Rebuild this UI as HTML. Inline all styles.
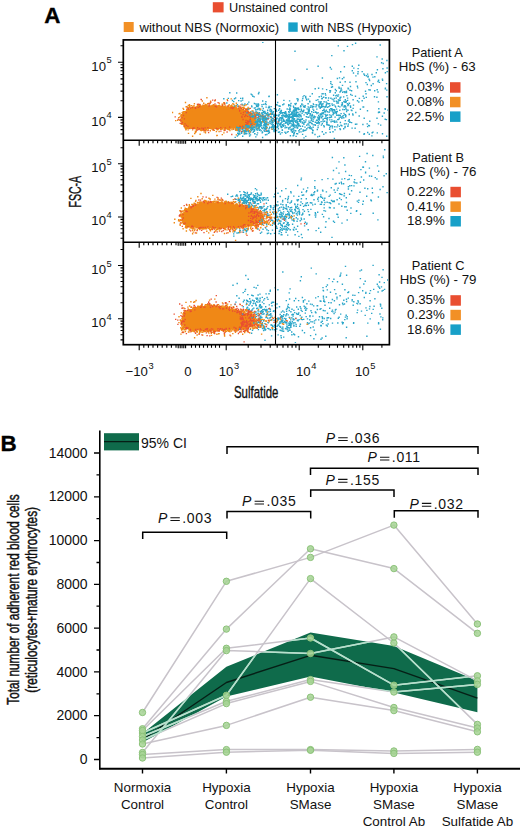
<!DOCTYPE html>
<html><head><meta charset="utf-8"><style>
html,body{margin:0;padding:0;background:#fff;}
body{width:520px;height:830px;overflow:hidden;font-family:"Liberation Sans",sans-serif;}
svg{display:block;}
</style></head><body>
<svg width="520" height="830" viewBox="0 0 520 830">
<defs><filter id="soft" x="0" y="0" width="1" height="1"><feGaussianBlur stdDeviation="0.3"/></filter></defs>
<g filter="url(#soft)"><path d="M257.3 123.7h0M265.8 118.8h0M262.6 137.5h0M264.7 117.1h0M283.9 104h0M255.7 120.6h0M295.7 115h0M242.6 131.3h0M271.4 127.8h0M264.5 125.2h0M257.3 130.1h0M279 119.9h0M250.1 127.9h0M280.2 124.3h0M298.9 119.3h0M288.7 111.6h0M251.8 119.2h0M298.1 99.3h0M293.5 106.2h0M296.3 108.7h0M285.4 115.5h0M270.4 114.1h0M274.8 115.9h0M251.6 129.1h0M287.6 120.1h0M247.8 128h0M276 121.7h0M251.8 124.8h0M237.7 133.2h0M246.8 133.6h0M254.7 120.7h0M274.3 120.9h0M293.1 113.2h0M254 126.8h0M292.3 132.3h0M296.6 116.4h0M252.2 129.1h0M264.1 130.2h0M297.1 98.8h0M268.5 122.9h0M296.2 109.3h0M286.3 127.5h0M270.2 109.4h0M290.3 123h0M255.6 127.9h0M278.7 120.9h0M252.5 115.7h0M288.9 129h0M276.4 118.8h0M290.2 105.3h0M278.5 132.3h0M241.4 132.4h0M253 128.3h0M255.8 136.9h0M270 121.3h0M246 133.9h0M245.7 125.2h0M245.9 127.3h0M244.9 126.9h0M278.6 115.9h0M276.4 122.8h0M241 126.3h0M282.1 113.4h0M286.6 116h0M284.5 113.2h0M260.3 120h0M257.1 125.4h0M251.7 123.6h0M289.5 123.5h0M288.7 104.8h0M283.8 115.2h0M277.3 126.6h0M295.3 116.2h0M276 109.5h0M277.7 123.9h0M265 124.5h0M235.6 130h0M297.6 121.8h0M290.1 121.2h0M253.4 120.1h0M255 128h0M282.8 115h0M245.2 130.8h0M283.6 121h0M266.1 131.3h0M239.6 130.9h0M286.9 127.5h0M281.8 122.3h0M248.7 124.2h0M271.5 110.2h0M238.5 134.8h0M259.3 130.2h0M289.5 114.8h0M298.4 114.3h0M264.7 123h0M272.4 122.3h0M280.8 112h0M280.4 134h0M286.6 114.3h0M268.5 124.6h0M292.6 120.4h0M285.6 122.7h0M251.5 119.2h0M258.2 115.4h0M288.7 105.7h0M264.7 125.2h0M252 125.3h0M236.3 129.4h0M251.1 122.3h0M297.6 123.3h0M280.9 126.1h0M292.9 131.7h0M276.6 115.3h0M276.1 123.4h0M278.8 121.8h0M295.6 104.5h0M266 126.4h0M273.9 129.5h0M268.5 130.4h0M279.6 132h0M272.4 113.1h0M257.5 125.6h0M273.3 124.6h0M275.9 122.9h0M286.6 120h0M281.3 126.6h0M255.3 123.5h0M266.9 134.5h0M259.4 112.6h0M251.8 123.9h0M288.3 124.7h0M274.8 117h0M277.4 127.4h0M250.7 127.1h0M285.4 112.9h0M254.9 129.9h0M285.6 111.7h0M281.8 115.7h0M288.7 128h0M256.4 124.5h0M235.2 137.4h0M274.1 131.5h0M271.3 119.6h0M296.4 108.4h0M250.2 115.6h0M280.5 123.7h0M247.1 126.4h0M261.8 127.7h0M248.6 128.1h0M273 122.6h0M246.6 130.7h0M288.1 116.2h0M272.1 121.3h0M257.6 132.9h0M291.2 129.7h0M277.7 102.5h0M289.3 116.3h0M237 127h0M247.7 129.3h0M298 108h0M277.3 118.1h0M263.9 124.5h0M273.8 116h0M284.8 112.4h0M275.6 117.4h0M269.7 127.3h0M265.9 118.8h0M263.9 117h0M262.6 119.8h0M285.3 125.9h0M266.9 122.8h0M279.6 108.7h0M248.9 126.8h0M299.4 121.4h0M264.7 122.8h0M237.4 130.5h0M267.1 127.2h0M262.3 128.6h0M250.6 117.5h0M282.6 117.4h0M276.3 110.4h0M242.8 130.9h0M291.8 112.2h0M237.9 128h0M262.8 117.1h0M293.7 116h0M293.9 114.5h0M285 132.2h0M298.5 108.3h0M285 121.4h0M294.7 121.1h0M236.8 128h0M275.4 116.8h0M293.7 110.9h0M250.2 122.7h0M247.9 130h0M268 114.3h0M258.9 117.1h0M261 124.2h0M249.6 136h0M294.9 109h0M295 112.8h0M293.8 116h0M237.1 129.1h0M262.9 118.1h0M290.4 135.8h0M285 127.9h0M267.9 113.1h0M293 115.3h0M274.4 129.2h0M267.1 124.7h0M251.4 115.9h0M297 126.7h0M239.8 129.3h0M255.3 107.9h0M252.6 122.7h0M297.6 133.7h0M267.4 118.6h0M293.4 128.5h0M247.1 126.7h0M293.1 121.6h0M247.3 126.5h0M268.2 118.2h0M282.2 118.6h0M249.9 113.5h0M257.6 128.4h0M254.1 121.1h0M257.4 124.2h0M281.3 119.1h0M266.7 128.3h0M272.4 126.3h0M259.5 119.1h0M275.5 123.8h0M264.7 122.3h0M271.3 124.1h0M295.8 125.9h0M250.7 131.7h0M242 131.8h0M293.7 110.3h0M253.1 132.4h0M297.7 124.5h0M291.3 130.7h0M259.6 126.8h0M294.6 126.9h0M263.9 122.2h0M251.9 122.4h0M292.8 129.4h0M261.1 130.8h0M299.2 132.1h0M239.9 134h0M292.8 116.9h0M251.6 127.5h0M251.2 126.4h0M244 110.9h0M252.8 127.7h0M242.1 129.4h0M249.6 133.2h0M283.5 115.6h0M271.2 113.1h0M287.3 132.1h0M297 125.4h0M292.6 112.7h0M267.4 130.9h0M291.5 117.2h0M251 121.4h0M257 121.5h0M295 127.6h0M294.9 110.4h0M261.4 122.2h0M273.3 127.3h0M282.5 117.2h0M252.9 115.3h0M251.7 129.9h0M293.8 124.5h0M269.1 114.8h0M282.1 127.1h0M239.1 127.9h0M280.5 113.6h0M256.9 113.2h0M290.2 120.9h0M263.1 118.2h0M278.7 110.2h0M259.4 116.3h0M254.7 133.7h0M299.2 125.3h0M296.2 120.8h0M247.5 129.4h0M274.6 117.3h0M285.9 112.5h0M280 117.8h0M294.7 115.8h0M263.9 125.6h0M254.1 129.8h0M253.4 120.2h0M277.8 125.6h0M251.7 125.6h0M252.3 128.7h0M272.8 122.6h0M293.2 135.6h0M275.4 127.3h0M261.1 123.6h0M266.6 114.9h0M280.6 126h0M254.1 123.9h0M255.7 123.6h0M287.9 122.1h0M293.6 126.4h0M273.5 128.4h0M271.3 114.6h0M287.8 124.4h0M263.5 120.1h0M283.6 125.2h0M289.5 121.1h0M258.4 128.8h0M289.4 118.2h0M298 124h0M259.2 119.3h0M269.8 110.9h0M264.2 118.7h0M258 125.5h0M275.1 115.2h0M283.9 100.4h0M293.2 125.3h0M257 128.2h0M248.5 131.7h0M265.7 119.1h0M270.1 123.4h0M258.6 121.2h0M283.7 121.2h0M297.4 123.7h0M251.9 129.3h0M240 130.5h0M257.4 124.7h0M276.6 122.4h0M246.4 131.8h0M256.8 123.7h0M267.6 116h0M252.7 122h0M299.3 114.5h0M243 127.2h0M298.7 109.5h0M274.4 114.9h0M276.6 111.4h0M289.8 110h0M239.3 131.8h0M257.6 128.2h0M260.1 129.6h0M290.4 117.2h0M260.3 120.7h0M286.6 116.1h0M283.4 112.6h0M289.4 121.8h0M263.5 116.8h0M245.4 126.3h0M298.7 123.5h0M256.2 122.9h0M244.9 126.8h0M291.2 126h0M261.5 123.3h0M252.8 116.9h0M284.1 120.4h0M296.5 108.4h0M283.5 119.6h0M258.8 113.9h0M276.5 119.7h0M265 113.6h0M269.5 132.6h0M288.9 120.5h0M274.9 125.8h0M289.8 115h0M272.2 129.4h0M293.5 123.2h0M246.3 126.8h0M253.7 124.2h0M258.8 118.8h0M297.2 109h0M253.6 123.8h0M277.9 125.3h0M290.3 109.1h0M249.9 128h0M250 127.6h0M257.7 125.7h0M252.6 127.6h0M293.7 107.6h0M282.4 124.6h0M253.4 124.2h0M261.6 125.9h0M239.5 127.3h0M254.4 131h0M261.8 125.9h0M257 114.8h0M293.7 119.5h0M282.8 104.8h0M276.9 123.6h0M296 121h0M269.2 128.6h0M292.1 117.9h0M283.4 126.2h0M293.8 135h0M280.7 111.2h0M267.3 131.2h0M246.1 127.9h0M294.5 132.3h0M265.5 117.5h0M270.4 116.6h0M257 134.7h0M288 116.5h0M256 126.1h0M258.9 127.9h0M280.9 117.7h0M246.7 131.4h0M291.6 120.1h0M277.4 94.7h0M289.4 120.1h0M282.3 129.9h0M273 112.6h0M297.8 100.7h0M239 133.4h0M273.5 128.2h0M250.6 129.4h0M236.5 126.8h0M282.3 112.6h0M250.9 130h0M266.9 118.7h0M254 113.2h0M282.6 125.4h0M285.8 133.3h0M289.1 109.4h0M248.8 130.8h0M298.7 126h0M245.7 131.9h0M247.9 129.2h0M246.9 130.7h0M249.2 133.9h0M248.6 131.3h0M257.3 124h0M252 119.7h0M292 114.6h0M286 117.4h0M289.3 118.5h0M265.9 124.8h0M288.4 124.6h0M276.6 130.5h0M287.9 121.1h0M253.5 118.3h0M250.9 127.4h0M278.4 128.7h0M320.8 103.7h0M340 128.8h0M321.4 125.1h0M319.2 119.1h0M313.7 104.6h0M331.9 108.7h0M301.1 128.8h0M307.3 114.1h0M302.5 118.8h0M329.1 112.3h0M339 119.1h0M303.5 111h0M321.3 114.7h0M336.9 103h0M301 131.9h0M344.3 102h0M340.2 100.2h0M299.2 109.4h0M320.6 114h0M313.3 124.9h0M308.6 111.1h0M303.2 130h0M319.7 118h0M316.8 123h0M292.1 116.7h0M338 101.6h0M329.2 125.2h0M334.2 120.9h0M311.9 117h0M291.6 121.3h0M346.6 111.5h0M315.6 112h0M327.6 107.3h0M339.9 106.9h0M312.3 93.7h0M349.2 114.5h0M330 110.7h0M303.1 131.4h0M305.6 121.9h0M338.2 119.5h0M329.8 119.9h0M317.7 136.9h0M326.7 118.5h0M313.2 121.2h0M313.6 117.2h0M320.7 102.9h0M348.4 121.1h0M331.1 121.8h0M347.9 105.5h0M308.3 113.3h0M300.9 119.1h0M324.1 109.1h0M300.7 119.6h0M302.6 126.3h0M309.7 127.7h0M332.2 110.2h0M319.4 104.5h0M322.3 131.8h0M320.1 102.1h0M348.5 104.7h0M292.3 112.7h0M346.8 109.9h0M320.5 115h0M323.8 134.3h0M318.7 115.4h0M325.2 107h0M305.7 97.8h0M304.1 114.9h0M325.9 116.7h0M327.1 122.8h0M302.6 122.2h0M344.4 106.1h0M343.2 115.7h0M341.9 118.3h0M345.5 106.5h0M347.6 98.1h0M310.2 126.4h0M300.5 115.9h0M334.8 126.7h0M299.4 121.1h0M301.1 116.7h0M292 114.5h0M303.6 106.7h0M330.4 117.4h0M315.4 125.3h0M331.5 109.4h0M319.2 116.8h0M326.1 102h0M332 126h0M310.3 107.2h0M345.3 120.6h0M312.8 130.8h0M294.1 111.7h0M341.6 105h0M295.3 110h0M318.1 112.7h0M297.1 127.7h0M327.1 103.3h0M306.8 128.7h0M343.1 115.7h0M303.9 120.6h0M332.1 104h0M292.7 125.9h0M295.7 130.7h0M317.1 120.3h0M305.8 130.3h0M323.1 113.9h0M296.5 110.7h0M342.8 109.5h0M332.4 127.9h0M311.2 120.4h0M304.1 95.6h0M323 120.1h0M292.8 115.6h0M319.5 136.3h0M294.2 116.2h0M311.6 123.4h0M318.9 105.3h0M333 114.7h0M299.8 115.7h0M302.3 123.1h0M304.9 107.3h0M348.3 124.1h0M292.4 112.9h0M325.3 118.4h0M349.3 114.1h0M348.1 125.9h0M301.9 104h0M321.1 121.6h0M308 124h0M334.7 110.3h0M292.3 121.4h0M313 106.8h0M298 112.4h0M340.4 129.6h0M296.7 125.4h0M345.9 115.5h0M297 116.9h0M299.9 119.8h0M316.9 113.5h0M319.5 117.3h0M335.3 106.3h0M334.4 138.4h0M292.4 124.7h0M327.5 115h0M346.9 95.6h0M321.2 107.4h0M326.6 122.2h0M304 137.9h0M346.5 92.6h0M334.5 122.1h0M295.2 110.4h0M326.5 115.2h0M334 104.9h0M328.6 98h0M341.8 105.1h0M318.6 118.4h0M318.1 127.6h0M294.3 114.1h0M307.2 114.3h0M308.1 127.5h0M309.2 113.1h0M297.2 112.5h0M292.7 131.1h0M299.7 114.3h0M330.6 108.6h0M342.4 104.3h0M327.2 120.9h0M303.9 124.4h0M323.1 121.8h0M305.8 136.4h0M312.3 106.2h0M324.1 110.5h0M291.5 121h0M325.5 111.7h0M290.8 114.5h0M309.4 110.5h0M338.4 106.3h0M308.5 117.2h0M310.1 115.2h0M301.8 104.2h0M313.1 127.3h0M319.3 120.1h0M303.8 123.1h0M292 121.1h0M297.6 128.1h0M308.1 112.2h0M304.8 122.3h0M329.6 117.5h0M322.7 116.2h0M334.4 109.8h0M296.3 113.7h0M312.1 123.8h0M327 124.8h0M340.9 97.1h0M315.3 122.2h0M345.3 114.7h0M335.3 92.8h0M336.9 95.1h0M336.3 111.7h0M320.2 114.1h0M294.6 119h0M309.2 109.7h0M295 103.7h0M309 125.1h0M345.9 101h0M335.7 112h0M316 106.8h0M318 118.1h0M344.5 109.6h0M294 116.2h0M321.4 96.3h0M329.6 109.6h0M300.3 120.3h0M299 114.5h0M290.7 117.3h0M332.9 110.1h0M303.9 124.4h0M336.8 115.3h0M306.7 99.9h0M298.2 116.3h0M343.7 128.7h0M322.2 113.2h0M331.6 109.5h0M292.6 115.9h0M309.2 122.7h0M337.7 119.6h0M332.5 126.4h0M325.7 95.1h0M349.2 119.6h0M302.1 119.4h0M302.6 134.4h0M317.8 123.1h0M310.3 128.3h0M349.7 122.4h0M312.6 121.1h0M312 129.3h0M289.9 108h0M322.3 123.8h0M335.7 112.6h0M342.1 116.8h0M303 96.9h0M327.2 119.2h0M344.9 92.5h0M313.3 103.9h0M293.2 135.9h0M337.3 111.4h0M295.2 107.9h0M345.1 126.5h0M342.2 102.8h0M300.9 115.2h0M312.6 133h0M317.3 129.5h0M316.4 112.4h0M328.4 125h0M324.6 118.4h0M339.2 88.2h0M313.8 106.6h0M359.4 98.4h0M342.5 85.4h0M314.5 117.9h0M339 87.3h0M337.9 96.3h0M341.6 90h0M380.2 45h0M319 106.7h0M367.3 84.5h0M362.2 71.6h0M330.8 83.6h0M366 93.8h0M345.5 102.3h0M377 56.9h0M382.4 79.1h0M379.4 82.4h0M343.7 96.9h0M374.5 96.7h0M323.3 106.4h0M315.2 88.8h0M339.1 100.1h0M315.3 112.3h0M305.3 112.6h0M366 82.6h0M373 77.1h0M357.4 86.2h0M320.2 108.2h0M312.1 107.4h0M350.2 122.1h0M357.5 100.8h0M378 81.5h0M340.4 97.4h0M322.6 88.9h0M351.6 90.7h0M322 93.9h0M387.1 68h0M305 127.1h0M325.8 115.3h0M316.8 105h0M357.9 73.8h0M330 92.3h0M322.2 98.2h0M333.6 95.2h0M377.2 89.8h0M358.1 71.8h0M382.9 68.7h0M340.2 82.3h0M367.5 110.7h0M343.9 77.5h0M318.6 88.2h0M352.1 95.4h0M355.5 96.3h0M350 90.3h0M335.9 95.7h0M376.3 72.7h0M305.2 105.6h0M385.3 88.9h0M306 120h0M326.6 89.6h0M387 96.7h0M306.6 99.3h0M321.1 101.7h0M310.4 113.8h0M351.3 110.1h0M382.2 59h0M346.5 91.2h0M371.3 85.5h0M363.9 74h0M334.3 98.5h0M315.5 116.9h0M325.9 97.6h0M323.5 112.8h0M366.3 97.4h0M323.8 110.3h0M352.3 66.3h0M331.4 69.1h0M330.5 90.8h0M322.4 78h0M302.1 113.3h0M322.5 106.2h0M308.1 103.8h0M350.5 106h0M370.2 90h0M341.1 113.6h0M316.2 100.4h0M309.7 101.2h0M336.5 112.3h0M341.1 88.2h0M364.6 75.2h0M342.7 92.3h0M304.9 106.3h0M318.8 101.9h0M332.1 84.6h0M353 115h0M350.5 86.5h0M302.3 100.5h0M309.8 101.8h0M385.4 88.1h0M322 104.3h0M332.2 99.1h0M340.7 91.3h0M319.2 96.8h0M355.9 75.9h0M306 112.9h0M353.5 73h0M336.2 98h0M325.5 106.6h0M337.4 78.5h0M364.1 98.3h0M386.8 90.1h0M358.1 68.6h0M311.9 118.8h0M369.6 80.5h0M321.8 107.2h0M368.1 76.2h0M345.9 108.7h0M323.1 93.8h0M377.4 69.8h0M303.8 110.2h0M353.5 105.1h0M387.2 71.6h0M334.1 101.2h0M369.1 79.3h0M378.6 80.3h0M306.3 116.6h0M310.1 96.4h0M336.6 109.1h0M341 89.9h0M319.9 106.9h0M328.2 100.4h0M345.2 81.8h0M308.5 99.1h0M362.9 124.5h0M378.4 123.9h0M321.8 107.3h0M351.6 122.6h0M311.2 128h0M318.1 125.9h0M312.4 132.6h0M369.8 121.3h0M309 121.1h0M373 132.1h0M321.6 114.9h0M310.7 122.2h0M303.4 130.1h0M385.1 108.8h0M330 110.9h0M336.9 122.1h0M300.4 126.3h0M367.7 132.5h0M309.9 122.6h0M356.8 124.1h0M330.2 132.3h0M368.6 125.4h0M339.4 126.4h0M316.8 109.1h0M384.2 113h0M346.1 123.7h0M325.9 132.8h0M315 134.5h0M369.3 134.2h0M347.8 126.4h0M306.8 125.2h0M337 126.9h0M353.1 108.4h0M378.8 108.8h0M378.5 112.5h0M359.5 131.9h0M385.3 109.2h0M377 118.2h0M367.6 126.6h0M369.4 125.7h0M379.1 112h0M355.8 112.5h0M323.2 119.3h0M355.1 128.3h0M350.6 107.2h0M387.9 110.1h0M382.4 116.2h0M300.2 111.8h0M313.7 110.3h0M364.4 133.8h0M355.5 124.3h0M386.7 136.3h0M379.5 112.2h0M318.1 66.2h0M347.5 46.4h0M294.8 80h0M378 92h0M330.3 67.5h0M378.4 101.9h0M351.9 110.5h0M262.8 42.2h0M295 51.3h0M319.1 123.9h0M338.9 115.5h0M293.3 128.6h0M376.9 97.3h0M352.1 128.1h0M333.4 109.8h0M344 50.8h0M338.3 45.9h0M381.6 62.8h0M355.6 43.2h0M331.8 55.6h0M353.8 68.1h0M352.5 44.6h0M259.8 114.5h0M244.9 104h0M267.7 110.3h0M255.4 122.3h0M276.2 121.4h0M278.9 105.9h0M262 104.7h0M259.8 122.2h0M254.4 103.5h0M255.5 120.8h0M274.5 119.9h0M251.1 123h0M263.8 120.2h0M250.5 134.9h0M247.9 113.2h0M251.7 106h0M262.7 101h0M247.7 104h0M260.1 110.1h0M271.4 117.3h0M228.3 98.4h0M232.5 100.5h0M266.1 104.6h0M252.8 96.2h0M233.7 101.6h0M254.2 96.9h0M238.7 100.6h0M274.3 108.6h0M258.5 93.8h0M240.7 98.4h0M259.8 109h0M242.6 100.1h0M265.9 101.7h0M234.5 98.7h0M259 92.5h0M269 96.6h0M223.8 98.7h0M251.1 94.1h0M269.4 107.5h0M235.6 98h0M251.9 94.8h0M242.7 98.3h0M237.4 104.6h0M255.9 104h0M260.4 125.9h0M266.7 118h0M265.6 127.1h0M250.1 113.3h0M258.8 116.5h0M256.5 105.7h0M253.4 121.1h0M257.8 118h0M240.5 110.7h0M272.2 126.7h0M258.1 106.5h0M256.1 124.3h0M258.1 121.7h0M252 125.2h0M256.6 114.1h0M255.1 116.3h0M272.3 113.7h0M266.3 118.3h0M257.7 121.3h0M265.3 121.6h0M277.1 105.1h0M248.9 108.8h0M262.8 113h0M255.5 118.4h0M252.5 113.8h0M263.2 121.5h0M250.9 111.8h0M264 128.1h0M251.8 119.8h0M262.4 116.8h0M264.4 117.8h0M262.2 115.9h0M260.3 119.2h0M255.9 112.4h0M254.3 124.4h0M266.3 126.5h0M255.4 118.6h0M248.8 102.1h0M254.8 117.6h0M263.7 111.5h0M257.7 112.5h0M270.9 111.5h0M269.6 114.4h0M264.9 120.6h0M274.8 115.9h0M256.1 111.5h0M267.5 112.5h0M257.1 117.6h0M259.9 119.7h0M251.1 119.2h0M260.7 122.3h0M272.7 121h0M257.4 121h0M266.6 124.3h0M248.5 113.7h0M259 108.5h0M260.3 115.6h0M257.5 109.2h0M250 124.5h0M258.2 120.8h0M256.8 106.6h0M258.4 104h0M279.6 106.1h0M262.9 114.8h0M260.3 119.4h0M268.5 107.7h0M252.2 128.9h0M255.1 114.1h0M265.7 129h0M265.2 116.2h0M256.1 122.8h0M258.2 114.3h0M241.2 111h0M257.4 104.1h0M261.2 115.9h0M263.5 111.7h0M259.5 116.3h0M263.3 108.5h0M271.6 117.4h0M259.2 124.2h0M251.9 106.7h0M282.1 121.1h0M266.8 119.2h0M265.5 123.6h0M265 115.7h0M246.8 112.2h0M265 125.3h0M271.8 120.1h0M250.1 122.2h0M263.4 120.8h0M256.1 118.1h0M258.7 105h0M255 133.9h0M263.8 104.4h0M262.8 121h0M261.2 122h0M269.1 131.2h0M243.8 105.1h0M266.1 119.1h0M259 126.8h0M249 108.5h0M252.4 118.1h0M256.2 115.8h0M252.2 121.1h0M252.7 121.4h0M266.1 107.1h0" stroke="#2aa6c9" stroke-width="1.4" stroke-linecap="square"/>
<path d="M185 114 L186.7 112.7 L188.3 111.3 L190 110 L191.7 109.6 L193.3 109.2 L195 108.8 L196.7 108.3 L198.3 107.9 L200 107.5 L201.7 107.5 L203.3 107.4 L205 107.4 L206.7 107.3 L208.3 107.3 L210 107.2 L211.7 107.2 L213.3 107.1 L215 107.1 L216.7 107 L218.3 107 L220 107.2 L221.7 107.4 L223.3 107.5 L225 107.7 L226.7 107.9 L228.3 108 L230 108.2 L231.7 108.4 L233.3 108.6 L235 109.2 L236.7 109.8 L238.3 110.4 L240 111 L241.7 111.5 L243.3 112.2 L245 113.4 L246.7 114.6 L248.3 115.8 L250 117 L250 122.5 L248.3 123.2 L246.7 123.9 L245 124.6 L243.3 125.4 L241.7 125.7 L240 126 L238.3 126.2 L236.7 126.5 L235 126.7 L233.3 127 L231.7 127 L230 127.1 L228.3 127.2 L226.7 127.2 L225 127.3 L223.3 127.3 L221.7 127.4 L220 127.4 L218.3 127.5 L216.7 127.5 L215 127.5 L213.3 127.5 L211.7 127.5 L210 127.5 L208.3 127.5 L206.7 127.5 L205 127.5 L203.3 127.5 L201.7 127.5 L200 127.5 L198.3 127.4 L196.7 127.3 L195 127.2 L193.3 127.2 L191.7 127.1 L190 127 L188.3 126.2 L186.7 125.3 L185 124.5Z" fill="#f08816"/>
<path d="M250 116.8h0M184.5 122.7h0M247.4 126.2h0M241 124.8h0M215.6 106.3h0M250.2 123.3h0M249.1 115.7h0M242.5 125.2h0M233.4 106.9h0M209.9 107.2h0M247 113.1h0M184.2 122.4h0M250.5 123h0M211.2 128.7h0M224.4 106.3h0M200.2 126.6h0M242.2 112.1h0M238.8 110.8h0M250.2 118.7h0M250.9 118.3h0M238.8 127h0M211.3 126.7h0M186.4 124.3h0M244.2 113.7h0M248.1 114.6h0M246.8 114.2h0M214 128.2h0M198.7 129.1h0M249.9 119.1h0M246.7 113.1h0M204 105.9h0M242.7 126.8h0M236 110.2h0M237.9 126.4h0M215.5 106.7h0M245.7 124.4h0M229.5 126.9h0M252.2 120.2h0M185.6 115.7h0M234.4 110h0M206.8 128.5h0M248.5 122.7h0M186.5 126h0M186.6 128h0M252.3 119.7h0M220.7 106.8h0M235.7 110.4h0M231.6 108.8h0M204 128.3h0M229.7 127.6h0M207.5 128.4h0M206.5 107.1h0M184.1 114.1h0M185.5 119.4h0M204.3 127.3h0M246.9 114.1h0M224.9 107.6h0M185.5 114.8h0M195.6 127.2h0M205.4 127.3h0M245.4 123.5h0M240.1 111.8h0M226.9 127h0M199 126.8h0M247 123.9h0M192.8 109h0M249.1 122.9h0M232.5 126.1h0M185 118h0M232 108.4h0M246.6 112.9h0M205.1 128.9h0M181.3 114.8h0M181.4 124h0M242.8 125.3h0M212.1 106.5h0M205.3 108.3h0M248.9 116.9h0M235.8 109.3h0M250.6 118.7h0M250 120.3h0M226.5 127.9h0M201.2 129.6h0M246.9 114.7h0M194.3 108.6h0M182.7 113.5h0M231.9 128h0M187 110.4h0M220.9 126.6h0M244.8 111.6h0M186 125.3h0M245 114.3h0M222.9 126.5h0M242.5 112.6h0M233.2 126.5h0M197.1 109h0M212.2 106.3h0M249.5 121.1h0M202.1 127.2h0M208.5 107.2h0M204.7 107.5h0M186.7 125.3h0M215.6 107.9h0M185.9 120.2h0M198.5 126.7h0M243.4 112.7h0M206.2 108.2h0M185.7 127.2h0M238.8 108.6h0M238.1 109.1h0M243.9 112.5h0M203.9 108.4h0M198.7 126.6h0M249.2 117.1h0M211.7 126.8h0M214.3 130.4h0M249.2 124.2h0M236.8 125.9h0M203.6 105.4h0M197.7 107.6h0M249.6 120.6h0M235.3 108.8h0M205.4 107.1h0M207.8 128.4h0M251.8 115.2h0M196.4 108.6h0M249.3 117.5h0M245.2 114.4h0M222.5 127.9h0M249.5 116.9h0M248 115.4h0M226.7 127.3h0M188.1 109.2h0M201 128.3h0M204.6 107.2h0M203.4 126.8h0M185 118.3h0M192.9 106.7h0M224.6 128.8h0M219.3 108.1h0M211.7 105.9h0M240.6 111.2h0M188.8 125.7h0M241.1 110h0M187.3 125.6h0M183.3 113.8h0M188.7 111.7h0M249.3 123.4h0M238.6 110.6h0M218.6 127.5h0M200.7 128h0M247.8 123h0M194 126.2h0M221 108h0M205.1 129.7h0M232.9 109h0M185.5 120h0M248.3 116.4h0M228.7 108.7h0M199 107.3h0M201.8 127.7h0M240.4 110.1h0M238.1 125.5h0M195.1 109.2h0M250.1 117.1h0M185.7 119.8h0M235.5 110.1h0M249 119.9h0M251.5 117.1h0M250.8 121.6h0M190.7 109.4h0M184.3 114.9h0M200.4 127.2h0M249.2 118.6h0M249 120h0M222.2 106.7h0M184.4 123.3h0M185.8 112.5h0M217.2 129.9h0M217 129h0M247.7 114.5h0M245.8 124.1h0M201.2 108h0M192.2 127.9h0M242.5 107.4h0M243.4 126.8h0M251.9 121.9h0M185.5 121.8h0M192.9 127.5h0M213.6 127.8h0M240.4 107.7h0M189.5 110.7h0M223 107.2h0M242.5 111.3h0M202 127h0M222.6 107.5h0M240.6 111.9h0M205.1 126.8h0M251.1 117.5h0M221.9 127.6h0M225.9 107.4h0M185.2 116.3h0M233.4 126.8h0M210.9 126.7h0M246.6 111.9h0M182.1 121.7h0M198.1 107.7h0M252.9 120.8h0M230.7 126.8h0M221.6 126.7h0M220.8 128.2h0M188.3 125.2h0M247.6 123.2h0M240.4 112h0M205.2 129.2h0M204.4 127.6h0M229 126.9h0M233.5 109h0M227.2 107.6h0M199.3 128.3h0M246.2 125.9h0M231.1 108.5h0M241.5 110.4h0M236.2 108.7h0M221.8 127.1h0M245.8 124.7h0M247.7 115.7h0M217.8 106.4h0M216.1 126.6h0M243.5 110.3h0M188.3 112.2h0M184.7 118.8h0M245.5 114.3h0M247.5 114.6h0M192.7 110h0M206.9 127.9h0M242.2 126.1h0M180 117h0M198.6 108h0M219 107.3h0M237.2 126.6h0M247.4 124.4h0M219.2 127.2h0M190.6 127.2h0M184.2 121.9h0M186 117h0M235 108.8h0M249.8 121.5h0M212.7 128.1h0M219.2 107.6h0M204.1 127.2h0M235.3 109.7h0M189 126.7h0M231.7 126.6h0M217.9 126.8h0M249.6 117.6h0M223.7 127.5h0M253.5 117.3h0M241.7 125.4h0M212.6 106.1h0M215.3 127h0M247.8 115.3h0M236.4 125.7h0M186.2 111.3h0M195.2 127.2h0M247.9 112.9h0M216.3 128h0M239.5 126h0M235.2 108.5h0M250.6 116h0M183.6 121.8h0M246.9 124.5h0M251.1 123.2h0M217.2 127.1h0M246.6 114.2h0M189 127h0M242 127h0M195.5 128.7h0M183.8 120h0M185.2 116.2h0M216.9 128.1h0M248.5 113.7h0M247.2 122.9h0M221 129.2h0M201.3 126.6h0M247 112.5h0M238.8 126.1h0M226.7 127.1h0M247 115.8h0M183.6 123.6h0M250 118.2h0M208.8 107.1h0M249.7 122.3h0M247.2 114h0M184.6 124.1h0M198.3 127.4h0M196.8 109.2h0M225.6 105.9h0M233.9 126h0M244 113.5h0M195.8 126.6h0M249.6 121.6h0M198.4 108h0M189.2 128h0M198.5 127.2h0M194.8 109.7h0M248.3 116h0M221.6 106.9h0M227.8 129.3h0M209.5 105.3h0M190.7 110.1h0M249.1 123h0M237.8 110.8h0M246.4 115.1h0M203.4 128.2h0M188.9 127.1h0M183.1 108.4h0M203.8 107.2h0M246.1 113.1h0M218.6 127h0M201.8 130h0M223.5 127.8h0M185.3 114h0M183.6 109.4h0M232.8 126.7h0M247.8 122.8h0M188 126.9h0M226.4 108.8h0M249.8 122.5h0M214.2 106.3h0M189.3 109.5h0M211 107.2h0M242.1 112.3h0M189.3 109.5h0M249.5 123h0M188.3 110.7h0M223.6 107.8h0M208.1 127.6h0M225.1 106.5h0M188.6 109.4h0M246.7 113.8h0M217.3 105.9h0M251.2 119.9h0M224.1 130.6h0M180.8 119.3h0M252.1 120.6h0M201.8 107.2h0M184 123.7h0M204.3 127h0M183.8 124.1h0M189.6 127.2h0M211.8 128.2h0M188.7 125.6h0M188.3 109.1h0M183.4 121.1h0M214.5 106.9h0M251.7 120.5h0M203 106.8h0M244.3 112.7h0M211.5 127.9h0M207.4 128.5h0M246.5 112.5h0M235.9 127.4h0M209.7 128h0M221.1 108.1h0M189.1 111.5h0M183.1 123.1h0M213.7 107.8h0M246.7 115.5h0M251.5 120.1h0M217.6 126.9h0M218.6 108h0M190.2 108.8h0M237.2 110.8h0M200.7 126.6h0M250.3 119.5h0M201.7 127.5h0M204.9 129.1h0M206.8 104.7h0M200.4 107.8h0M192.9 108.9h0M228.2 127.6h0M229.5 128.2h0M238.3 109.3h0M217.2 106.6h0M185.3 122.9h0M237 125.9h0M187.9 128.3h0M246.2 124.5h0M183.7 118.1h0M213.6 128.5h0M243.2 126.7h0M240.6 110.9h0M207.9 108.2h0M251 121h0M250.4 117.9h0M184.9 121.5h0M193.2 108.5h0M183 113.8h0M252.8 123.2h0M201.6 106.3h0M244 113.6h0M200.6 106.2h0M186.4 124.8h0M231.9 127.9h0M184.8 126h0M236.2 109.3h0M243.4 112.6h0M243.2 126h0M226.4 127.3h0M218.1 107.1h0M178.7 117.7h0M207.5 126.7h0M249.6 119.4h0M243.8 112.5h0M243.9 113.6h0M250.5 121.9h0M245 112.7h0M202.8 127.3h0M239.1 127.8h0M182.8 117h0M191.8 127.6h0M202 107.9h0M251.3 119.5h0M246.7 111.8h0M227.8 107.5h0M250.2 117.2h0M251.2 121.1h0M191 126.3h0M249.5 117.2h0M203 127.6h0M190.8 126.1h0M238.8 110h0M226.4 108.8h0M232 108.3h0M248.5 123.4h0M246.2 114h0M213 108.1h0M249.7 118.8h0M185.8 122h0M184.9 113.5h0M193.4 109.8h0M246 113.5h0M241.6 111.8h0M186.1 113.9h0M203.8 127.5h0M239.5 111.3h0M197.9 128.2h0M187.2 124.7h0M195.5 128.2h0M183.9 118h0M242 112.5h0M249.7 114.4h0M250.4 115.2h0M196.2 128.3h0M222.1 106.3h0M196.7 107.6h0M210.3 130.8h0M246 123.3h0M227.9 107.3h0M248 122.5h0M191.1 126.1h0M207.3 128.6h0M238.8 109.1h0M185.6 122.4h0M239.3 128.8h0M248.7 122.2h0M188.8 127.2h0M247.4 124.3h0M240.6 111.4h0M244.5 113.2h0M244.6 112.6h0M251.2 116.6h0M232.5 109.4h0M250.4 117.7h0M210.1 106.4h0M241.4 125.8h0M236 108.4h0M244.4 125.8h0M248.9 122.6h0M248.2 115.6h0M224.8 126.3h0M251.1 125h0M210.1 108.1h0M234.1 109.1h0M222.1 129.1h0M219.8 105.9h0M226.9 108.3h0M249.2 124.3h0M239.8 126.7h0M188.9 111h0M247.1 112.5h0M246.7 125.7h0M187.1 124.5h0M184.5 119.4h0M182 115.7h0M237.2 109h0M247.1 123.1h0M249.8 125.1h0M245.2 124.3h0M246.5 114.8h0M195.2 109.4h0M216.4 127.6h0M249 117.1h0M194.8 109.4h0M245 124h0M250.9 119.1h0M185.2 113.7h0M235.8 126.1h0M240.5 126.4h0M214.4 106.7h0M202.4 106.9h0M250.2 119.1h0M183.4 114.7h0M185.8 117.7h0M200.3 105.9h0M225.1 108.6h0M202 107h0M246.3 113.1h0M185.9 123.7h0M194 126.7h0M199 108.3h0M184.3 115.3h0M205.8 128.7h0M246 114.9h0M191.5 110.6h0M202.1 107.5h0M249.9 118.3h0M196.4 108.8h0M193.4 107.9h0M247.5 123.3h0M247 112.4h0M244.2 112.1h0M221.6 128h0M235.6 126h0M224 126.6h0M225.8 108.5h0M233.3 108.4h0M243.3 111.3h0M230.3 109.2h0M188 125h0M204.9 127h0M251.1 119.4h0M227.6 108.9h0M185.7 116.1h0M246.3 125.2h0M197.8 107.4h0M237.6 109.6h0M245.5 124.1h0M253.2 118h0M208.8 126.7h0M249.4 122.9h0M245.7 114.3h0M248.4 124.1h0M224.7 108.2h0M238 111.2h0M191.1 110h0M247.5 113.7h0M193.8 126.9h0M246.7 123.2h0M248.4 125.6h0M198.8 127.1h0M248.2 113.7h0M215.6 108h0M243.9 126.7h0M249.8 121.4h0M244.6 113.4h0M187.9 111.9h0M183.7 112.2h0M233.6 109.2h0M187.7 125.5h0M199.8 127h0M250.2 120.9h0M253.5 117.5h0M248.6 114.9h0M249.6 115.5h0M247.1 124.4h0M232.8 127.9h0M205.7 128.4h0M207.3 127.5h0M249.9 122h0M227.9 108.3h0M185.9 118.5h0M216.6 107.3h0M213.6 129h0M211.3 105.9h0M227.7 127.1h0M242.6 124.9h0M248.7 113.8h0M212.1 128.8h0M211.6 127.5h0M183.1 120h0M189.6 110.9h0M216.7 126.9h0M249.7 122h0M223 106.9h0M218.6 107.2h0M226.6 108.3h0M250 119.4h0M251.5 121.4h0M190.5 108.6h0M183 116.5h0M242.8 110.4h0M185.4 115h0M209.8 107.7h0M187.1 111.8h0M205.8 127.1h0M199.7 128h0M210.5 126.9h0M179.6 120.1h0M203.4 108h0M249.1 120.4h0M183.8 117.4h0M241.6 125.8h0M233.6 129.1h0M184.2 125.4h0M233.9 127.2h0M249.5 122.4h0M247.4 125.9h0M194.3 127.9h0M205.7 107.9h0M185.4 122.4h0M219.4 127.2h0M203.2 107.4h0M195.4 126.3h0M184.9 115.4h0M240.1 126h0M243.9 113.1h0M183.2 115.6h0M185 118.2h0M191.8 110.3h0M228.9 108.9h0M232 126.1h0M249.1 118.7h0M252.5 119.1h0M232.3 108.3h0M190.6 127.5h0M244.5 125.8h0M182.2 112.6h0M204.7 105.5h0M220.4 108h0M232.3 109.4h0M190 110.3h0M229.4 127h0M197 126.5h0M245.6 127.7h0M187.4 125.5h0M183.4 115.2h0M205.4 127.2h0M235.5 125.7h0M196.1 109.3h0M230.8 126.3h0M240.7 126.5h0M249.3 123.2h0M205.1 108h0M222.5 128.5h0M209.5 127.6h0M194 108.1h0M200.2 105.7h0M210.8 127h0M241.4 111.3h0M187 124.6h0M241.1 111.1h0M186.5 124.9h0M183.6 122.2h0M245.2 112.2h0M248.5 113.8h0M188.4 112h0M238.5 125.9h0M185.5 121.2h0M247.3 123.8h0M185.8 115.4h0M225.9 126.9h0M228.2 107.5h0M228.7 105.9h0M212.6 107.3h0M198.2 126.6h0M213.9 108h0M215.4 106.4h0M250.6 118.3h0M209.3 107.2h0M244.4 125h0M215.7 128.3h0M183.1 124.2h0M197.4 128.4h0M181.4 116.4h0M249.5 120.3h0M187.4 126.9h0M248.4 116.5h0M185.2 116.2h0M248.3 122.7h0M199.6 129.3h0M191.8 126.2h0M184.2 119.8h0M185.9 116.4h0M217.3 128.3h0M240.6 125.5h0M236.2 127.3h0M238.1 127.4h0M185.8 125.2h0M207.1 107.2h0M204.7 128.4h0M190.1 126.3h0M239.7 110.8h0M191.1 128.2h0M240.6 127.3h0M195.3 107.4h0M185.5 116h0M242.4 112.3h0M227.7 108h0M208 106.7h0M246.5 112.9h0M185.7 123h0M191.6 127.5h0M241.2 111.2h0M242.9 110.2h0M251.8 118.8h0M230.9 107.2h0M186.4 113.2h0M206.4 106.8h0M213.6 128.1h0M234.2 109.1h0M240.7 110.8h0M222.3 127.5h0M242.3 124.7h0M208.1 107.1h0M236.6 107.1h0M241.5 126.4h0M248 116.4h0M220.2 126.5h0M180.7 119.1h0M197.7 127.1h0M231.4 107.8h0M207.1 105.9h0M195.4 109.5h0M185.9 122.6h0M236.4 109.9h0M247.2 114.9h0M191.7 126.2h0M221.8 127.8h0M192.2 126.5h0M229.6 126.3h0M226.6 108.7h0M243.5 112.8h0M213.8 107.1h0M197.2 127.2h0M202.6 126.7h0M195.3 107.2h0M210.9 107.7h0M185.3 125.7h0M222.4 108.1h0M210.8 128.4h0M208.3 126.8h0M243.2 124.8h0M248.6 116.5h0M244.1 125.5h0M185.8 115.9h0M244.2 124.5h0M214.3 126.6h0M213.3 106.5h0M251 121.9h0M244.7 124h0M249.8 122h0M207.1 127.5h0M247.5 123.6h0M200.5 105.5h0M199.8 106.7h0M241.6 112.5h0M249.3 119.9h0M226.9 106.9h0M184.5 124.1h0M217.4 107h0M219.8 106.3h0M186 124.2h0M243.5 112.8h0M234 109.4h0M234.4 127.5h0M249.7 123.9h0M205.3 127.4h0M223.3 107.8h0M248 125.4h0M240.3 110.5h0M223.8 107.9h0M185.7 114.2h0M198 108.5h0M233.1 127.9h0M236.1 125.7h0M185.2 126.5h0M219 107.9h0M204.9 106.9h0M235.4 127h0M228.4 107.3h0M217.3 107h0M205.3 106.2h0M250.3 121.5h0M206.4 126.8h0M248.4 123.8h0M213.5 128.1h0M191.2 126.3h0M205.5 127.2h0M236 107.4h0M195.3 108.7h0M181.4 123.1h0M221.4 126.5h0M248.7 114.6h0M216.9 129.2h0M185.5 118.3h0M201.3 127.6h0M201.1 107.8h0M248.7 115.4h0M185.2 122.2h0M202.7 127h0M204.9 107.9h0M251.3 117.2h0M188.3 128.2h0M227.2 127.4h0M243.1 111h0M186 124.1h0M195.3 107.5h0M246 125.6h0M189.1 125.6h0M224 126.9h0M192.3 127.2h0M186.7 111.6h0M223.8 126.4h0M184.1 114.8h0M188.4 111.5h0M232.8 127.2h0M219.7 126.5h0M206.3 126.9h0M218.3 126.5h0M209.1 128.3h0M197.5 126.6h0M246.8 123.1h0M214.9 127h0M245.2 114.1h0M249.6 117.3h0M189.6 125.8h0M231.8 127.2h0M197 108.2h0M246.2 123.2h0M247.7 115.5h0M187.4 112.6h0M245.9 123.9h0M184.7 117.8h0M196.5 126.5h0M182.6 118h0M224.5 106.8h0M236.3 126.6h0M251.7 120.6h0M232.1 107.2h0M184.2 123.2h0M218.2 107.3h0M229 128.5h0M188.9 111.9h0M231.9 106.1h0M185.6 116.4h0M250.8 123.6h0M188.8 126.2h0M251 116.5h0M198.6 108.7h0M223.6 107.5h0M214 105.9h0M236.2 110h0M242.4 127.5h0M186.7 109.6h0M204.9 107.7h0M247.3 122.9h0M192.6 108.9h0M196.2 127.5h0M229 107.5h0M182.4 119.4h0M238.1 125.3h0M222.9 127.4h0M210.2 103.2h0M184.4 120.8h0M247.6 124.5h0M249.2 123h0M201 126.5h0M193.4 127.3h0M250.4 114.8h0M248 124.3h0M233.9 126.3h0M220.5 106.7h0M185.8 120h0M194.5 127.3h0M233.6 128.1h0M233.6 109.5h0M193.1 127h0M204.7 108.1h0M228.4 108.8h0M187.9 111.6h0M211.2 106.8h0M228.3 129.6h0M249.9 121.9h0M209.7 105.3h0M188.6 127h0M231.3 107.4h0M245.1 113.5h0M202.4 106.2h0M251.2 120.4h0M184.2 113.7h0M225.6 108.7h0M186 112.2h0M242.6 112.3h0M239.9 125.1h0M191.8 127h0M245.6 124.7h0M182.4 117.8h0M213.9 106.4h0M221.3 126.5h0M206.2 107.6h0M216.1 107.9h0M238.6 125.5h0M209.1 106.6h0M216 108h0M243.1 109.1h0M201.8 128.3h0M185.1 121.3h0M249.7 122.2h0M232.2 109.2h0M195.1 126.3h0M215.6 127.1h0M190.9 109.4h0M237.7 109.6h0M222.7 107.5h0M246.9 115.4h0M239.7 125.8h0M215.2 106.6h0M247.8 112.8h0M250.4 119h0M185.3 121.7h0M247.7 116.2h0M234.8 126.7h0M210.3 126.5h0M196.6 128.8h0M215.3 106.2h0M207.6 103.7h0M212.4 129.1h0M247.7 115.3h0M201.8 107.2h0M236.3 110.1h0M238.6 126.5h0M227.1 127.4h0M192.8 110.3h0M249.2 115.4h0M254 119.4h0M205.7 106.4h0M246.7 115.2h0M248.3 122.4h0M204.6 108.1h0M217.7 128.1h0M215.5 106.6h0M250 124h0M207.1 107.6h0M189.7 106.2h0M249 121.3h0M249.2 121.8h0M184.9 117.2h0M250.8 113.7h0M250.6 118.5h0M202.4 108.1h0M186.2 113.3h0M185.6 112.8h0M187.3 126.2h0M235.5 109.9h0M218.4 126.6h0M236.6 108.9h0M215.2 107.6h0M212.5 127.3h0M239.7 111.4h0M185.3 111.8h0M249.9 118.4h0M229.4 129.3h0M185.4 118.2h0M216.9 127.9h0M210.7 107h0M197 106.9h0M193.5 128.2h0M250.5 118.6h0M244 126.8h0M248.3 123.8h0M183.9 120.1h0M185.6 123.1h0M234.2 126.7h0M223.6 126.4h0M225.6 126.4h0M185 114h0M233.7 126.4h0M247.3 124.8h0M243.2 111.1h0M185.1 119.3h0M209.2 127.9h0M242.1 110.9h0M185.6 114.7h0M247.7 122.9h0M184.1 123h0M204.2 129.3h0M203.4 108.2h0M221.6 128.4h0M197.3 128.1h0M184.3 125.7h0M251 121.6h0M219.4 126.9h0M187.5 112.8h0M242.2 126.3h0M210.6 127.5h0M253.6 118.1h0M249.9 118.9h0M251.9 117.1h0M218.3 107.8h0M206.2 128.9h0M203.5 108.3h0M193.5 108.7h0M245.3 113.6h0M186 122.8h0M249.8 116h0M222.8 106h0M185.2 111.9h0M188.2 110.8h0M204.4 128.1h0M213 128.5h0M240.3 110.9h0M185.7 117.9h0M235.1 109.6h0M243.6 125h0M250.4 120.8h0M209.6 107.4h0M238.9 109.3h0M235.4 125.8h0M204.7 129.1h0M231.8 108.7h0M216.3 106.5h0M225.6 108.5h0M187.8 127.5h0M248.9 115.6h0M194.5 127.7h0M239.3 126.6h0M201.1 107.7h0M249.4 117.5h0M189.7 110.9h0M195.3 108.9h0M210.8 126.6h0M206.2 128.3h0M251.9 121.5h0M222.9 108.1h0M245.9 124.4h0M181.7 123.1h0M200.3 129.8h0M238.4 126.4h0M217.7 127.4h0M215.5 126.7h0M226.9 108.1h0M203.2 127.2h0M210 126.7h0M250.3 123.4h0M249.3 118.5h0M250 119.5h0M239.3 126h0M211.7 106.2h0M239.9 125.8h0M206.8 108.3h0M238.4 127.7h0M188.7 125.9h0M208.7 126.7h0M201.7 108h0M185.4 121.7h0M220.5 107.7h0M196.3 108.3h0M185.6 112.3h0M184.1 118.6h0M215.2 107.8h0M250.4 119.6h0M228 107.9h0M249.2 119.8h0M220.7 108.1h0M235.5 126h0M187.3 112.5h0M188.4 128.2h0M194.8 108.9h0M220 108h0M208 127.1h0M247.2 122.7h0M221.5 107.8h0M229.3 107.9h0M249.5 120.8h0M242.7 112.5h0M193.7 127.9h0M206.3 106.8h0M241.4 111.5h0M188.6 110.7h0M250.2 120.1h0M238.3 110.7h0M205.3 108.2h0M251.4 118.5h0M236.1 108.8h0M244.2 112.7h0M219.4 105.1h0M211.4 108.1h0M219.5 106.3h0M240 108.4h0M253.4 115.8h0M216.5 107.3h0M196 108h0M250.1 119.4h0M189 127.9h0M229.9 108.8h0M254.8 123.1h0M248 115.4h0M227.1 128.6h0M184.6 116.7h0M247.4 123.8h0M238.5 125.9h0M187.3 112.3h0M205.8 106.7h0M252.9 122.4h0M185.6 113.6h0M234 126.7h0M185.6 123.4h0M185.2 116.2h0M247.7 122.7h0M250.5 119h0M248.6 116.5h0M183.7 120h0M206.4 107.9h0M235 125.9h0M190.3 126.7h0M249.1 118.9h0M246.6 110.8h0M203.1 108.2h0M205.6 128.4h0M210.4 126.9h0M226.7 108.2h0M208.7 126.8h0M190.2 110h0M250.5 123.6h0M249 122.2h0M187 125.1h0M250.5 120.8h0M236.5 125.8h0M216.3 126.7h0M217.5 106h0M198.4 108.4h0M227.1 126.2h0M236.4 110.4h0M203.1 107.3h0M234 109.3h0M203.5 127.7h0M244.7 112.1h0M189.9 127.4h0M225.5 128.7h0M211.1 108h0M185.5 115.1h0M204.1 126.8h0M213.2 128.3h0M250.5 123.9h0M185.2 116.1h0M195.1 108.7h0M237.5 108.9h0M185 119.6h0M209.3 128.1h0M201.5 108h0M185.1 118.6h0M192 107.8h0M197.1 127.2h0M252.9 119.1h0M197.2 107.6h0M240.3 126.1h0M249.3 121h0M195.6 126.4h0M228.2 129h0M243.6 124.9h0M219.2 126.8h0M204.4 107.5h0M241.4 126.4h0M227 107.7h0M241 111.7h0M185.4 122.1h0M224.8 108.1h0M250.8 121.2h0M213 108.1h0M182.5 119.1h0M192 127.4h0M202.7 127.9h0M185.7 114h0M204.6 107.1h0M215.8 107.4h0M211.9 106h0M236.5 108.9h0M236.4 110.2h0M215.5 128.2h0M186.1 126.5h0M183.4 113.7h0M241.4 125.8h0M186.7 113.5h0M244.7 124.4h0M246.9 115.4h0M234.5 126.2h0M183.6 121.7h0M224.2 127.2h0M185.9 126.2h0M211.3 127.7h0M252.1 117.3h0M244.3 113.7h0M235.4 128.8h0M222 126.6h0M238.9 111.3h0M211.6 127.3h0M221.6 126.9h0M244.5 110.9h0M252.7 116.7h0M202.4 127.1h0M209.5 106.9h0M249.3 122h0M240.7 124.9h0M224.1 126.8h0M229.3 107.9h0M249.4 115.7h0M244.7 125h0M250.4 122.3h0M249.1 119.9h0M204.3 128.7h0M202 126.7h0M185.3 121.7h0M248.4 114.7h0M199.2 107.7h0M200.6 107.8h0M196.2 127.1h0M216.3 126.8h0M203.7 107.4h0M186.4 113.1h0M221.8 106.4h0M216.6 106.8h0M236.8 127.4h0M236.8 126.9h0M186.2 124.5h0M223.7 126.4h0M238.4 110.3h0M184.8 118.2h0M249.7 120.5h0M191.4 126.3h0M202.6 129h0M212.2 105.5h0M188.8 110.6h0M219.5 126.7h0M248.6 116.1h0M182.8 118.7h0M183.2 121.7h0M214.3 126.8h0M234.3 126h0M247.4 115.3h0M184.1 116.1h0M203.8 128h0M245.6 113.4h0M226.1 107.7h0M240.9 109.4h0M230.9 126.5h0M248.4 122.2h0M189.3 125.7h0M221.5 107.6h0M201.2 107.5h0M232.6 126.8h0M196.2 126.4h0M230.5 107.8h0M188.7 126.5h0M205.9 105.9h0M209 126.7h0M202.2 128.8h0M200.3 108h0M226 108.4h0M184.4 114.7h0M250.4 121.6h0M236.1 109.5h0M237 109.2h0M217.2 127.2h0M247 122.9h0M202.9 105.2h0M223 127.2h0M186.3 125.3h0M208.7 126.8h0M185.9 129.9h0M204.8 127.3h0M195.7 126.7h0M186 113.9h0M196.3 109.3h0M239 127.3h0M193.9 107.7h0M197.8 105.7h0M183.8 114.6h0M230 108.3h0M249.5 119.8h0M217.4 106.6h0M185.8 123.6h0M192.5 110h0M246.2 123.6h0M217.7 127.3h0M247 124.3h0M250 122.2h0M220.1 106.2h0M249 121.5h0M190.5 126.3h0M207.5 107.6h0M223.2 126.5h0M213.9 104.8h0M191.1 108.2h0M190 126.6h0M229 127.7h0M212.4 107.4h0M253.6 123.5h0M198.6 126.6h0M184.2 120.8h0M187 113.3h0M198.5 105.7h0M248.2 115h0M186.8 113.5h0M217.4 127.8h0M207.9 107.9h0M186.1 112.1h0M189.9 110.4h0M192.8 109.5h0M192.1 107.4h0M233.4 107.9h0M235.3 109.5h0M218.5 105.7h0M227.4 108.9h0M244.4 125.5h0M231.9 126.1h0M184.6 114.8h0M217.4 129.7h0M190.9 126.9h0M245.8 123.7h0M215.8 128.6h0M246.4 114.6h0M219.7 107.3h0M247.3 122.7h0M242.2 111.7h0M191.9 128.2h0M211.3 106.2h0M245.7 123.5h0M249.4 121.2h0M230.2 128.7h0M247.8 110.7h0M199.2 127.1h0M183.1 113.6h0M185.3 120h0M252.4 116.8h0M206.1 107.6h0M250.6 119.5h0M185.4 120.6h0M228.9 106.9h0M227.2 126.6h0M249.2 124.8h0M188.2 125.2h0M186 126h0M208.1 106.1h0M221 126.9h0M249.7 121.1h0M218.2 106h0M190.1 109.6h0M233.2 127.6h0M243.8 124.6h0M213 127.1h0M251.9 121.4h0M246.2 124.9h0M208.3 106.2h0M229 126.2h0M249.2 120.2h0M252.6 119.2h0M244.6 113.4h0M184.2 116.3h0M207.3 106.5h0M241.2 124.9h0M201.2 129.1h0M204.6 127.2h0M202.5 126.5h0M212.4 106.4h0M226.3 107.8h0M228.5 108.9h0M232.8 126.4h0M204.6 106h0M251.7 122.9h0M187.9 107.4h0M183.9 116.5h0M185.8 124.9h0M184.9 114.3h0M249.7 117.5h0M185.1 125.7h0M192.3 110.1h0M185.7 116.3h0M251.9 116.2h0M182 121.5h0M249.7 118.4h0M246.2 124.4h0M222.3 127.1h0M221.1 107.3h0M238.9 126.7h0M248.1 123h0M185.7 118.5h0M234.5 108h0M226.5 108.7h0M243.2 112.4h0M203.9 107.6h0M245.2 125.3h0M237.5 110h0M191.8 109.1h0M222.1 127.3h0M228.1 108.7h0M250.7 119.2h0M247.3 114.5h0M197.4 108.8h0M184.5 119.1h0M222.6 127h0M193.1 106h0M183.3 115.5h0M250.7 122.4h0M204.7 127h0M209.2 106.9h0M224.1 127.9h0M244.6 124.1h0M224.9 128.2h0M224.1 127.1h0M204.5 107.8h0M230 127.8h0M249.1 120.3h0M229.6 127.2h0M185.7 128.6h0M220.6 107.5h0M215.3 127.7h0M219.3 107.6h0M196.8 127.7h0M225 108.6h0M212.3 128.4h0M238.3 128.4h0M182.2 120.4h0M194.8 126.5h0M245.4 123.8h0M228.2 128h0M244.6 125.6h0M215.7 106.4h0M192.7 127.5h0M236.1 110.1h0M192.6 129.9h0M219.3 107.9h0M185.2 116.4h0M228.5 105.6h0M204.9 129.3h0M249.1 124h0M250.8 117.3h0M187.5 112.7h0M186.1 113.8h0M249.7 121.4h0M250.4 117h0M211.8 108h0M213.8 126.8h0M248.7 124.8h0M187.4 113h0M235.9 109.8h0M248.8 122.8h0M209.6 106.4h0M222.9 104.3h0M245.4 113.3h0M233.6 129.2h0M216.7 126.6h0M216.9 107.9h0M241 125h0M183.8 123h0M201.7 106.6h0M248.9 123.8h0M228.3 108.4h0M196.6 129.8h0M200.2 127h0M209.6 128.4h0M202.6 126.6h0M245.7 114.2h0M249.7 120.5h0M187.4 124.8h0M245.3 113.3h0M237.7 109.9h0M239.2 111.3h0M249 119.9h0M253.6 122.6h0M242.2 111.6h0M226.9 126.5h0M184.4 115.7h0M205.5 128.1h0M215.1 127.7h0M183.7 124.2h0M183.6 116.4h0M248 124.2h0M232.6 106.4h0M209.7 107h0M202.2 108.3h0M207.9 126.6h0M227 126.9h0M183.3 123.1h0M184 125.4h0M241.1 112h0M185.3 118.8h0M183.1 115h0M225.7 108h0M252.7 120.1h0M252.2 121.8h0M195.6 127.8h0M249.7 117h0M242.8 112.7h0M234.7 106.4h0M193 127.9h0M250.1 114.2h0M248.1 115.4h0M225.2 126.6h0M250.3 117.9h0M237.4 109.2h0M219.5 127.1h0M184.4 126.2h0M192.9 127.1h0M228.2 108h0M250.7 123.5h0M250.7 112.4h0M184.7 111.7h0M200.1 107.5h0M183.9 114.1h0M237.6 109.3h0M246.8 123.6h0M191.9 127.6h0M248 124h0M231.6 108.2h0M198.8 127.1h0M202.9 127.2h0M235.8 126.3h0M249.7 120.1h0M215.5 127h0M248 122.6h0M205.9 128h0M197.1 126.8h0M220.8 127.2h0M240.5 111.9h0M190.5 109.8h0M233.4 126.2h0M198.9 107.7h0M198.7 128.6h0M243.5 113.3h0M204.9 107.6h0M229 107.1h0M214.5 127.5h0M181.3 120.9h0M185.2 116.4h0M236 130.3h0M211.1 107h0M251 121.1h0M184.6 124h0M191.7 109.7h0M251 120.8h0M250.8 117.3h0M185.8 123.6h0M198.1 107.7h0M240 111h0M202 127.5h0M209.9 107.3h0M228.5 126.4h0M222.8 107.7h0M249 117h0M248.6 122.3h0M207 128.6h0M203.9 108.1h0M183.3 121.1h0M242.5 125.5h0M249.7 118.8h0M184.7 124.2h0M202.9 108.3h0M185.8 125.4h0M245.2 110.6h0M208.3 108.1h0M218.6 129h0M191.1 109.2h0M186.5 124.3h0M249.1 119.7h0M221.1 107.5h0M247.2 114.5h0M215.7 127.2h0M232.4 108.2h0M242.4 109.4h0M185.6 119.4h0M220.2 126.8h0M198.9 104.8h0M196.8 106.5h0M207.2 127h0M249.2 117.6h0M180.9 115.3h0M248.5 123.5h0M208.4 126.9h0M237.8 126.1h0M220 128.2h0M216.1 127h0M209.9 108.2h0M247.4 123.1h0M236.6 110.6h0M232.6 108h0M190.5 126.8h0M214.1 107.9h0M249.1 123.6h0M217.8 107.9h0M247.3 111h0M214.5 126.7h0M219.4 127.1h0M194.6 109.6h0M200.8 127.4h0M197.9 127.3h0M249.2 121.2h0M184.4 117.4h0M215.2 107.3h0M227.3 99.6h0M185.4 112.7h0M245.7 126.3h0M248.7 112.4h0M191.2 109.6h0M192.8 127.2h0M208.1 128.5h0M232.9 103.7h0M244.7 105.6h0M238.1 127.6h0M200.1 106.7h0M221.6 107.3h0M213 127.4h0M243.2 128.1h0M240.7 111.1h0M231.2 98.9h0M241.5 110.7h0M191.3 105.6h0M194.2 105.9h0M236.9 129.3h0M216.4 131.6h0M208.2 106.6h0M223.8 102.6h0M245.1 128h0M200.5 127.9h0M203.9 106.9h0M233.9 127.1h0M192 108.2h0M224.5 127.1h0M204.5 129.5h0M205.5 128.9h0M208.3 105.9h0M249.8 119.4h0M241.3 111h0M255.3 124.7h0M189.5 104.8h0M206.9 97.8h0M245.2 108.9h0M252 121.2h0M188.6 107.7h0M214.8 100.7h0M217.6 106.8h0M249.3 108.6h0M208.2 128h0M223.5 127.9h0M179.2 113.7h0M199.3 107.4h0M250 132h0M244.8 126.7h0M195.4 131.3h0M233.2 108.4h0M252.7 116.4h0M177.7 120.4h0M229.1 128.2h0M183.6 118h0M249.4 114.6h0M232 129.5h0M208.4 107.5h0M246.1 114.4h0M236.4 103.2h0M217.2 135.4h0M205.8 129.6h0M208.1 130h0M180.9 121.1h0M242.6 111h0M232 106.9h0M215.6 127.7h0M205.5 132.7h0M186.2 129h0M256.2 122.8h0M199.4 127.7h0M250.5 112.7h0M250.3 120.7h0M236 109.8h0M236.4 134.9h0M248.3 124.4h0M204.1 131.9h0M224.6 106.7h0M239.2 107.7h0M242.8 111.8h0M181.8 117h0M238.7 126.8h0M236.9 126.9h0M221.9 128.4h0M213.2 130.1h0M229.9 130.6h0M248.2 113.1h0M234.8 106.7h0M238.6 109.7h0M186.2 112.7h0M184.8 114.8h0M234.1 107.2h0M252.2 114.3h0M202.3 101h0M185 122.5h0M201.3 130.6h0M251.4 125.5h0M194.7 133.6h0M189.5 107.4h0M225.7 129.1h0M242.4 105h0M217 128.4h0M191.2 107.4h0M240.2 128.9h0M204.6 107h0M246.2 127.1h0M245.8 113.1h0M216.8 135.5h0M211.9 127.9h0M209.5 106.2h0M200.3 105h0M192.6 136.3h0M188.3 105.5h0M185 120.3h0M172.5 112.5h0M184.3 117.6h0M182.7 123.4h0M239.2 106.6h0M195.3 132.6h0M243.5 125.8h0M247.5 112h0M245.7 129h0M220.9 107.2h0M188.1 129.9h0M210.6 101.3h0M237.7 127.4h0M254.1 114.7h0M191.3 108.7h0M236.1 109h0M198.8 106.9h0M254.3 119.2h0M219.1 131.5h0M227.8 108h0M205.7 131h0M237.5 127.2h0M216.1 105.3h0M231.7 108.4h0M210.7 107.3h0M245.5 113.3h0M205.3 104.5h0M224.5 102.8h0M217.9 127.4h0M203.7 103.3h0M238 130.3h0M247.3 114.1h0M253.5 120.8h0M239.1 127.5h0M202.1 106.1h0M251.1 121.7h0M181.1 121.6h0M251.1 119.3h0M199 105.9h0M204.5 107.6h0M238.3 109.5h0M250 119.9h0M219.4 127.9h0M208.7 128h0M183.2 111.6h0M245.7 125.5h0M237.3 126.4h0M234.6 126.7h0M231.4 127.5h0M239.7 127.7h0M245.1 112.8h0M251.3 129.5h0M248 129h0M184.9 127.7h0M209.3 106.7h0M215.2 106.2h0M196.2 131.8h0M244.1 127.3h0M233 108.6h0M215.2 105.5h0M251.5 120.1h0M252.3 123.5h0M246.2 104.8h0M209.2 127.8h0M230 126.9h0M193.6 108.3h0M244 111.2h0M186.2 106.8h0M209.1 106.4h0M184.2 126.5h0M224.1 129.4h0M236.5 130.1h0M231.7 106.5h0M231.7 105.3h0M247.2 123.5h0M209.7 103.1h0M239.5 110.9h0M235.5 126.4h0M219.2 103.2h0M223.9 132.9h0M185.3 113.6h0M213.3 105.4h0M182.6 114.2h0M252.9 111h0M185.2 114.9h0M249.9 112.7h0M200.1 134.2h0M223.9 107h0M241.5 108.3h0M253.6 120.1h0M248.1 107.5h0M183.4 118.6h0M185.5 102.5h0M191.5 127.6h0M206.3 129.9h0M198.4 127.6h0M250 115.8h0M204.9 129.9h0M212.1 106h0M204.4 107.2h0M249.5 126.1h0M186.8 106.8h0M201 107.2h0M258.9 125h0M248.3 124.2h0M230.6 106h0M254.7 123h0M245.7 112.8h0M235.8 105.9h0M229.2 104.7h0M213.4 104.7h0M181.4 118.7h0M208.5 103.4h0M248.7 111.5h0M255.9 112.9h0M239.4 126.6h0M220.7 129.4h0M186.6 126.1h0M179.9 113.4h0M248.5 126.2h0M194 128.5h0M234.1 108.3h0M188.5 133.4h0M184.1 119.9h0M239 106h0M212.5 106.8h0M183.8 119.6h0M222.3 134.6h0M240.8 128.3h0M232.1 108h0M245.4 124.4h0M197.4 129.1h0M201.8 128.6h0M182.3 124h0M203.2 130.2h0M248.1 127.5h0M248.5 125.4h0M209.5 127.6h0M175.7 120.6h0M249.8 120.3h0M236.4 105.4h0M197.8 106.7h0M224.6 130.2h0M254.5 120.9h0M239.1 108.5h0M247.7 126.8h0M233.9 104.5h0M239.6 130.4h0M251.4 125.3h0M245 124.5h0M224.8 104.1h0M246.1 112.7h0M239.8 126.6h0M252.1 118h0M198.7 105h0M222.2 104.2h0M200.9 130.4h0M194.4 103.8h0M235.5 108.6h0M251.5 122.1h0M255.9 118.5h0M259.9 114.1h0M194.2 128h0M243.6 108.5h0M183.1 115.5h0M246.3 125.2h0M248.1 124.6h0M250.6 116.3h0M247.9 124.6h0M247.3 123.3h0M246.3 115.7h0M250.4 117.3h0M246.5 109h0M253.9 120h0M260.7 109.1h0M259.1 118.9h0M249.9 115.2h0M242.5 116.4h0M245.8 116.1h0M244.6 112h0M259.4 119.3h0M250.5 113.2h0M244 117.3h0M258.6 121h0M242.6 117h0M255 118.7h0M248.5 115.8h0M244.3 108.2h0M242.3 112.6h0M251.9 118h0M242.6 122.1h0M243.7 107.3h0M242.3 122.4h0M244.2 120.2h0M246.1 119.9h0M247.5 117.6h0M242 127.5h0M262.4 121.8h0M248.6 115.5h0M248.8 115.3h0M245.5 119.8h0M244.9 121h0M250.1 119h0M250.7 121.9h0M244.1 124.7h0M258.9 125.5h0M244 126.9h0M247.6 108.6h0M272.6 121h0M244.5 120.6h0M243.3 121.7h0M242.4 118.5h0M250.5 115.2h0M247.4 122.4h0M253 125.1h0M255.2 115.8h0M246.2 114.1h0M243.3 122.2h0M247 123h0M249.2 114.5h0M265.3 117.4h0M248.1 121.6h0M244.1 128.2h0M246.9 125.1h0M248.8 113.9h0M243.9 118h0M244.9 118.4h0M254.6 119.8h0M248.1 115h0M252.9 126.5h0M247.7 109.4h0M245.8 118.4h0M247.2 122h0M245.4 126.1h0M249.3 118.9h0M244.8 122.1h0M245.5 126.6h0M248 124.8h0M246.3 121.2h0M244.5 133.1h0M245.8 117.9h0M243.6 119.6h0M262.2 115.5h0M250.9 120.6h0M242.6 125.2h0M246.1 121.6h0M245.3 126.4h0M242.3 114.5h0M247.3 120.3h0M243.5 111.8h0M253.1 127.1h0M244.2 125.1h0M248.2 119h0M250 124.9h0M243.7 130.8h0M246.3 118.8h0M253.4 119.2h0M248.3 119.3h0M249.2 125.9h0M251.1 124.9h0M254.3 122.7h0M243.6 115.2h0M253.7 116.3h0M244.9 111.9h0M245.8 115h0M243.1 123.2h0M249.7 122.8h0M258.4 128.3h0M251.1 119.5h0M244.2 132.5h0M245.5 119.8h0M245.3 119.1h0M252.6 117.1h0M250.5 119.7h0M246.9 120.1h0M267.2 115h0M257 113.1h0M243.4 123.3h0M244.5 113.8h0M252 118.8h0M245.6 119.9h0M244.2 114.1h0M243.2 116.2h0M242.4 119.7h0M245.6 120.9h0M242.5 119.8h0M242 122h0M242.3 120.9h0M248.8 118.1h0M245.5 124h0M255.5 120.8h0M255.9 126.9h0M255.9 117.4h0M243.9 128.1h0M244.8 114.2h0M244 121.3h0M249.3 125.5h0M248.8 116.5h0M254.3 117.3h0M260.7 116.6h0M249.2 116.2h0M243.6 122.3h0M242.6 125.8h0M249.6 117.6h0M248.3 122h0M249 120.3h0M246.9 120.9h0M252.7 119h0M244.4 120.1h0M242.5 118.4h0M249 119.5h0M242.7 124.5h0M247.2 128.5h0M249.1 116.7h0M245.8 115.8h0M245.8 122.4h0M253.9 121.4h0M248.2 119.5h0M242.8 119.7h0M247.1 130.4h0M253.8 115.7h0M246.2 119.7h0M248.2 116.2h0M246.5 130.2h0M251.9 124h0M247.3 121.7h0M246.9 119.8h0M254.4 122.8h0M247 117.1h0M243 124.2h0M242.3 111.8h0M244.5 117.2h0M255.8 118.7h0M246.3 121.2h0M242.7 116.3h0M246.8 120.1h0M262.4 118.2h0M246.8 117.5h0M246.6 123.2h0M243.3 115.3h0M246.4 121.8h0M242 120.1h0M249.5 130.5h0M242.3 114.4h0M242.8 116.8h0M265.8 122h0M244.5 121.9h0M248.4 120.1h0M247.6 116.7h0M246.2 122.4h0M244.4 118h0M243 115.3h0M242.5 123.7h0M249.4 114.9h0M247.9 121h0M246.4 115h0M243.4 115.9h0M242.9 114.9h0M247.8 123.4h0M252.6 124.1h0M250.2 126.2h0M243.2 126.2h0M244.5 117h0M244.2 118.5h0M253.9 123h0M250 116.9h0M247.3 113.4h0M244.6 123.9h0M245.9 120.3h0M243.5 121.6h0M270.4 113.8h0M271 117.7h0M244 117.7h0M253 119h0M244 116.8h0M254.3 119.2h0M243.7 112.8h0M245.1 115h0M247.6 116.8h0M242.8 119.1h0M243.4 127.3h0M251.9 116.3h0M250.8 121.1h0M242 123.8h0M254.5 123.6h0M248.2 118.5h0M248.2 125.2h0M251.8 123.7h0M244.9 116.8h0M254.7 114.5h0M242 114.2h0M257.4 123h0M250.3 119.4h0M268.2 124.5h0M252.1 110.9h0M244.2 124.6h0M243.6 111.9h0M246.3 122.7h0M248.9 112.6h0M246.3 119.7h0M250.3 122.9h0M250.4 119.3h0M243.8 115.8h0M254.6 113.9h0M245.4 127h0M255.3 123.1h0M242.6 128.9h0M242.6 113.5h0M247.3 114.8h0M252.8 124.2h0M249.1 116.5h0M253.5 117.7h0M266.8 127.6h0M249.8 117.3h0M246.1 120.8h0M242.6 117.4h0M243 117.1h0M243.1 126.1h0M252.3 116h0M242.6 113.6h0M244 123.7h0M242.6 115.2h0M272 129.1h0M248.2 112.5h0M247 122.7h0M250.3 124.9h0" stroke="#f08816" stroke-width="1.4" stroke-linecap="square"/>
<path d="M204.8 130.6h0M175.2 116.8h0M182.4 122.3h0M245.3 111.6h0M242.6 126.1h0M201.1 99.3h0M245.8 109.5h0M203.4 129.7h0M208.6 132.6h0M251 113.5h0M246.1 128.9h0M250.4 117.7h0M199.7 104.5h0M215 103.8h0M238.2 108.2h0M254.2 125.1h0M241.4 131.3h0M189.9 128.6h0M222.3 105.6h0M250.3 119.5h0M239.8 126.1h0M247.2 109.6h0M248.1 112.1h0M224.7 103.9h0M180 119.9h0M225.3 127.8h0M216.5 106.8h0M229.6 127.1h0M247.1 112.8h0M212.7 100.1h0M180.2 123.3h0M198.2 107.3h0M247.4 111.9h0M195.4 108.3h0M255.6 116.5h0M188.5 109h0M213.2 129.8h0M198.2 129.5h0M187.9 126.4h0M250.1 121.7h0M249.8 115.8h0M232.1 107.6h0M195.4 107.7h0M220.8 127.7h0M218.1 102.6h0M215.3 106.3h0M258.3 116.8h0M197.7 127.7h0M215.3 100h0M249.7 127.1h0M186.4 125.3h0M186.3 112.6h0M248.4 112.9h0M227.6 100.6h0M183.5 115.5h0M187.1 108.1h0M240.9 104.9h0M227.1 132h0M241.3 108.4h0M192.4 107.7h0M195.7 108.1h0M224.9 130.3h0M243.3 109.4h0M209.1 106h0M198.3 104.2h0M201.3 99.6h0M245.5 125h0M203.4 128.3h0M193.1 128.2h0M185 123.8h0M210.8 102.4h0M184.3 126.2h0M251.1 113.6h0M250.3 117.4h0M199.7 106.6h0M192.7 128.7h0M201.8 128.2h0M232.8 108.7h0M220.9 131.1h0M224.3 103.4h0M243.2 127.3h0M208 130.6h0M248.9 112.7h0M240.7 126.8h0M253.9 112.4h0M230.9 108h0M238.5 106.4h0M254.9 118.1h0M184.4 118.9h0M233.8 107.7h0M205.1 127.8h0M255.1 114.9h0M240 126.7h0M197.4 104.4h0M239.7 109.9h0M246.6 124.5h0M199.7 128.7h0M178.2 119.4h0M227.7 106.1h0M209 104h0M181.8 123.7h0M209.2 104h0M239.6 111h0M190.4 108.2h0M251.8 123.5h0M250.2 117.6h0M188.4 109h0M181.9 117.6h0M207.9 127.7h0M250.8 121.4h0M238.6 129.5h0M181 120.7h0M240.7 106.8h0M196.9 130.3h0M194 128h0M250.3 108.3h0M243.5 112.5h0M216.3 128.4h0M231.8 134.5h0M218 128.7h0M242.2 128.6h0M243.1 119.5h0M244.7 116.7h0M278.1 122h0M248.1 121.4h0M247.8 121.3h0M266.3 130.2h0M243.1 114.7h0M274.1 119.5h0M258.7 114.2h0M246 120.4h0M247.7 116.3h0M245.7 122.4h0M268.2 119.2h0M245.5 115h0M247.4 123.2h0M249.4 121.6h0M246.7 122.7h0M251.1 124.7h0M263.1 115.8h0M268.8 116.1h0M242 117.3h0M241 113.3h0M241.9 116.3h0M248 123.8h0M246 115.6h0M272.6 114.2h0M248.6 122.1h0M274.3 117.1h0M247.8 121h0M249.8 120.2h0" stroke="#e94e30" stroke-width="1.3" stroke-linecap="square"/>
<path d="M248.4 127.4h0M268.4 131.4h0M236.8 127.3h0M300.9 121.3h0M274.1 130.5h0M286.7 122.5h0M288.2 117.2h0M264.9 111.5h0M256.7 122.1h0M275.7 110h0M293.4 115.2h0M241.6 133.3h0M278.7 123.4h0M254.1 116.3h0M255.6 109.9h0M257.1 119.7h0M238.4 129.4h0M273.8 127.2h0M296.2 103.4h0M283.9 123.9h0M265.1 128.6h0M261.6 113h0M280.9 117.6h0M297.5 127.6h0M264.4 128.8h0M291.9 117.5h0M259.5 124.5h0M279.2 114.5h0M274.3 126.7h0M266.5 121.1h0M279.2 120.5h0M265.8 126.5h0M251.6 130.2h0M253.7 127.4h0M265.3 125.7h0M273.5 111.6h0M274.8 121.1h0M282.9 118.5h0M245.4 131.4h0M262.8 119.9h0M291.2 114.4h0M252 125.7h0M285.5 113.6h0M293.9 110.5h0M271.2 117.2h0M282.4 130.4h0M274.1 120h0M277.9 126.8h0M290.1 127.2h0M271.7 111.4h0M296.7 133.6h0M260.5 121.5h0M256.1 121.5h0M245.4 133.6h0M242.7 136.3h0M293 111.3h0M272.6 122h0M265.5 134.8h0M268.3 114.6h0M275.9 127.8h0M273.1 114.2h0M287.3 115.4h0M261.2 119h0M274 115.6h0M285 116.6h0M298.9 130.8h0M293.2 120.1h0M296.1 136.4h0M268.5 133.3h0M272.3 123.9h0M271.4 120h0M247.3 127.3h0M260.8 123.8h0M244.3 131.1h0M287.2 109h0M240.3 127.6h0M262.6 132h0M291.5 113.9h0M281.1 120.2h0M265.8 119.7h0M261.5 122.5h0M237.4 136h0M258.6 119.8h0M264.6 119.1h0M258.4 121.6h0M244.3 130.2h0M293.5 119.3h0M272 113.5h0M273.7 125.9h0M252.7 116.8h0M265.7 119.4h0M261 117h0M296 115.9h0M286.4 120.9h0M247.6 125.9h0M258.4 119.2h0M291.5 121.6h0M257 126.4h0M285.6 123h0M281.4 110.5h0M249.4 114.9h0M259.2 127.1h0M286.4 122.9h0M287.9 123.2h0M288.8 119.1h0M258 121.8h0M279.1 119.2h0M238.3 127.8h0M249.2 126.5h0M244.8 132h0M259.9 124.5h0M275.7 119.6h0M250.5 114.4h0M296.5 112.2h0M288 118.3h0M272.3 126.8h0M286.8 120.8h0M244.3 134h0M245.4 128.1h0M293.1 124.1h0M286.3 116.5h0M293.1 117.2h0M290.4 117.2h0M267 121.1h0M298 119.1h0M288.2 131.6h0M255.3 122.2h0M288.8 114.7h0M263.7 120.6h0M278.3 115.5h0M248.2 127h0M281.3 127.6h0M259.7 126.2h0M261.2 125.4h0M279.4 118.9h0M270.6 109.5h0M247.1 127h0M238.7 130.7h0M281.1 123.9h0M271.8 120.4h0M297.1 120h0M293.3 122.2h0M296.8 115.9h0M276 118.6h0M253.6 131.4h0M251.6 128h0M274.6 116.1h0M275.8 110.4h0M291.3 117.3h0M288.9 119.4h0M295.8 108h0M243.6 126.7h0M279.8 124.4h0M254.5 127.3h0M248.7 125.8h0M263.7 127.2h0M271.9 122.2h0M290.1 111.3h0M263.3 117.7h0M257 125.7h0M268.4 115.2h0M278.7 115.8h0M272.6 125.5h0M284.3 116.3h0M286 115.1h0M260.1 120.7h0M264.8 124.6h0M275.7 127h0M279.7 124.7h0M259.3 121.2h0M258.6 124.4h0M279.2 118.8h0M289.2 117h0M239.6 127.7h0M245.8 125.7h0M276.7 104.6h0M268.9 118.1h0M295.8 122.2h0M299.9 120.2h0M294.2 133.6h0M275.1 114.1h0M294.9 111.4h0M257.5 122.4h0M287.2 120h0M280.7 123.2h0M265.4 129h0M253 129.3h0M289.1 112.8h0M261.6 116.6h0M281.1 112.1h0M282 132.6h0M250.8 123.4h0M291.5 123.9h0M242.7 129.4h0M256.8 129.5h0M262.2 132.9h0M297.3 122.7h0M245.6 130.2h0M262.6 114.7h0M275.3 129.6h0M246.2 125.4h0M248.1 125.6h0M290.8 121h0M339 115.3h0M334.5 113h0M325.9 98h0M345.3 99.8h0M292.6 118.5h0M344 113.5h0M349.2 121h0M294.1 118.8h0M326.2 105.2h0M345.7 116.7h0M321 116.8h0M294.9 114h0M311.6 119.9h0M316.5 120.6h0M297.8 124.3h0M324.8 111.7h0M312.9 130.2h0M326 106.8h0M308.3 109.9h0M347.6 100.4h0M324.2 106.9h0M337.9 102.9h0M326 110.8h0M344.5 124h0M334.4 121.5h0M340 98.2h0M294 130.3h0M290.7 106h0M340.3 115.5h0M336.7 111.9h0M293.8 125.2h0M339 115.1h0M345.9 107.1h0M343.8 117.8h0M291.7 113.5h0M301.4 110.3h0M348 110.3h0M330.3 126.2h0M340.4 122.5h0M300.7 122h0M306.9 112.7h0M329.6 103.7h0M324.2 126.7h0M340.8 117.3h0M312.5 115.5h0M333.4 113.7h0M289.8 127.6h0M311.8 115.7h0M332.2 111.1h0M292.1 120.5h0M301.2 109.3h0M338.3 99.9h0M291.5 121.4h0M341 125.2h0M344 101.4h0M308.9 110.8h0M338.5 94.9h0M317 123.2h0M344.3 106.1h0M294.8 114.2h0M323.8 125.6h0M336.2 121.1h0M303.2 111.8h0M344.1 107h0M339.3 118h0M313.5 119.1h0M300.5 106.9h0M332.5 105.4h0M341.8 125.7h0M311.7 111.7h0M317.9 117.2h0M295.1 125.1h0M321.6 105h0M345 127.6h0M336.3 101.3h0M327.5 111.8h0M318.3 122.4h0M303 105.1h0M295.5 121.2h0M291.2 129.2h0M294 119.9h0M297.3 119h0M325.1 114.4h0M304.6 130.5h0M312.2 114.5h0M328.8 106.6h0M331.1 115.5h0M318.5 121.4h0M318.7 119.2h0M329.6 114.9h0M293.8 133.5h0M314.9 124.8h0M296.3 114.6h0M335.1 117.1h0M300.9 106.6h0M349.1 103.1h0M324.1 101.8h0M347.4 103.7h0M307.1 108.9h0M319.5 122.8h0M322.7 113.1h0M339.3 100.4h0M299.7 129.6h0M345 105.7h0M310 116.9h0M314.3 116.3h0M345.1 114.7h0M302.1 111.2h0M309.1 111.5h0M313.6 112.4h0M345.1 91.9h0M334.5 111h0M307.2 117.1h0M319.6 104h0M299.1 117.1h0M331.8 119.9h0M323.7 97.3h0M297.7 115.2h0M327.7 117.7h0M331.5 117h0M317.9 99.8h0M324.6 121.3h0M302.8 98.6h0M372 74.5h0M336.3 90.7h0M323 103.8h0M357.7 87.9h0M339.5 77.9h0M385.4 72.8h0M333.4 99.9h0M340.7 71.7h0M305.7 96.5h0M322 98.8h0M344.4 66.8h0M330.8 81.7h0M331.5 87.3h0M312.9 109.1h0M325.3 93.7h0M386.6 83.6h0M326.4 110.1h0M350.7 94.5h0M349.5 103.4h0M382.6 80.2h0M373.1 83.8h0M344.1 91.6h0M332.5 86.8h0M322 113.3h0M311 105.8h0M363.1 107h0M339.3 100.5h0M366.4 75.7h0M365.5 91.2h0M374.8 76.8h0M338.4 103h0M362.2 100.7h0M367.6 74.1h0M308.8 111.5h0M348.1 88.1h0M383.2 63.5h0M386.9 60.5h0M335.7 107.1h0M335.4 89.5h0M326.6 104.1h0M328.3 103.7h0M329.9 105.8h0M353.1 99.7h0M356 81.7h0M346.3 101.8h0M336.4 113.7h0M326.8 124h0M332.8 121.4h0M369 89.7h0M350 82.3h0M316.1 104.8h0M340 92h0M348.2 88.9h0M342 105.9h0M352.3 70.7h0M330.9 98.2h0M363.6 107h0M310.9 118.1h0M374.7 90.8h0M348.5 88.9h0M342.4 78.8h0M368 77h0M363.2 96.2h0M317 120.1h0M360.4 109.3h0M329.6 129.2h0M336.7 111.7h0M364 134.3h0M322.7 110.6h0M386.4 119.6h0M367.2 123.9h0M364.2 118.2h0M380.7 125.1h0M385.2 119.2h0M334.9 122.4h0M321.5 106.3h0M335 129.7h0M321.7 117.8h0M359.2 116h0M308.2 106.9h0M333.1 112.3h0M309.1 108.2h0M300.8 105.7h0M329.8 127.6h0M352.7 114h0M337.9 115.4h0M337.7 125h0M382.5 133.8h0M310.2 128.6h0M371.9 135.9h0M372.2 132.8h0M377.3 132.9h0M339.8 110.3h0M329.8 90.6h0M333 131.7h0M293.4 128.4h0M307 69.3h0M358.8 102h0M289.6 100.9h0M291 103.5h0M274.3 116.3h0M358.8 65.2h0M253 117.2h0M263.7 111.8h0M257.8 123.8h0M258 114.9h0M279.6 112.4h0M275.7 123h0M265.5 103.8h0M269.1 96.1h0M226.8 103h0M237.9 106.1h0M236.7 93h0M254.3 108.1h0M241.1 101h0M242 104.1h0M229.8 92.8h0M269.1 106.5h0M263.2 112.4h0M246.9 112.9h0M253.5 116.4h0M265 113h0M266.3 113.7h0M252.8 112h0M260 126.3h0M271.1 106.6h0M262.5 110.4h0M234.5 106h0M258.6 125.6h0M264.8 131.3h0M252 125.7h0M259.7 118.3h0M258.2 115h0M251.5 116.6h0M270 122h0M252.2 128.5h0M257.1 105.3h0M265.1 116.8h0M259 128.2h0M251 116.4h0M256.7 126.8h0M248.3 109.1h0M273.2 118.4h0M256.1 125.7h0M255.2 119.1h0M262.1 106.6h0M256 109.7h0M274.7 125.9h0M256.6 114.7h0M257.5 124.2h0M262.1 114.1h0M280 106.2h0M268.5 130.5h0M250.3 121.1h0M265.2 112.8h0M272.2 118.5h0M256.9 106h0M264.8 123.2h0M262.9 118.2h0M252.2 125.8h0M265.4 127h0M257.8 109.6h0M252.8 115.4h0" stroke="#2aa6c9" stroke-width="1.4" stroke-linecap="square"/>
<path d="M232.6 196.2h0M255.6 198.6h0M244.8 199.8h0M246.2 201.1h0M256.7 189.9h0M250.9 198h0M247.2 201.6h0M254.2 201.4h0M245 199.2h0M242 200.3h0M264 206.2h0M244.1 199.3h0M250.5 198.6h0M237.8 205.8h0M257.9 199.6h0M250.4 199.2h0M244.6 198.9h0M235.6 202h0M249.1 206.5h0M246 202.9h0M236.9 194.9h0M245.9 205.9h0M277.7 201.9h0M241.2 204.8h0M238.8 200.4h0M249.8 194.6h0M247.3 200.7h0M257.4 203.8h0M259.8 195.4h0M248.9 198.5h0M245.7 202.3h0M253.9 207h0M260.9 197.9h0M256.8 198.3h0M250.3 206.1h0M260.2 200.5h0M236.6 195.3h0M258.5 203.7h0M227.9 202.2h0M253.7 199.5h0M235.8 196.1h0M246.5 200.7h0M247 196.2h0M252.7 205.6h0M245.4 200.3h0M251.8 204.9h0M258.7 199.7h0M243.7 201h0M244.5 202.1h0M258.1 194.8h0M257.1 200.6h0M251.3 199.3h0M261.2 194.8h0M247.2 206.2h0M243.5 194.6h0M239.4 200h0M257.3 193.1h0M247 205.3h0M250.9 194.3h0M262.8 200.6h0M251.4 206.8h0M248.7 195.6h0M253.2 199.6h0M266.4 203.2h0M257.2 198.6h0M252.1 198.7h0M255.2 202.6h0M253.9 201.9h0M264.1 197.6h0M243.4 197.9h0M248.6 199.8h0M245.7 205.4h0M259.4 199h0M244.1 200.7h0M255.8 198.7h0M245.7 195.2h0M248.3 200.3h0M242.7 207.5h0M263.1 197.6h0M252.5 200h0M255.1 205.9h0M247.1 193.6h0M262 199.4h0M248.3 200.1h0M256.1 197.8h0M256.2 205.4h0M259.5 198h0M247.2 196.8h0M246.8 202.6h0M245.9 205.4h0M239.4 203.1h0M243.8 201.8h0M254.3 196.9h0M239.9 191.6h0M264.2 210.8h0M255 197.6h0M254.5 195.7h0M260.8 198.2h0M245.3 196.1h0M245.6 199.2h0M255.1 201.6h0M254.8 202.6h0M241.8 200.1h0M245.5 207.3h0M248.2 206h0M236.8 199.4h0M244.4 194.6h0M240.7 197.3h0M243.9 191.8h0M256.1 199.9h0M241.2 198.8h0M227.7 194.3h0M238.6 199.2h0M257.4 200.8h0M251.1 199.3h0M238.2 200.6h0M257.4 193.9h0M240.6 197.7h0M247.6 196.4h0M245.1 199h0M245.8 199h0M253.2 198.9h0M256.2 205.6h0M268.3 200.2h0M241 194.7h0M263.4 198.6h0M251.4 193h0M235.3 199.2h0M248.7 197.6h0M249.1 203.1h0M245.1 195h0M247.3 197.4h0M246.8 207.5h0M253.6 197.4h0M266 199.7h0M251 203.9h0M274.8 194.3h0M253 201.6h0M243.1 200.6h0M239.6 199.2h0M267.8 206.6h0M252.3 199.6h0M260.6 202.2h0M278.3 209h0M273.7 213.7h0M263.5 218h0M266.3 223.6h0M287.1 214.7h0M279.6 207.8h0M275.2 207.2h0M260 221.9h0M279.3 216.6h0M285.2 208.5h0M275.3 217.1h0M280.9 204.2h0M267.2 216.2h0M267.7 215.3h0M264.6 216h0M275.6 213.9h0M261.1 208.8h0M258.9 211.8h0M272 220.1h0M262 216.6h0M278.8 219.9h0M274 196.7h0M262.8 207.1h0M262.4 224.3h0M270.7 206.5h0M270.1 209.7h0M279 223.3h0M258.9 211.9h0M282.6 226.8h0M259.8 206.8h0M259.1 207.9h0M276.8 219.9h0M259.8 214.7h0M281.8 228.6h0M261.4 212.8h0M282.1 215.5h0M266.8 224.8h0M272.3 225.2h0M279.5 214.1h0M273.3 207.6h0M278.3 211h0M288.8 212.2h0M283.8 207.6h0M284.2 222.9h0M267 208.3h0M283.2 209.3h0M289.3 215.7h0M270 219.1h0M276.9 212.9h0M260.9 216.4h0M278.3 224.1h0M286.4 208.2h0M289.5 214.4h0M284.2 219.5h0M281.4 225.5h0M272.7 212.2h0M258.4 208h0M276 217.4h0M273.2 209.3h0M259.8 216.7h0M260.9 207.7h0M287.4 222.4h0M267.1 211.6h0M266.4 209.1h0M288.3 206.8h0M282.6 201.9h0M279.1 223.3h0M278.2 205.1h0M287.6 211.3h0M274.1 205.9h0M278 193.2h0M264.5 211.1h0M261.2 206.8h0M270.9 207.5h0M265.6 209.6h0M279.7 220.8h0M269 215.2h0M246.3 231.7h0M272.5 230.1h0M261.7 232.1h0M285.9 229.8h0M279.3 231.3h0M279.1 233.5h0M239.8 230.5h0M246.6 231h0M237.1 233.1h0M248.2 229h0M268.6 233.1h0M245 229.8h0M281.4 232.6h0M233.7 233.9h0M236.5 228.9h0M246.9 228.8h0M281.9 234.8h0M280 231h0M286.1 228.7h0M239.8 230h0M240.4 230.6h0M276.7 228.1h0M237 232.9h0M281.2 234.7h0M282.2 230.4h0M244.9 229.3h0M263 229.2h0M282.3 225.3h0M239.5 225.8h0M270.7 233.8h0M274.5 233.4h0M260.5 233.3h0M239.9 232.4h0M233.8 236.1h0M239.7 231.5h0M246.3 230.7h0M234.7 231.8h0M341.3 182.2h0M335.2 184h0M284.6 219.3h0M333.5 221.2h0M293.8 230.1h0M294.4 227.5h0M341.3 199.6h0M289.1 224.6h0M295.6 211h0M367.1 153.5h0M290.6 211.3h0M287.8 202.2h0M293.8 218.8h0M351.6 185.6h0M324 210.6h0M287.7 199.8h0M312.7 204.9h0M360.4 182.2h0M290.2 229.8h0M281.2 214.5h0M277.4 221h0M349.3 175.4h0M307.7 187.9h0M297.7 204.4h0M302.2 237.6h0M330.2 195.1h0M324.2 204.6h0M306.3 191.8h0M315 188.4h0M322.9 191h0M297.8 219h0M312.1 195.6h0M301.4 198.7h0M291.6 216.1h0M286.3 217.3h0M277.3 216.8h0M315.1 215.1h0M318.5 197.5h0M340.7 194.2h0M293.4 229.5h0M297.4 206.3h0M285 218.4h0M291.6 200.9h0M348.4 186.7h0M289.8 209.6h0M293.4 220.3h0M301.7 192.3h0M356.7 210.7h0M291.6 207.5h0M299.2 210h0M303.6 206.4h0M307.9 209.6h0M292.5 216.6h0M309.4 214.7h0M301.2 218.1h0M336.2 183.5h0M345.6 171.5h0M321.6 197.2h0M286.2 204.8h0M297.6 200.7h0M360 192.2h0M329.4 207.5h0M294.8 204h0M285.5 198.6h0M296.9 213.8h0M341.8 206.3h0M281.7 190.7h0M298.8 211.6h0M341.7 183.7h0M297.4 212.1h0M294.6 212.9h0M334.1 208h0M322.7 198.3h0M297.7 208.5h0M296.4 213.9h0M284.1 229.4h0M378.7 171.3h0M279.8 210.4h0M297.1 200h0M346.3 197.7h0M299.6 212.7h0M299.4 211.6h0M341.9 194.6h0M286.2 226.5h0M285 226.2h0M290 203.1h0M325.5 211.1h0M371.4 200.7h0M315.8 215.1h0M285.9 214.5h0M337.6 214.5h0M334.5 222.4h0M280.7 212.1h0M338.1 188.3h0M308.4 205.3h0M286.6 224.5h0M297.6 231.6h0M347.2 210.2h0M372.3 188.2h0M324 200.1h0M291.9 209.6h0M311.6 194.5h0M285.3 216.3h0M331.3 187.7h0M305.3 205.2h0M349.8 185.7h0M284.2 217.7h0M355 182.8h0M306.9 223.3h0M321.6 202h0M288.5 225.5h0M380.1 189.5h0M287.3 230h0M286.6 217h0M334.1 200.9h0M302.7 214.4h0M291.2 202.2h0M298.4 199.7h0M387.1 192.6h0M332.4 201.3h0M314.7 191.8h0M293.8 196.1h0M291.5 218.1h0M286.1 232.2h0M287.7 223.8h0M311.1 195.3h0M285.8 214.5h0M301.5 219.5h0M338.2 217.3h0M334.3 201.5h0M326 221.7h0M288.6 228.7h0M324.2 200.2h0M365.6 172.9h0M303 209.6h0M304.2 219h0M278.3 219.1h0M315.6 217h0M286.4 208.1h0M364.9 188.3h0M291.4 215.7h0M288.8 218.4h0M347.2 220h0M354.6 179.6h0M322.6 190.1h0M322.1 179.6h0M369.5 176h0M291.1 192.9h0M324.8 198.3h0M295.7 206.5h0M346.5 202.5h0M287.9 213.7h0M365.6 172.3h0M316.1 230.6h0M330.7 203.6h0M359.6 156.4h0M329.1 202.6h0M297.7 185.5h0M360.9 169.6h0M371.6 176.3h0M301.1 179.7h0M310.9 209.4h0M322 202.4h0M351.6 190.8h0M307.4 202.7h0M314 199.8h0M282 213h0M314.9 180.6h0M348.4 189h0M292 219.9h0M311.8 203h0M298.9 236.4h0M292.9 213.6h0M324.9 202.5h0M310.4 202.8h0M296.1 229.3h0M332.9 179.1h0M323.6 216.7h0M315.1 204.2h0M350.8 213.4h0M335.2 192.4h0M372.5 192.8h0M332.9 201.5h0M302.5 203.6h0M354 185.9h0M286.9 209.2h0M331.5 200.4h0M292.1 211.9h0M295.9 207.9h0M339.6 198.2h0M292.7 212.6h0M304.4 211.2h0M306.7 190.7h0M290.2 207.7h0M320.7 232.3h0M302.8 213.3h0M292.6 224.3h0M329.1 196.4h0M306.3 198.8h0M365.5 161.8h0M305.3 222.3h0M308.5 211.6h0M386.3 173.7h0M296.3 217.8h0M349.6 194.3h0M320.6 196.7h0M317.5 190.2h0M284.7 226.7h0M294 221.1h0M363.3 201.3h0M362.7 204.3h0M294.8 209.5h0M283.3 214h0M327.1 202.2h0M285.7 219h0M276 214.1h0M288 214.6h0M282.1 229.5h0M383.3 156.1h0M339 161.9h0M376.9 179h0M336.5 168.1h0M363.4 167.2h0M339 173.1h0M375.3 177.6h0M369.4 168.1h0M333.5 170.5h0M372.8 155.5h0M332.4 157.5h0M383.4 157.6h0M343.8 157.7h0M367.7 188.8h0M377.9 219.9h0M360.6 214.3h0M346.1 206.8h0M332 237.4h0M361.4 177h0M295 204.6h0M336.9 214.3h0M314.7 186.8h0M373.2 213.2h0M255.4 188.6h0M275.9 188.3h0M273.7 209.5h0M257 213h0M275.8 213.2h0M249.2 205.3h0M244.5 201.8h0M270.5 205.7h0M266.9 229.8h0M248.6 202.6h0M237.5 196.1h0M265.3 212.6h0" stroke="#2aa6c9" stroke-width="1.4" stroke-linecap="square"/>
<path d="M185 214 L186.9 211.9 L188.7 209.9 L190.6 208.2 L192.5 207.4 L194.4 206.5 L196.2 205.7 L198.1 204.9 L200 204 L201.8 203.9 L203.7 203.8 L205.6 203.6 L207.5 203.5 L209.3 203.4 L211.2 203.3 L213.1 203.1 L214.9 203 L216.8 203.2 L218.7 203.3 L220.6 203.5 L222.4 203.6 L224.3 203.8 L226.2 203.9 L228.1 204.1 L229.9 204.2 L231.8 204.4 L233.7 204.7 L235.5 205.3 L237.4 205.9 L239.3 206.5 L241.2 207.1 L243 207.7 L244.9 208.3 L246.8 208.9 L248.6 209.9 L250.5 210.9 L252.4 211.9 L254.3 213 L256.1 214 L258 215 L258 220.5 L256.1 221.2 L254.3 221.9 L252.4 222.5 L250.5 223.2 L248.6 223.9 L246.8 224.5 L244.9 224.8 L243 225.1 L241.2 225.3 L239.3 225.6 L237.4 225.9 L235.5 226.1 L233.7 226.4 L231.8 226.5 L229.9 226.6 L228.1 226.6 L226.2 226.7 L224.3 226.7 L222.4 226.8 L220.6 226.8 L218.7 226.9 L216.8 226.9 L214.9 227 L213.1 227 L211.2 227 L209.3 227 L207.5 227 L205.6 227 L203.7 227 L201.8 227 L200 227 L198.1 226.8 L196.2 226.6 L194.4 226.4 L192.5 226.2 L190.6 226.1 L188.7 225.1 L186.9 223.8 L185 222.5Z" fill="#f08816"/>
<path d="M253.6 223h0M223.6 203.7h0M211.3 229.3h0M222.8 227.7h0M191.5 207.5h0M257.1 219.5h0M185.4 227.5h0M223.6 204h0M185.6 211.3h0M229 226.1h0M203 203.8h0M243.4 206.3h0M187.2 227h0M183.5 223.2h0M253 211h0M239.2 224.6h0M188.1 210.9h0M184.7 218.1h0M206.2 227.6h0M223.3 226.8h0M194.6 206.2h0M237.4 204.8h0M257.1 221.9h0M205 204.6h0M212.5 203.6h0M233.7 204.9h0M246 209.2h0M222.6 226.2h0M257 218.7h0M211.3 202.3h0M216.7 226.5h0M218.9 203.4h0M180.8 215.8h0M221.1 227.5h0M257.3 220.6h0M194.6 230.6h0M216.3 203.3h0M216.5 226.3h0M259.1 216.4h0M260.3 216h0M247.3 209.9h0M230 203h0M201.1 226.3h0M235.5 226h0M204.8 203.4h0M188.4 224.1h0M251 222.6h0M258.9 216.6h0M190.8 208h0M206.3 201.6h0M246.1 224.6h0M247.5 208.7h0M231.5 204.9h0M208.2 203.2h0M217.5 204h0M184.9 214.7h0M253 213h0M257.2 219.1h0M186.6 208.8h0M185.9 220.1h0M198.1 205.1h0M184.9 215.8h0M246.1 209.7h0M239.2 205.6h0M184.4 217.7h0M183.7 216.8h0M203.8 228.3h0M214.3 201.1h0M203.1 226.2h0M232.2 205.4h0M250.3 208.5h0M183 218.1h0M258.5 218.7h0M235.4 226.5h0M240.4 207.7h0M233.5 205.3h0M217.2 202.7h0M243.5 225.7h0M228.5 228h0M233.2 204.6h0M245.5 223.9h0M191.9 208.6h0M186.1 212.4h0M187.2 210.6h0M248.9 210h0M236.8 205.3h0M185.7 218.1h0M254.1 222.5h0M257.6 220.1h0M253.5 222.5h0M218.6 226.8h0M258.1 218.1h0M214.4 228.9h0M185.6 214.2h0M254.6 223.4h0M206.1 203.6h0M239.6 224.9h0M255.7 213h0M250.9 209.9h0M248.5 223h0M260.1 222.8h0M224.4 226.5h0M252 222.7h0M205.7 204.1h0M239.1 207.1h0M208.5 202.9h0M255.3 221.2h0M219.3 203.4h0M252.8 209h0M245.8 227.1h0M248 210.5h0M185.2 208.2h0M252.3 222h0M256.1 221.2h0M224.6 227.3h0M221.2 226h0M248 210.4h0M222.4 227.6h0M185 222.8h0M257.2 215h0M188.6 224.1h0M186.1 225h0M258.5 218.1h0M225.5 226.7h0M207.9 227.4h0M231.9 203.8h0M237.9 204.9h0M256.8 221.2h0M251.7 222h0M258.1 216.5h0M222.5 226.8h0M215.8 227.5h0M185 216.3h0M215.9 227.3h0M213.9 227.1h0M195.1 203.5h0M259.2 216.6h0M248.8 208.2h0M255.5 213.8h0M193.1 225.6h0M232.5 204.5h0M210.4 204h0M236.8 206.4h0M228.3 226.1h0M200 201.9h0M239.9 224.6h0M237.4 226.3h0M183.6 214.4h0M212.2 203.7h0M249.8 225.4h0M185.3 213h0M200.2 203.3h0M238 225.1h0M194.3 205.9h0M188.2 210.8h0M191 208h0M240.4 226h0M191.4 228.1h0M185.8 212h0M185.3 220.7h0M229.4 203.9h0M231.8 204.4h0M210.7 203.9h0M222.9 226.7h0M257.1 218.6h0M257.6 220.3h0M246.3 208.4h0M257.5 214.6h0M224.4 201.9h0M232 204.8h0M191.9 226.8h0M228.6 204.8h0M228.6 227.4h0M252.5 224.8h0M243.9 208.2h0M257.6 216.8h0M255.9 213.3h0M216.5 226.5h0M185.3 215.8h0M202 226h0M181.4 211.5h0M255.8 224.9h0M206.9 226.9h0M245.1 226.4h0M235.4 226.2h0M257.6 213.1h0M192.7 206h0M220.5 203.5h0M236.5 206.5h0M257.4 214h0M191.5 225.8h0M252.4 212.3h0M218.5 226.3h0M227.4 225.7h0M183 222.1h0M199.9 226h0M221.4 203.6h0M195 226.1h0M250.9 222.2h0M194.2 226.1h0M242.6 226.5h0M190.9 226.5h0M226.3 204.3h0M258.8 220.9h0M240.4 204.9h0M205.8 226.8h0M255.9 220.6h0M219.4 204.1h0M218.1 203.3h0M199.9 227.9h0M255.9 221.2h0M238.5 225.4h0M187.1 223.2h0M239.7 207h0M228.1 226.2h0M245.5 207.9h0M216.7 229.6h0M201.3 203.3h0M189.5 210h0M209 204.2h0M254.1 213.1h0M254.6 213.9h0M218 203.8h0M249.1 209.4h0M260.2 222.9h0M232.5 226.1h0M184.6 219.2h0M220.1 200h0M252.2 212.2h0M243.3 208.5h0M186.6 223.1h0M209.6 202.4h0M225.9 225.9h0M200.4 203.8h0M258.2 218.3h0M187.2 226.3h0M229 226.8h0M219.1 202.7h0M186.7 208.7h0M186.8 212.9h0M200.2 228.5h0M244.6 206.9h0M186.5 223.2h0M256.1 214.7h0M241.2 206.7h0M191.4 207.7h0M228 225.9h0M253.1 212.8h0M215.7 203.1h0M241.3 207.2h0M185.6 209.7h0M248.6 224.5h0M253.4 212h0M216.8 226.2h0M184.5 218.4h0M238.7 207.3h0M217.9 203.7h0M185.5 215.3h0M204.1 227.3h0M259.1 212.9h0M256 213.6h0M181.4 216.9h0M254.7 213.6h0M185.7 221.3h0M230.8 205.2h0M206.7 226.5h0M199.6 203.4h0M257 215.4h0M201.3 203.9h0M245.6 224.8h0M185.9 222.9h0M234.5 205.7h0M200.7 228.6h0M226.3 204.2h0M257.4 222.2h0M257.2 217h0M249 208.5h0M184.7 223h0M250.2 222.7h0M251.8 211.2h0M215.4 227.5h0M188 224.7h0M256.9 221.4h0M252.8 210.5h0M183.9 219h0M223.8 226.7h0M190.6 208.6h0M253.3 212.8h0M185.5 218.1h0M212.1 226.2h0M224.6 203.8h0M236.5 226.6h0M185.3 214h0M188.7 210.2h0M209.2 226.6h0M240.3 206.5h0M261.9 219.5h0M182.8 215.4h0M184.6 219.8h0M243.5 225.4h0M258.3 220.2h0M244 226.4h0M190.2 208.5h0M202 204.3h0M190.7 225.1h0M235.1 225.9h0M234.4 205.6h0M260 217.2h0M256.7 211.7h0M184.1 217.4h0M243.7 226.9h0M244.4 206.3h0M231.6 204.4h0M200.3 227.3h0M184.9 218.4h0M203.9 202.7h0M257.4 220.2h0M254.1 212.2h0M253.8 213h0M255.3 213.3h0M205 226.6h0M187.7 209.9h0M203 204h0M251.1 223.1h0M214.6 226.1h0M194.9 226.5h0M210.1 199.8h0M227.6 225.8h0M204.9 226.7h0M196.7 225.8h0M232.5 205.2h0M217.1 226.7h0M246 225.3h0M246.6 209.9h0M198.8 226.2h0M254.8 222.9h0M219.1 229h0M189.3 226.4h0M258 215.6h0M253 222.4h0M231.4 203.8h0M257.1 217.9h0M213 203.5h0M205.3 204.3h0M244.9 224h0M254.4 212.7h0M221.4 226.4h0M251.3 210.7h0M216.3 202.8h0M188.4 225.2h0M202.8 203.8h0M238.6 206.4h0M202.3 204.8h0M250.4 209.5h0M237.1 226.5h0M246.5 209.2h0M219.3 203.8h0M242.4 207.7h0M254.9 221.5h0M254.7 221.8h0M193.8 226.1h0M255.7 221.5h0M226.7 225.9h0M250.2 222.4h0M261.1 219.5h0M239.6 226h0M190.9 226h0M255.7 220.7h0M248.6 210h0M257.1 215.3h0M247 208.7h0M249.8 223.1h0M205.9 200.6h0M254.7 221.1h0M182.1 214.1h0M251.4 222h0M234 205.3h0M190.4 226.2h0M183.8 213.5h0M184.7 212.9h0M241.1 207.4h0M184.1 214.3h0M259.4 218.3h0M192.1 225.3h0M218.2 226.5h0M210.5 226.8h0M184.9 220.2h0M202.7 226.5h0M187.1 223.1h0M187.8 210.6h0M239.9 207.1h0M247.6 224.1h0M257.9 217.9h0M241.2 208h0M185.3 223.2h0M245.6 223.9h0M252.4 209.6h0M209.2 226.3h0M219.8 204.2h0M204.2 203.6h0M205.5 227.8h0M184.9 218.7h0M190.2 208.5h0M202.1 228.5h0M249.8 222.9h0M185.9 215.5h0M186 223.9h0M200.2 226.8h0M198.1 226.2h0M183.7 218.4h0M212.3 227.7h0M225.7 226.2h0M207.1 228.1h0M256.8 213.8h0M185.5 218.9h0M187.5 225.1h0M185 221h0M228.9 226.1h0M231.9 226.5h0M220.3 203.6h0M194 225.6h0M257.5 217h0M254.9 221.9h0M182.8 219h0M246 209.2h0M257.5 212.7h0M253.2 211.8h0M255.9 220.4h0M237.4 225.5h0M202.1 204.5h0M216.9 203.8h0M208.7 204h0M225.7 227.7h0M189.7 225.7h0M198.1 204.4h0M220.3 225.9h0M215.8 227.6h0M257.5 216.1h0M254.6 213.5h0M216.8 203.7h0M218.1 201.7h0M214.6 228.2h0M255 222.9h0M201.9 204.3h0M199.2 205h0M211.1 204.2h0M248.9 208.4h0M240.2 205.1h0M204.7 226.3h0M233.7 226.4h0M237.4 206.1h0M236.2 204.4h0M253.2 211.7h0M238 225.7h0M232.7 229.1h0M236.2 226.9h0M184.7 212.4h0M233.8 205.5h0M246.4 224.6h0M246.3 223.8h0M253.9 212.3h0M260.6 217.5h0M235.7 205.2h0M213.5 226.6h0M229.1 225.9h0M182 220.7h0M261.1 220.1h0M256.6 210.6h0M210.2 229.8h0M235.1 205.4h0M245.9 224.4h0M193.4 228.7h0M208.1 203.9h0M192.6 226.3h0M257.2 217h0M233.6 226.9h0M185.4 223.9h0M186.3 224.1h0M222 203.9h0M209.8 227.2h0M220.5 226.6h0M251.6 209.9h0M197.4 204.9h0M259.3 219.8h0M237.5 227.4h0M188.2 223.9h0M259.9 217h0M257.4 220.7h0M226.8 202.8h0M242 207.5h0M252.6 211.7h0M189.2 210.2h0M202.7 227.3h0M257.4 216.7h0M218.5 226h0M200.3 227h0M214.5 226.9h0M184.1 224.1h0M211.4 227.1h0M201.4 202.6h0M192.2 208.2h0M185.5 215h0M224.4 227h0M183.7 213.1h0M247.7 208.4h0M222.9 200.4h0M251.7 224.6h0M246.3 207.1h0M222.3 204h0M185.4 214.5h0M249.3 209.8h0M257.5 219.1h0M258.2 215.4h0M182.8 219.2h0M251.8 212.6h0M228.4 204.1h0M192.6 205.4h0M252.5 212.2h0M235.4 225.5h0M255.5 222.7h0M211.2 203.3h0M203.6 228.8h0M228.2 204.6h0M233.5 204.7h0M222.2 227.1h0M221.8 227.1h0M231.9 226.3h0M205.6 226.1h0M184.9 221.8h0M247.9 210h0M258.8 217.1h0M181 220.2h0M186.6 222.9h0M197.5 204.3h0M201.7 204h0M244.6 206.8h0M253.7 212.9h0M204.9 201.3h0M255.7 220.9h0M234.9 225.8h0M184.2 214.5h0M249.1 224.8h0M218 227.4h0M242.9 208.5h0M235 227h0M187.1 223.3h0M231.8 204.4h0M233.8 225.8h0M251.6 212.4h0M184.5 214.2h0M248.5 224.4h0M254.4 213.3h0M186.9 225.7h0M256.1 212.7h0M250.8 222.2h0M248.3 210.5h0M232.9 204h0M251.2 224h0M226.5 226.6h0M204.4 227.7h0M206.3 228.8h0M247.3 209.4h0M208.6 226.1h0M242 225.6h0M226.2 204.5h0M188 211h0M257.1 216.3h0M198.2 205.2h0M208.6 204.1h0M204.4 226.6h0M189.2 210.3h0M192.7 206.5h0M204.2 226.9h0M185.6 211.2h0M234.9 228.5h0M256.7 214.5h0M254.3 221.7h0M198.1 227.8h0M185.5 223.5h0M185.6 213.3h0M243.9 208.7h0M234 227h0M260 220.1h0M185.8 215.4h0M238.2 227.6h0M228.2 205.1h0M181.4 215.2h0M203.6 226.9h0M193.1 207.1h0M225.3 225.8h0M215.1 227.4h0M219.9 228.4h0M184.6 217.5h0M185.3 222.1h0M255 213.4h0M189.5 209.2h0M210.1 199.7h0M190 208.2h0M186.1 222.8h0M217.2 203.4h0M258.2 221.6h0M255.9 221.9h0M204.7 203.1h0M195.8 226.3h0M234.8 205.8h0M191.1 226.2h0M224.8 226.8h0M248 210.5h0M251.8 209.8h0M190.7 226h0M257.4 217h0M244.4 225.2h0M214.8 229.2h0M236.9 226.9h0M249.9 208.9h0M255 214.2h0M194.7 225.7h0M253.7 221.4h0M244.9 207.8h0M258 218.1h0M216.9 202.7h0M235.6 229.3h0M201.4 204.5h0M250 224.6h0M258.6 216.4h0M185.2 217h0M237.6 205.1h0M220.2 203.7h0M245.6 208.6h0M211.9 227.3h0M184.8 224.4h0M184 213.3h0M185.1 216.1h0M197.5 205h0M233.3 205.2h0M258.5 215.2h0M246.4 209.6h0M236.3 227.3h0M208.9 203.6h0M220 226.6h0M255.7 221.7h0M192.4 207.5h0M184.8 209.8h0M235.1 230.5h0M209.7 204.2h0M246.1 224.8h0M196.9 206.2h0M253.1 223.2h0M210 203.8h0M261.8 217.7h0M260.7 215.3h0M223.1 227.3h0M205.8 203.9h0M187.6 210.5h0M185.3 217.8h0M184.7 218.5h0M233.5 225.7h0M206.9 203.7h0M203.2 226.2h0M259.3 217.4h0M249.8 209.2h0M259.6 219.7h0M223.3 204.1h0M188.5 225.6h0M186.1 226.2h0M192.6 207.7h0M249.5 210.2h0M257.8 213.3h0M243.2 208.6h0M184.5 218.4h0M252 223.5h0M256.4 212.7h0M214.8 227.3h0M257 216.3h0M184.3 218.3h0M250.5 207.8h0M214.4 226.1h0M254.8 221.1h0M187.1 223.4h0M201.3 226h0M254.1 212.8h0M247.8 210.3h0M241.4 224.8h0M192.6 206.6h0M185.2 219.2h0M195.6 226.8h0M247.8 225.1h0M244.7 209h0M224.9 226.4h0M256 213.4h0M254.8 222.9h0M250.9 226.9h0M198.4 226.8h0M230.3 226.8h0M184.4 212.8h0M212.3 203.7h0M221.3 226.3h0M250.6 225.1h0M256.9 212.9h0M251.2 223.4h0M196 226.3h0M203.9 202.1h0M199.4 204.4h0M249.5 222.9h0M194.9 229.2h0M248.1 224.1h0M220.6 227h0M261.2 220.2h0M238 206.8h0M191.5 207.2h0M224.9 225.8h0M198.1 225.9h0M258 216.8h0M237.9 224.9h0M249.1 223.5h0M184 220h0M186 217.2h0M253 211.9h0M198 204.6h0M184 214.5h0M200.8 203h0M246 225h0M185.3 215.6h0M255.5 213.4h0M236.9 206h0M219.3 202.6h0M254.7 222.3h0M186.2 224.1h0M256.3 220.3h0M196.7 204.5h0M236.7 205.1h0M183.8 222.5h0M187.3 223.1h0M239.9 205h0M251.2 212.1h0M257.9 215.9h0M258.5 219.3h0M182.5 216.4h0M218.5 203.5h0M235.8 226.7h0M242.5 206.6h0M236.4 204.1h0M259.2 217.4h0M193.9 228.5h0M186.2 226h0M201.1 204.2h0M231 202.2h0M235.6 227h0M254.5 221.1h0M196 227.3h0M251.3 222.8h0M209.8 204.2h0M227.3 226.4h0M257.3 214.2h0M206.2 204.4h0M258.1 213.8h0M218.1 201.5h0M232.2 202.9h0M257.8 219.5h0M217 228h0M241.9 224.8h0M240.3 207.2h0M256.3 214.4h0M184.9 220.9h0M255.7 213.5h0M212.3 203.6h0M254.9 221.3h0M185.3 217.9h0M217.1 228.3h0M225.9 226.8h0M213.8 226.9h0M250.2 224.5h0M190.4 225.6h0M185.5 216.1h0M194.6 226.7h0M251.2 224.5h0M249.9 224.3h0M249.2 209.7h0M205 226.1h0M248.9 224.2h0M251.4 210.7h0M204 226.4h0M250.6 224h0M191.5 225.4h0M255 221h0M185 214.8h0M234.3 226.6h0M256.7 221.2h0M254.7 210.7h0M211.8 226.8h0M253.8 221.5h0M258.3 219.5h0M196.3 206h0M199.5 204.1h0M206 228.3h0M193.2 207.8h0M256.2 213.7h0M192.2 226.9h0M193.1 226.1h0M184.5 221.3h0M192.8 225.5h0M188.8 225.8h0M212.1 201.8h0M257 216.6h0M225.6 226.4h0M185.8 216.9h0M207.1 204.5h0M190.4 206.9h0M206.7 202.3h0M255.7 220.4h0M254 211.3h0M239.4 224.8h0M220.4 202.8h0M189.9 209.3h0M210.5 202.5h0M186.3 225.2h0M257.2 221.7h0M184.5 216h0M199.4 227.6h0M259.2 222.1h0M247.6 225.2h0M247.9 208.3h0M206.5 228.7h0M257.7 219.2h0M250.9 222.7h0M244.6 224h0M258 216.7h0M219.7 228.6h0M250.1 210.3h0M257.3 217.5h0M226.3 226.5h0M240.6 224.5h0M199.7 229.1h0M235 205.4h0M256.2 221.3h0M256.9 211h0M256.6 213h0M190.3 207.7h0M216.3 227.4h0M220.7 203.9h0M232.2 226h0M254.1 223h0M213.6 227.7h0M192.7 206.1h0M195 204.7h0M209.1 228.6h0M256.5 211.9h0M201.6 204.5h0M254.9 212.1h0M257.1 215.8h0M217 202.8h0M238.1 226.2h0M229.8 204.7h0M221.7 225.9h0M243 207.1h0M190.2 225.8h0M183.4 223.9h0M223.7 225.9h0M220.6 204.1h0M236 206.3h0M185.5 223.2h0M199.2 202.9h0M194.3 226.5h0M192.7 226.5h0M257.2 221.2h0M257.7 220.2h0M187 212.1h0M239.2 206h0M245.8 209.5h0M185.2 218.2h0M225.7 204.8h0M188.3 208.4h0M182.6 220.4h0M258.9 219.5h0M220.8 226.9h0M209.6 226.3h0M183.1 215.8h0M211.5 203.5h0M185.2 223.3h0M257.2 219.9h0M258 217.2h0M230.7 227.8h0M243.8 226.4h0M256.7 220.8h0M190.6 208.4h0M257.5 215.9h0M257.6 217.2h0M257.3 219.2h0M198.2 227h0M191 226.9h0M202.4 229h0M219.5 227.8h0M253 212.1h0M234.8 226h0M195.4 206.7h0M226.2 204.4h0M204.1 226.4h0M228.1 228h0M248.7 224.3h0M184.9 221.1h0M257.1 214.3h0M258.5 215.7h0M254.9 210.5h0M258.1 218.3h0M249.4 208.5h0M258.1 212.6h0M258.2 215.8h0M189.2 207.3h0M212.2 227.6h0M253 221.6h0M191.1 207h0M215 202.9h0M193.7 227.2h0M223.8 227.2h0M243.1 207.1h0M219.4 227.7h0M259.4 217.8h0M203.4 204.7h0M257.8 219.4h0M252.9 210h0M247 223.8h0M243.4 208.8h0M202.3 203h0M240.3 225.9h0M225.9 203h0M206.7 203h0M250.6 222.9h0M246.8 208.4h0M237.6 206.2h0M215.9 226.3h0M255.3 213.9h0M257.8 220.7h0M242.1 208.1h0M251.2 222.2h0M216.8 227h0M251.9 222.4h0M185.8 217.4h0M254.8 209.7h0M262.1 216h0M198.8 227.2h0M185.4 212.3h0M252 224.3h0M201.3 204.1h0M181.4 223h0M184.7 218.3h0M230 203.5h0M255.8 222.2h0M255.7 221.7h0M229.9 204.1h0M185.8 218.1h0M253 212h0M188.2 226.7h0M240.4 226.2h0M182.8 220.8h0M243.2 224.3h0M194.2 204.1h0M198.5 227h0M185.9 213.6h0M186.8 222.8h0M249.9 207.9h0M238.9 226.2h0M202 204.8h0M255.4 220.5h0M184.1 222.4h0M207.4 203.7h0M221.6 203.7h0M236.8 226.3h0M209.3 204.4h0M257.2 215.5h0M226.1 203.5h0M250.4 222.6h0M230.6 228.4h0M183.7 218h0M246.3 209.3h0M183.6 215.4h0M184 218.8h0M259 216h0M190.6 207.8h0M192.8 226.1h0M222.6 227.9h0M212.7 204.1h0M257.7 216.9h0M246.7 226.6h0M228 226.4h0M259.2 218.4h0M181.6 215.2h0M193.5 226.8h0M257.8 219.8h0M213.3 202.6h0M252.6 221.8h0M258.6 215.8h0M187.7 210.6h0M256.9 214.8h0M233.4 225.7h0M183.1 218.3h0M242.6 227.6h0M250.2 225.4h0M184.5 212.7h0M184.3 214.2h0M184.3 213.9h0M239.4 224.8h0M258.8 215.3h0M253.5 213.5h0M243.5 224.2h0M190.2 227.7h0M185.6 219.9h0M185.8 221.9h0M244.7 224.4h0M200.5 204h0M185.9 219.2h0M252.1 212.6h0M182 217.7h0M185.1 217.9h0M236 205.8h0M186.2 223.2h0M187.8 211.3h0M186.4 209.3h0M256.6 222.3h0M254.4 211.7h0M198.3 205.7h0M248.9 224.4h0M257.4 217.2h0M210.5 226.9h0M254 223.2h0M260 219.4h0M259 214.8h0M236.7 225.4h0M241.1 206.7h0M252.7 212.9h0M259.1 219.9h0M182.7 222.5h0M186.7 210.2h0M241.8 224.9h0M215.5 203.8h0M198.4 205.1h0M226.1 201.1h0M256.2 214.9h0M190.9 208.5h0M246.2 208.7h0M215.8 203.6h0M248.2 224.4h0M227 204.2h0M253.8 222h0M223.5 204.4h0M218.1 227.3h0M251.5 210.6h0M255.1 222.2h0M206.1 227h0M258.8 213.5h0M202.5 228h0M245.7 208.8h0M183.3 221.2h0M251.1 224.9h0M258.5 216.4h0M217.6 226.1h0M258.4 218.3h0M240.2 206.5h0M199 204.4h0M201.8 204.7h0M228.6 201.8h0M222.7 204.4h0M224.8 204.2h0M200.7 202h0M187.9 211.4h0M254.2 212.8h0M186.4 224.3h0M259.5 211.9h0M259.1 214.4h0M250 223.7h0M257 218.5h0M184 217.8h0M251.2 222.4h0M224.1 203.2h0M183.4 220.3h0M210 203.2h0M204.2 202.2h0M250.2 210.8h0M192.3 207.5h0M256.1 214.5h0M188.3 224.7h0M184.9 217.6h0M224.6 204.1h0M237.3 206.9h0M248.9 223.2h0M196.2 205.2h0M233 203.7h0M192.6 207.3h0M253.1 223.1h0M247.6 209.7h0M207.9 226.8h0M217.7 228.8h0M244.2 208.1h0M187.7 211.4h0M258.1 221.1h0M238.3 227.5h0M206 204.2h0M259.8 218.7h0M195.6 226.7h0M239.8 205.2h0M213.6 226.3h0M191.3 208.2h0M199.2 226.3h0M205.2 226.1h0M228.2 203.6h0M186.9 211.7h0M210.7 226.5h0M260.3 220.7h0M216.1 201.1h0M218.7 203.1h0M259.6 217.4h0M189.4 206.3h0M189.3 208.2h0M259.7 219.5h0M239.8 207.2h0M242 206.4h0M197.1 206h0M257.2 213.3h0M195.9 206.8h0M248 223.8h0M250.8 211.6h0M225.1 228.7h0M247.7 224h0M222 227.7h0M248.7 210h0M230.2 226.8h0M190.3 227.8h0M184.9 216.3h0M258.2 218.9h0M233.7 226.3h0M192.2 206.4h0M212.2 227.1h0M256.2 214.8h0M245.1 224.6h0M256.9 221.9h0M202.2 227.1h0M208.2 226.4h0M192.4 206.5h0M248.5 225.3h0M186.8 211.7h0M185.5 216.8h0M228 202.9h0M218.7 202.2h0M257 217.8h0M258.1 214.2h0M225.2 204.4h0M229.5 226.6h0M258.6 221.5h0M253.4 221.8h0M222 201.7h0M226 227.6h0M249.2 209.8h0M185 218.4h0M258.8 221.5h0M239 207.3h0M253.5 212.1h0M236 206h0M257.7 216h0M235.9 204.1h0M259.7 215h0M257.2 219.7h0M240.3 206.2h0M235.3 205.8h0M244.6 225.7h0M246.7 207.5h0M199.6 226.5h0M256.8 223.3h0M197.1 204.5h0M242.7 228h0M202.9 226.5h0M187.6 224.6h0M216.7 226.9h0M260.1 215.9h0M251.4 212.2h0M256.4 213.4h0M188.5 226.8h0M260 213.5h0M256.6 220.9h0M182 211.3h0M256.8 212.3h0M224.2 203.8h0M259.3 211.5h0M186.4 223.6h0M254.5 213.5h0M254.5 222.3h0M250.6 209.2h0M237.5 205.9h0M226.2 204.2h0M227.2 225.9h0M188.2 209.5h0M250.9 211.7h0M193.4 225.8h0M250.5 209.4h0M193.1 226.5h0M190.8 225.2h0M185.6 224.3h0M239 226.3h0M235.5 226.6h0M189.3 225.4h0M258 215.8h0M206.1 227.6h0M201.8 202.6h0M243.4 224.5h0M191.1 208h0M258.4 216.4h0M255 222.1h0M195.8 204.9h0M245.6 225.9h0M206.8 202.8h0M190.2 225h0M207.8 203.3h0M186 218.6h0M213 226.6h0M238.1 225.1h0M244.9 225.4h0M262.2 217.2h0M195.4 205.7h0M197.3 226.2h0M184.7 219.3h0M184.4 215.1h0M225.9 203.7h0M221.6 227.2h0M217.3 229.1h0M229 204.9h0M216.5 226.4h0M222.4 226h0M244.1 224.3h0M199.3 203.6h0M253.6 221.6h0M226.3 225.9h0M220.2 229.1h0M203.1 226.6h0M246.7 207.6h0M250.5 211.1h0M247.9 224.4h0M221.9 204.2h0M248.3 210.5h0M194.2 203.3h0M252.7 222.8h0M214.1 202.9h0M239.9 207.4h0M218.8 202.7h0M185.8 218.4h0M183.2 213h0M202.8 204.1h0M191 207.9h0M204.3 204.3h0M194.9 225.9h0M195.8 204.5h0M191.9 207.8h0M210.7 227.2h0M237.3 227.7h0M188.6 226.3h0M252.3 212.8h0M217.6 201.7h0M257.8 216.6h0M184 215.8h0M204.3 203.6h0M216 203h0M205 202.4h0M223.4 225.8h0M190 208.7h0M194.1 207.2h0M243.8 208.1h0M197.1 206.3h0M257.7 219.1h0M247.7 208.7h0M251.2 223.8h0M257.1 214.8h0M201.6 226.5h0M226 204.5h0M225.4 226.2h0M223.1 227.1h0M257.9 217h0M253.4 221.5h0M255 222.5h0M238.6 207.2h0M210.1 203.1h0M229.9 203.8h0M252.6 210.2h0M206.4 202h0M251 211.2h0M185.5 216.5h0M225.5 204.3h0M237 205.7h0M185.6 221h0M188 224.3h0M260 218.7h0M208.8 203h0M247.1 209.5h0M195.4 203.9h0M197.5 202.6h0M225.2 203.9h0M216.1 203.1h0M258.3 215.8h0M196.2 226.5h0M191.3 225.1h0M251.5 222.3h0M204.9 201.1h0M258.9 218.5h0M185.7 218.6h0M253.6 212.7h0M251.4 222.9h0M261.6 220.1h0M210.8 203.4h0M245.7 224h0M240 225.8h0M251.5 223.2h0M254.6 212h0M197.7 204.8h0M256.1 220.8h0M186.9 224.4h0M193.2 226.1h0M253 211.2h0M201.2 226.9h0M254.2 212.7h0M194.8 206.5h0M256.4 214.6h0M189.8 209.7h0M210.9 227.4h0M202.9 203.6h0M218.6 204.1h0M191 226h0M256.7 215h0M215 228.3h0M199.6 202.5h0M237.5 206.4h0M226.1 227.3h0M258.8 218.1h0M255.5 211.8h0M185.1 220.7h0M256 214.5h0M256 221.8h0M251.1 211.3h0M256.5 212.9h0M201.8 204.5h0M221 226.6h0M199.6 228.6h0M224.2 227.1h0M217.8 203.3h0M224.7 204.5h0M249.5 210.6h0M185.7 215.9h0M259.1 219.1h0M181 212.9h0M188.4 224.9h0M257 214.8h0M257.3 219h0M211.5 227.9h0M241.9 225.7h0M207.8 204.2h0M248.3 226.5h0M197.9 226.3h0M204.7 203.1h0M241.2 224.7h0M228.7 229.3h0M208.7 226.3h0M237.8 206.7h0M232.2 227.7h0M196.5 206.3h0M186.4 226.3h0M238.4 206.5h0M200.6 204.2h0M220.4 227.8h0M185.1 223.8h0M193 207.1h0M218.5 227.7h0M187.2 223.5h0M258.1 218h0M195.5 226.4h0M217.8 203h0M244.4 224.6h0M185 213.2h0M208.5 204.4h0M258 218.8h0M220.9 204.2h0M185.1 222.6h0M241.3 225.2h0M187.1 224.5h0M183.4 214.2h0M254.9 221.7h0M223.9 227.8h0M239.5 206.9h0M226.9 226.2h0M185.1 217.1h0M218.7 226.1h0M183.6 214.8h0M192.5 207.4h0M257.1 213.8h0M221.6 226.5h0M206.4 226.9h0M221.8 226.1h0M255.7 213.9h0M188.2 211.5h0M249.3 210.9h0M257.4 217.6h0M216.7 226.4h0M257.5 212.2h0M253.3 222.5h0M228 205.1h0M254.7 212.7h0M183.4 215h0M259.6 218h0M254.4 222.5h0M244.9 208.9h0M185.2 219.1h0M191.6 226.6h0M259.4 214.5h0M182.8 213.8h0M207.9 203.3h0M259.7 218.8h0M235.6 226.8h0M234.8 225.8h0M198.4 228.6h0M253 221.9h0M213.8 201.4h0M195.6 226.7h0M251.5 222h0M258.8 217.1h0M185.4 223.5h0M244.6 225.2h0M197.9 226.6h0M257.4 220.2h0M255.7 210.7h0M200.8 226.3h0M214.7 203.9h0M204.8 228.9h0M220.2 227.1h0M248.9 208.8h0M199.7 203.3h0M244.9 225.4h0M238 207.1h0M251.6 223.2h0M244.2 226.2h0M220.1 225.9h0M192.8 226.1h0M191.7 208.2h0M255.3 213.8h0M236.9 227.2h0M218.1 203.6h0M185.4 213.6h0M184.5 223.2h0M252.9 212.8h0M204.1 204.5h0M258.2 217.8h0M194.1 207.2h0M233.6 203.6h0M256.3 215h0M185 211.7h0M188.5 226.1h0M184.3 220.9h0M191.9 226.2h0M257 217h0M237.1 225.9h0M184.9 219.4h0M246.2 209.3h0M220.7 228.5h0M224.8 226.7h0M257.9 216.5h0M190.8 206.9h0M199.9 229.6h0M182.8 219.1h0M223.4 226.3h0M185.2 218h0M224.7 202.8h0M179.8 221h0M239.2 225.6h0M187.9 210.7h0M236.9 203.7h0M253.2 222.2h0M209.8 226.5h0M235.6 204.5h0M238.2 224.8h0M207.9 226.4h0M257.5 216.1h0M255.1 220.7h0M195.4 226.7h0M257.6 219.9h0M202.3 203.8h0M210.1 202.4h0M233.6 204.8h0M236.1 225.8h0M257.7 217h0M202 203.7h0M250.7 211h0M252.7 222.4h0M208.8 201.8h0M251.7 207.9h0M186.1 213h0M249.1 209.1h0M257.5 219.5h0M229.6 225.9h0M205.7 227.1h0M188.5 209h0M253.7 210.7h0M186.8 222.9h0M254.7 220.8h0M200.1 228.3h0M252.8 222h0M194.6 226.5h0M254.2 213.9h0M257.5 217.7h0M183.8 214.3h0M255.3 221.9h0M193.4 206.5h0M182.3 218.6h0M247.9 223.3h0M208.7 228.4h0M249.2 223.3h0M252.4 212.8h0M184.6 210.3h0M226.2 227.2h0M250.2 223h0M239.5 206.6h0M245.7 208h0M258.8 214.2h0M205.5 203.9h0M186.7 224.3h0M245.4 208.6h0M222.2 227.1h0M254.6 213.7h0M222.2 204.1h0M219.4 226.1h0M245.9 225.2h0M184.5 215.1h0M255 221h0M253.7 221.2h0M209.3 226.7h0M214.8 226.1h0M260.5 216.9h0M187.9 210h0M256 212.6h0M251.4 209.8h0M244.1 206.2h0M244.3 224.5h0M196.3 205.1h0M258 215.6h0M251.1 225h0M235.9 205.9h0M233.4 201.8h0M257.7 219.4h0M241.8 207.8h0M258.1 217.1h0M256.2 213.5h0M185.6 220.1h0M257.3 214.9h0M185.8 220.5h0M247.3 209.2h0M245.5 224.5h0M255.7 213.2h0M196.2 227.9h0M193.5 226.9h0M248.7 223.1h0M249.3 210.3h0M214.1 227.2h0M218.4 228h0M251.9 208.9h0M189.6 226.1h0M250.5 223.1h0M242.5 205.1h0M250.2 208.7h0M201.2 227.7h0M262.4 215h0M208.1 204.4h0M217.9 202.7h0M230.6 229.3h0M215.8 203.5h0M243 224.1h0M228.7 203h0M258.7 219h0M245 209h0M240.4 226h0M211.6 226.8h0M255.2 222.1h0M234.7 227.3h0M189 209.1h0M223.7 226.2h0M247.4 210.1h0M203.6 203h0M184.8 214.9h0M250.8 210.1h0M254 222.5h0M231.3 202.8h0M184.2 219.5h0M243.3 206h0M185.1 222.9h0M244.5 226.7h0M261.1 222.8h0M180.2 210.7h0M211.9 201.7h0M184.1 219.7h0M250.6 223.4h0M199.4 227.7h0M251.4 222.9h0M249.1 226.1h0M233.4 199.6h0M239.6 228.4h0M204 228.4h0M261.5 211.7h0M186.6 226.3h0M207.6 202.3h0M216.2 202.4h0M193.2 232.1h0M183.8 216.3h0M209.2 202.4h0M257.2 228.7h0M225.2 202h0M257.7 214.8h0M189.6 229.9h0M183.3 211h0M181.3 208h0M190.1 227.9h0M174.3 222.7h0M259.7 218.9h0M247.8 208.6h0M251 222.8h0M267.6 216.8h0M232.3 202.4h0M184.4 212.9h0M193.1 207.1h0M192.6 233.7h0M258.3 214.4h0M223.1 227.4h0M251.6 211h0M189.3 204.8h0M221.7 227h0M251.4 206.7h0M230.4 227.4h0M184.4 216.3h0M182.5 216.1h0M258.6 224.8h0M251.2 211.1h0M262.6 220.6h0M197.8 202.5h0M185.7 226h0M187.2 210.5h0M258 213.2h0M202.4 228.4h0M245.7 226.6h0M184.3 219.8h0M198.1 226.7h0M221.2 202.1h0M252.9 223.1h0M261 224.4h0M232.4 227.8h0M186.6 211.6h0M253.4 208.8h0M194.9 229.3h0M210.5 230.7h0M186.8 228h0M264.6 222.8h0M197.8 196.7h0M260.6 217.9h0M254.1 223.4h0M230.8 204.4h0M182.5 217.1h0M214.9 231.5h0M227 229.9h0M225.2 201.5h0M248.4 207.7h0M218.1 198h0M207.4 226.8h0M189.3 225.7h0M260.1 218.2h0M234.4 202.3h0M242.9 203.5h0M215.9 230.7h0M222.2 199.4h0M259.5 220.8h0M253.1 225.4h0M201.9 202.3h0M180.2 225.4h0M245.6 207.9h0M251.6 206.1h0M194.1 226.2h0M224.5 233.5h0M236.2 227.2h0M180.1 224.3h0M239.6 204.1h0M181 216.6h0M231.1 228.2h0M259.9 217h0M228 232.7h0M258.5 220.1h0M231.7 226.7h0M185.7 210.9h0M209.7 229.6h0M235.5 205.3h0M239.4 226.8h0M204.6 200.9h0M248.2 228.3h0M214.9 199.1h0M192.6 230.4h0M184.4 219.8h0M197.6 227.5h0M264.5 223h0M259.6 215.8h0M203.6 202.9h0M245.4 230.2h0M201 193.5h0M219.5 231h0M233.7 230.3h0M255.9 221.2h0M203.6 201.4h0M252.8 222.3h0M183.1 228.7h0M250.2 210.9h0M217.8 201.1h0M212.8 195.4h0M230.2 231.5h0M256.7 227.5h0M209.7 238.2h0M255.1 223.7h0M213.1 235.2h0M244.1 225h0M267 212.8h0M261 223.6h0M257.4 210.8h0M206 201.1h0M245.3 227h0M238.9 202.5h0M254.5 221.7h0M217.9 199.4h0M205.8 201.6h0M242.3 203.2h0M235.8 204.8h0M197.8 204.7h0M252.9 212h0M258.5 219.1h0M243.7 207.2h0M253.9 222.5h0M226.7 201.9h0M192.7 204.5h0M247.6 206.2h0M196.5 233h0M222.3 202.7h0M224.2 202.4h0M254 222.5h0M217.7 202.3h0M206.8 231.3h0M188.8 207.4h0M236.3 226.3h0M256.2 211.3h0M193.3 228.4h0M182.4 218.2h0M249.4 208.8h0M241.7 205.3h0M192.4 228.8h0M204.7 200.4h0M244.3 203h0M267.3 223.1h0M247.9 229.7h0M208.1 201.1h0M223.3 203.4h0M224.9 229.6h0M239.5 227.3h0M241.3 205.3h0M184.8 218.3h0M257.1 212.5h0M191.8 204.5h0M180.4 219.7h0M255.7 226h0M252.4 208.7h0M231.2 226.4h0M231.9 226.5h0M251.5 211h0M230.9 203.8h0M262.5 217.9h0M200.3 227.4h0M224.8 202.6h0M243.1 226.9h0M188.9 225.2h0M199.9 226.8h0M245 207.1h0M240.4 201h0M262.7 216.7h0M206.4 228.7h0M197.3 229.8h0M218.6 227.8h0M225.3 229.6h0M185.6 223.6h0M195.6 201.4h0M254.3 225.4h0M214.6 201.3h0M233.7 227.8h0M212.7 228.8h0M183.1 218.2h0M179.9 210.8h0M249.6 202.7h0M205 228.9h0M221.4 202.2h0M195.5 204.5h0M239.6 231.3h0M242.7 227.9h0M254.9 208.9h0M209.7 228h0M258.9 216.6h0M241.6 227.3h0M183.6 222.1h0M256.4 212.2h0M246.8 205.7h0M174.8 219.2h0M186.2 227.9h0M253.1 230.8h0M230.1 226.4h0M191.6 227.9h0M222 203.8h0M196.9 205.4h0M261.9 217.3h0M221.1 200.3h0M195.9 200.5h0M192.6 227.1h0M244.9 205.1h0M229.8 230.9h0M210.2 198.9h0M204.3 203.9h0M235.6 240.4h0M203.1 229.1h0M185.7 212.3h0M239.7 232.5h0M224.3 228.4h0M217.5 229.5h0M240.7 205.4h0M180.6 214.5h0M233.1 231.8h0M190.9 198.4h0M191.5 228.1h0M238.3 198.1h0M178.7 219.8h0M235.5 201.6h0M222.9 226.7h0M187 211.3h0M258.8 216.1h0M208.7 232.9h0M257.8 218h0M210 202.4h0M262.5 222.2h0M186.9 205.3h0M186.4 231h0M259.8 212.1h0M213 202h0M248.6 224.8h0M261.7 217.8h0M186.8 227.2h0M200.3 227.3h0M256.8 225.7h0M242.3 203.8h0M193.1 226.8h0M179.6 215.6h0M183.2 222.2h0M211.2 226.9h0M178.6 220.7h0M199.7 227.4h0M187.2 210.8h0M246.2 233.9h0M209 198.3h0M231.6 227.8h0M222.2 203.3h0M189.9 206.2h0M243.8 208h0M248.4 224.1h0M202.2 198.7h0M241 225.9h0M258.3 213.7h0M241.4 204.5h0M255.4 218.5h0M260.1 217.2h0M256.9 224.7h0M251.3 220.1h0M252 225.1h0M259 219.5h0M255 220.2h0M260 216.2h0M274.2 217.6h0M290.9 216.8h0M263.7 215h0M251.4 219.9h0M259.1 221.8h0M258.1 220.2h0M264.6 213h0M250 212.3h0M254.6 216.7h0M252.7 217.5h0M252.7 223.5h0M251.1 210.5h0M251.4 225.1h0M251.3 217.8h0M252 216.8h0M252.9 212.4h0M262.2 214.7h0M250.7 218.9h0M252 216.1h0M254.6 221.1h0M260.2 213.7h0M254.5 218.1h0M255.2 216.7h0M257.3 216.7h0M273.2 222.7h0M250.3 219.9h0M251.4 221.5h0M252.8 223.5h0M262.4 216.4h0M254.6 219.4h0M252.4 210.1h0M256 211.4h0M256.4 213.1h0M253.3 220.7h0M257.4 222.1h0M258.3 218.1h0M261.2 223.4h0M251.3 214.2h0M277.6 217.3h0M259.3 218.8h0M259.9 218.2h0M252.8 216.8h0M271.6 217.2h0M251.3 222h0M256.2 207.9h0M252 216.5h0M274.7 222.1h0M257.4 223h0M253.1 221.8h0M266.1 218.7h0M271.7 217.9h0M263.3 219h0M254.6 216.9h0M251.5 213.4h0M274 221.2h0M257.6 216.5h0M260 216.9h0M270.5 218.3h0M267.3 212.7h0M261.1 215.1h0M260.5 211.2h0M263.6 225.4h0M253.6 212.5h0M263.3 217.3h0M251.2 214.5h0M265.8 221.4h0M262.5 214.3h0M256.7 215.1h0M262.9 219.9h0M251.7 208.7h0M259.3 222h0M256.2 214h0M256.9 221h0M254.3 211h0M252.4 216.7h0M266.3 211.9h0M261.9 220h0M251.3 229.5h0M251.2 225.5h0M257.5 220.5h0M252.8 211.9h0M259.9 213.7h0M260.1 212.4h0M266.5 216.7h0M259.8 213.4h0M260.4 218.8h0M259 220h0M262.5 218.8h0M262.4 223.4h0M252.3 215.7h0M250.2 215.1h0M286.5 216.4h0M254.1 214.3h0M252 214.8h0M254.8 207.4h0M258.3 209.7h0M254.7 213h0M258 224.4h0M268.9 217.3h0M252.9 222.3h0M251.8 223.6h0M250 213.9h0M252.8 214.3h0M258.3 226.5h0M252.1 217h0M267.3 221.9h0M272.7 223.4h0M254.6 215.8h0M250.3 219.8h0M279.3 220.8h0M254.2 213.2h0M255 222.3h0M254.5 219.3h0M250.2 219h0M257.1 213.7h0M252.8 219.4h0M270.2 212.2h0M253.6 214.7h0M255.8 209.7h0M261.8 224.8h0M252.8 212.4h0M257.4 207.4h0M256.2 228.4h0M255.6 218.8h0M262.3 221.4h0M253.4 215.4h0M266.6 217.4h0M257.1 219.6h0M253.6 221.4h0M251.8 212.1h0M260 213.2h0M258.2 215.6h0M261.7 216.7h0M276.4 212.3h0M260.5 224.2h0M258.3 212.1h0M255.1 213.6h0M252.4 225.4h0M262 219.5h0M275.8 215.1h0M259.3 213.5h0M253.4 213.1h0M265.8 222.8h0M264.2 220.6h0M251.4 219.7h0M252 217.8h0M257.7 219.4h0M256 220.2h0M257.2 215h0M265.8 214.3h0M250.6 228.2h0M260.6 220.3h0M293.6 219.4h0M255 218.5h0M255.6 216.2h0M256.3 214.6h0M270.3 221.2h0M252.1 208.6h0M257.5 212.8h0M255.9 216.8h0M254.6 216.9h0M291.3 217.4h0M252.2 218.8h0M252.7 217.5h0M254.9 219.3h0M262.5 219.2h0M256.3 222.2h0M255 226.4h0M253.7 219.2h0M264.8 214.6h0M266.9 220.9h0M253.5 221.5h0M260.5 220.9h0M256.7 225h0M252.3 209.5h0M269.2 222.7h0M251.7 225.6h0M250.7 215.8h0M257.1 218h0M256.1 215.7h0M258.2 220.4h0M259.7 224h0M252.4 220.4h0M253.8 218.4h0M253.5 217.7h0M280.9 217.8h0M270.2 215.1h0M268.7 224.3h0M256.2 216.9h0M271.4 214.2h0M253.5 210.9h0M260.6 227.7h0M257.6 213.3h0M264.8 214.7h0M252.8 212.7h0M253.3 209.3h0M250.4 217.5h0M253.1 213.9h0M276.3 226.5h0M261.3 213.4h0M276.6 204.7h0M252.9 217.5h0M252.5 216.9h0M259.9 218.1h0M257.4 216.9h0M254.9 220.6h0M253 215.5h0M260.7 214.1h0M270.1 217h0M291 217.9h0M251.4 214.8h0M255.1 216.4h0M251.1 221.3h0M255.3 205.8h0M260.9 227.5h0M256.1 223.7h0M265.9 221.6h0M260.2 217.1h0M261.7 221.2h0M250.2 214.8h0M256.4 215.6h0M253.1 216.6h0M257.4 215.7h0M253.9 218.3h0M252.1 214.6h0M258.1 215.3h0M254.3 216.5h0M252.3 220.5h0M250.4 220.1h0M294.2 215.9h0M264.8 221.7h0M257.6 213.7h0M256.3 217.5h0M252 219.6h0M252.9 215.2h0M252.6 220.6h0M250.1 212h0M256.7 221h0M256.3 224.1h0M251.4 217.9h0M255.6 227.7h0M267.3 217.7h0M256 220.5h0M250 215.7h0M273.6 212.1h0M270.5 225h0M257.5 219.8h0M254.9 212.9h0M254 220.9h0M266.8 226.4h0M253.6 213.1h0M253.2 219.1h0" stroke="#f08816" stroke-width="1.4" stroke-linecap="square"/>
<path d="M199.6 228.3h0M214.3 232.3h0M242.9 225.8h0M256.8 209.8h0M260.9 215.8h0M203 196.9h0M192.1 226h0M197.1 230.7h0M219.1 199.9h0M258.5 215.4h0M240.2 205.5h0M234.3 228h0M251.4 208.8h0M221.2 228.5h0M256 225.5h0M252.7 228.5h0M179.8 215h0M259.2 213.1h0M251.8 209.2h0M191.7 226.7h0M251 211.2h0M232.4 229.8h0M247 235.4h0M233.5 226.7h0M200.6 200.1h0M211.1 202.4h0M241 227.8h0M243.5 227.3h0M229 202.7h0M221.3 198.1h0M243.3 205.8h0M187.2 211.7h0M188 226.7h0M222.5 199.8h0M254.7 211.4h0M179.3 215.9h0M244.9 224.7h0M204.4 202.5h0M207.8 203.5h0M191.1 206.8h0M223.3 230.6h0M219.4 228.2h0M193.2 206.4h0M232 203.3h0M241 226.3h0M234.9 198.8h0M190.7 230.9h0M179.5 216.1h0M252 210.9h0M226.6 233.2h0M183.3 218h0M183 214.6h0M195.6 205h0M186.5 204.5h0M228.3 228.2h0M184.2 205.7h0M258 225.7h0M239.9 205.3h0M215.2 227.6h0M254.3 211.7h0M221.8 231.5h0M198.9 200h0M210.6 201.6h0M254.5 212.1h0M186.1 211h0M212.5 229.7h0M209 202.1h0M206.2 197.2h0M182.3 226.3h0M239.5 206.3h0M199.1 228h0M228.3 227h0M259.5 230.2h0M258.9 220.4h0M192.5 206.6h0M243.3 228.9h0M207.9 226.8h0M229.4 229.9h0M257.7 213.2h0M217.1 197.4h0M251.8 211.5h0M185.2 223.2h0M252.3 209.3h0M252.8 211.2h0M258.9 215.8h0M203.3 201.5h0M230.3 226.9h0M186.3 211.3h0M257.7 213h0M256.8 227.2h0M257.9 225.2h0M246.7 207.3h0M223.6 228.6h0M193.1 226.9h0M201.7 230.3h0M204 232.6h0M244.4 224.6h0M238.4 226.6h0M182.1 219.6h0M183.8 223.6h0M245.7 207.8h0M212.7 226.8h0M229.7 231.2h0M253.8 209.2h0M264 203.9h0M217.9 202.6h0M243.6 225.1h0M193.7 205.3h0M245.7 208.7h0M191.2 207.9h0M260.3 210.6h0M191 207.5h0M240 202.6h0M255.2 211.9h0M205.3 227.4h0M201.1 227.3h0M213.5 227.8h0M245.9 205.7h0M242.1 232.1h0M203.1 227.4h0M225.2 203.5h0M200 227.8h0M217.2 231.9h0M180.5 222.8h0M263 212.8h0M259.7 223.9h0M253.2 203.2h0M258.5 222.6h0M195.3 232.8h0M180.8 211.3h0M264 218.8h0M249.1 204.3h0M248 225.1h0M248.7 225.3h0M253.5 217.4h0M269.6 217.7h0M268.9 220h0M301 223.9h0M252.9 216.9h0M268.2 220.8h0M253.8 217.6h0M283.4 219h0M256.7 218.2h0M284.5 220.4h0M262.9 222h0M264.2 223.1h0M254.5 213.4h0M257.2 214.6h0M274.3 223.8h0M251.5 215.5h0M249.3 207.5h0M257 209.7h0M253.7 224h0M271 218.8h0M254 223.3h0M256.3 216.3h0M252.9 221.6h0M262.9 216.5h0M258.6 216.4h0M250.8 212.6h0M248.9 213h0M252.4 231h0M255.9 220.1h0M255.9 222.5h0M260.8 218h0M250.7 218.4h0M261.7 207.8h0M261.1 213.7h0M254.5 215.8h0M255.3 217.1h0M304.6 223.7h0M248.7 216.3h0M259.7 220.3h0M250.4 220.7h0M253 213.2h0M256.7 215.2h0M251.1 216.1h0M255.9 225.3h0M253.1 218.3h0M265.3 227.3h0M251.9 221.9h0M250.6 222.3h0M252.6 216.8h0M256.3 221.4h0M252.5 219.2h0M256.7 211.8h0M251.8 221.2h0M250.9 211.7h0M256.6 212h0M266.7 215h0M253.9 222.8h0M257.2 222h0M248.4 220.5h0" stroke="#e94e30" stroke-width="1.3" stroke-linecap="square"/>
<path d="M245.2 192.7h0M240.6 195.6h0M249.1 194.6h0M250.5 202.8h0M247.4 192.5h0M254.3 195.8h0M245.5 198.7h0M244.6 192.6h0M239.5 201.6h0M250.3 200.6h0M244.4 203.3h0M254.8 196.1h0M248.4 204.9h0M248.1 195h0M259.6 197.8h0M257.8 200.4h0M249.3 196.5h0M253.3 194.9h0M247.2 197.2h0M254.2 205.9h0M242.6 203h0M267.6 197.8h0M242.5 198.8h0M254.2 203.3h0M243.9 196.9h0M231.2 196.6h0M257.4 196.5h0M248.8 207.3h0M259.2 195.5h0M249.7 198.5h0M248.5 198.2h0M243.5 200.6h0M243.6 202.8h0M255.6 193.8h0M255.3 202.9h0M261.2 193.2h0M255.8 195.9h0M246.3 203.5h0M252.8 200.7h0M253.7 199.6h0M243.2 197.5h0M258.9 199.8h0M270.6 206h0M246.6 201.8h0M274.3 223.9h0M267.7 213.6h0M266 198.1h0M264.4 209.3h0M271.4 220.4h0M276.2 226.2h0M266.2 209.5h0M283.3 207.2h0M276.9 216.3h0M280 214.7h0M285.9 188.6h0M274.2 222.7h0M287.4 227.8h0M274.9 218.6h0M262 208.4h0M259.8 221.5h0M262.7 224.1h0M281.3 207.1h0M276.9 205.7h0M276.5 226.6h0M262.3 221h0M275.2 211.6h0M261.4 208.1h0M288.2 222.8h0M285 216.6h0M263 210.6h0M281.9 216.1h0M261.8 219.4h0M272.6 220.8h0M276.5 217.6h0M280.5 217.5h0M283.5 223.3h0M280.9 216.7h0M267.4 233.5h0M243.5 232.3h0M244.6 229.3h0M238.6 232.8h0M258 229h0M247 230.6h0M265.8 228h0M243.1 230.4h0M321.4 204.3h0M280.9 221.2h0M317.8 199.2h0M342 179.1h0M354.1 182h0M286.3 206h0M306.6 224.4h0M330 202.8h0M282.4 219.1h0M289.1 214.5h0M306.3 205.5h0M315.6 213.8h0M299.3 213.4h0M288.5 196.5h0M283.9 228.7h0M301.4 234.5h0M366.7 196.3h0M282.7 200.5h0M356.8 183h0M288.2 225.4h0M282.9 204.7h0M295.1 234.8h0M303.5 189.1h0M347.9 179.6h0M298.6 208.1h0M362.8 167.1h0M344.7 178.6h0M300.5 205.2h0M317.4 191.1h0M306.1 203.3h0M308.2 229.7h0M287.7 235.1h0M378.4 197h0M370.9 200h0M289.6 217.3h0M320.3 204.4h0M285.8 221.1h0M288.2 198.3h0M330.2 207.7h0M290.8 191.8h0M344.4 195.9h0M291.1 211h0M349.3 179.1h0M275.9 214.9h0M277.1 228.4h0M280.2 196.5h0M344 195.9h0M314 192.8h0M358.5 202.4h0M351.4 175.6h0M299.5 214.5h0M301 202h0M315.3 212.8h0M283.7 211.9h0M342 223.1h0M297.3 215.1h0M327.9 178.6h0M304.6 225.9h0M302.3 195.3h0M339 204h0M280.9 224.7h0M317.7 198.9h0M351 208h0M320.8 194.9h0M324.2 207.9h0M317.7 212.2h0M344.4 193.5h0M384.1 175.8h0M297.6 226.2h0M276.4 204.7h0M357.3 201.1h0M334.2 190h0M295.2 209.7h0M384.7 149.8h0M313.9 194.6h0M289.1 214h0M344.8 206.7h0M293.9 220.6h0M326.4 191.9h0M282.8 216.9h0M343.6 183.7h0M297.1 221.3h0M298.8 196.4h0M280.4 223.3h0M280.3 229.6h0M296.1 207.6h0M280.5 227.6h0M358.9 200.3h0M303.6 195h0M329 218.5h0M325.5 227.2h0M339.6 193.8h0M281 212.9h0M322.4 214.4h0M284.4 216.4h0M305.1 205.5h0M301.4 178.1h0M337.1 199.8h0M363.7 180h0M300.2 220.7h0M337.4 190.1h0M383 186.7h0M312.5 195.2h0M318.4 201.1h0M318.7 228.2h0M309.5 214.8h0M301.9 215h0M377.6 165.9h0M344.9 165h0M339.4 183.2h0M356.4 211.3h0M268.4 230.6h0M264.3 199.8h0" stroke="#2aa6c9" stroke-width="1.4" stroke-linecap="square"/>
<path d="M247.5 300.7h0M277.9 289.8h0M253.3 303.6h0M259.9 305.8h0M253.2 312.6h0M267.1 297.5h0M267 310.3h0M263.1 325.7h0M258.4 329.6h0M267.5 313.5h0M249.7 298.8h0M256.1 298.2h0M235.9 302.1h0M261.9 317.4h0M244.8 291.4h0M270.4 309.3h0M257.3 313.9h0M247 311.1h0M256 312h0M249.3 309.1h0M262.5 328.2h0M256.8 299.2h0M260.3 322.7h0M259 320.4h0M249.7 314.1h0M260.2 307.8h0M264 313.8h0M261.3 320.6h0M258.2 311.9h0M259.1 314.4h0M266.7 317.4h0M243.3 306.7h0M263.7 300.1h0M248.2 279.3h0M261.6 311.1h0M262.7 309.8h0M260.2 311.5h0M258 315.6h0M255.4 303.3h0M267.2 313.5h0M239.1 298.3h0M261.6 313.7h0M259.4 306.2h0M275.4 312h0M252.6 300.2h0M260.1 298.2h0M266.1 293.9h0M250.7 301.3h0M252.1 305.7h0M266 317.5h0M262.7 312.3h0M259.3 315.1h0M266.1 309.8h0M254.3 323.1h0M253.8 308.1h0M253.7 318.5h0M258.5 321.6h0M263.9 303.6h0M256.3 314.4h0M257.8 285.4h0M263.2 311.6h0M260.9 306.1h0M254.1 287.4h0M246.6 300.2h0M261.5 307.8h0M257.2 323.2h0M246.9 308.2h0M269 293.8h0M272.2 302.3h0M249 301.7h0M259.7 301.7h0M256.2 288h0M258.1 295h0M262.3 322.6h0M262 323.7h0M250.2 303.7h0M265.7 306.7h0M279.5 306.8h0M277 304h0M260.3 304.6h0M273.6 302.3h0M256.9 322.2h0M236.8 311.3h0M264.6 309.5h0M244.2 300.3h0M255.9 311.9h0M270.4 311.3h0M258.2 318.5h0M253.3 319.1h0M260 294.1h0M246.4 304.6h0M245.8 275.5h0M248.5 309.8h0M258.1 300.1h0M262.3 297.4h0M254.8 313h0M280.2 314.5h0M249.2 309.9h0M258.1 310.4h0M256.7 308.5h0M243.4 301.8h0M270.8 313.8h0M268.8 308.8h0M250.9 311.2h0M255.9 304.7h0M256.7 301.8h0M263.6 330.5h0M277 321.7h0M270.5 320.3h0M286.8 324h0M258.3 319.5h0M282.2 321.4h0M274.4 329.7h0M285 321.8h0M278 325.3h0M290.7 325.5h0M265.7 310.7h0M260 318.7h0M261.4 325.9h0M288.6 325.2h0M272.6 326.4h0M261 312.2h0M279.6 326.3h0M278.2 319.7h0M269.8 318h0M280.2 330.3h0M264.6 328.8h0M289.7 324.3h0M259.9 320h0M275.3 324.5h0M268.3 322.7h0M282.3 331h0M270.7 315h0M290.8 325.7h0M284.2 312.1h0M258.6 325.4h0M267.9 322.4h0M261.2 317.8h0M287.2 308.5h0M271.9 319.7h0M273.4 311.4h0M277.3 319.1h0M291.2 323.5h0M282.5 327.1h0M282.9 327.1h0M291.2 317.9h0M265.2 330h0M267.8 318.2h0M287.1 327.6h0M267.8 328.4h0M279.5 323.2h0M274 320.2h0M263 328.5h0M278 318.1h0M268.8 328.7h0M263.5 309.6h0M275.7 326.5h0M279.6 322.9h0M281.1 317.8h0M289.9 321.7h0M282.7 318.9h0M289.6 325.2h0M289.7 323.7h0M280.7 323h0M270.8 317.3h0M266.5 314.8h0M271.3 325.1h0M272.4 329.5h0M261.6 325.9h0M286.8 313.8h0M287.2 329.5h0M275.6 318.9h0M275.7 323.5h0M280.6 327.3h0M265 340.3h0M274.7 325.4h0M290 330.2h0M260.2 316.4h0M290.2 325h0M271.6 335.9h0M273.1 326.6h0M269.9 314.6h0M270.3 329.7h0M291 325.2h0M282.6 316.9h0M348.3 298.1h0M300.2 306.8h0M335.4 310h0M298.5 336.7h0M296.2 326.2h0M275.4 329.7h0M312.7 321.9h0M318.7 319.9h0M323.3 310.5h0M289.3 310.5h0M307.5 322.8h0M283.8 314.7h0M290.7 319.9h0M340.1 295.7h0M328.6 317.8h0M382.8 317.9h0M325.8 336.3h0M370.5 290.6h0M297.5 320.5h0M327.3 326h0M379.1 274.7h0M306 310h0M303.4 300.7h0M313.7 305.9h0M325 310.7h0M281.3 321.8h0M384.6 289.4h0M322.1 316.6h0M366 307.9h0M276.7 329h0M297.1 314.4h0M321.1 325.8h0M317.4 309.5h0M378.6 323.7h0M328.1 317.6h0M294.7 312.6h0M282 321.6h0M346.2 315.2h0M305.6 307.2h0M310.6 327.7h0M285.6 319.7h0M334.4 300.7h0M289.6 328h0M287.1 326.5h0M322.5 317.8h0M373.1 265.4h0M305.3 313.1h0M283.7 314.6h0M305.6 310.3h0M314.5 320.9h0M293.4 323h0M283 322.4h0M327.1 318h0M290.4 322.5h0M328.1 324h0M302.3 319.6h0M327.3 289.9h0M282.8 311h0M302.4 330.5h0M379.1 287.3h0M317.6 305.7h0M315.8 319.9h0M292.3 321.8h0M370.1 300.8h0M347.2 316.8h0M317.2 305.7h0M294.3 300.8h0M306.2 316.6h0M322.3 321.3h0M288.6 323.1h0M373.7 289.4h0M295 322.8h0M281.8 317.9h0M290.9 327.3h0M283.9 322.5h0M286.3 314.7h0M330.7 318.5h0M311 310.7h0M281.4 312.1h0M295.4 342.6h0M294.1 319.5h0M332.4 299.5h0M298.3 314.3h0M321 339.2h0M322.5 318.6h0M303.4 302.1h0M315.7 297.9h0M310 315.7h0M332.5 310.1h0M378.1 292h0M278.2 324.9h0M296.1 324.4h0M353.7 322.7h0M310.6 335.6h0M289.6 299h0M297.4 320.2h0M348.7 291.9h0M308.4 323.9h0M333 311.9h0M300.2 315.5h0M295.9 318.1h0M293.3 319h0M327.5 313.3h0M281 335.7h0M311.7 312.6h0M281.6 315.8h0M356.9 303.4h0M321 308.6h0M303.7 319.4h0M337 297.3h0M278.8 318.5h0M293.4 314.6h0M277.9 319.7h0M335.9 293.7h0M299.8 326.2h0M299.1 319.6h0M348.3 292.4h0M298.8 312.9h0M345.4 317.1h0M326.3 325.1h0M285.5 328.6h0M312.9 316.1h0M309.8 319.8h0M353.6 323.3h0M298 314.3h0M287.7 306.1h0M346.2 337.8h0M336 309.4h0M323.5 290.9h0M286.5 309.5h0M342.2 322.3h0M290.9 311.7h0M279.4 323.8h0M352.2 300.9h0M312.2 304.5h0M318.2 296.6h0M369.6 293.4h0M315.4 312h0M298.2 320.9h0M285.9 318.8h0M298.3 309.3h0M357.6 303.9h0M301.2 310.2h0M288 327.9h0M291.9 334.8h0M346.5 299.3h0M329.7 308.3h0M365.2 315.4h0M296.7 307h0M353.8 301.7h0M283 329h0M292 309.3h0M276.9 321.3h0M383.2 290.4h0M380.4 329.3h0M304.2 306.2h0M301.3 319.3h0M337.8 323h0M319.5 316.7h0M294.6 334.8h0M347.1 318.8h0M324.7 301.8h0M291.9 317.9h0M293.8 325.1h0M295.7 298.5h0M307.5 318.9h0M309.9 316.5h0M323 287.6h0M357.6 310.1h0M340.5 275h0M300.9 308.4h0M369.5 308.9h0M311 321.7h0M321.2 322.3h0M337 298.9h0M329.1 278.6h0M286.9 326.3h0M290.1 288.9h0M344.5 304h0M374.9 298.8h0M316.2 273.9h0M338.3 318.3h0M352.9 295.3h0M327 320.2h0M380 314h0M342.4 284.3h0M293.7 334h0M369.9 306.5h0M367.8 323.1h0M335.1 312.1h0M288.1 331.2h0M301.3 276.7h0M377.3 284.3h0M302.4 297.5h0M360 270.9h0M383.1 269.8h0M304.9 299.9h0M380.3 304.1h0M357.2 312.6h0M314.2 330.1h0M370.2 318.9h0M343.3 322.8h0M326.3 286.6h0M323.5 298h0M380.6 304.5h0M332.6 281.6h0M358 300.7h0M333.9 279.3h0M334.6 289.6h0M358.4 302.1h0M359.9 287.5h0M364.3 297.5h0M360.1 303.8h0M323.4 296.2h0M365.2 281.3h0M382 277.4h0M362.7 290.7h0M346.6 275.3h0M340 276.2h0M363.8 284h0M323.2 290.4h0M379.6 282h0M382.1 291h0M275.7 329.1h0M267.6 314.1h0M250.3 329.4h0M254.1 301.1h0M235 304.5h0M251.6 333.3h0M262.5 324.1h0M270.2 291.4h0M256.1 321.8h0M249 305.2h0M252.5 330.2h0M247.6 307.4h0M268 299.4h0M236.8 295.8h0M233 285.3h0" stroke="#2aa6c9" stroke-width="1.4" stroke-linecap="square"/>
<path d="M185 317 L186.7 315.3 L188.3 313.7 L190 312 L191.7 311.2 L193.3 310.3 L195 309.5 L196.7 308.7 L198.3 308 L200 307.8 L201.7 307.7 L203.3 307.6 L205 307.4 L206.7 307.3 L208.3 307.1 L210 307 L211.7 307.2 L213.3 307.5 L215 307.7 L216.7 307.9 L218.3 308.2 L220 308.4 L221.7 308.6 L223.3 308.9 L225 309.1 L226.7 309.3 L228.3 309.6 L230 310.2 L231.7 310.7 L233.3 311.3 L235 311.8 L236.7 312.4 L238.3 312.9 L240 313.5 L241.7 314.2 L243.3 315 L245 315.8 L246.7 316.5 L248.3 317.2 L250 318 L250 324 L248.3 324.5 L246.7 325 L245 325.5 L243.3 326 L241.7 326.5 L240 327 L238.3 327.2 L236.7 327.4 L235 327.6 L233.3 327.8 L231.7 328 L230 328.2 L228.3 328.5 L226.7 328.5 L225 328.6 L223.3 328.6 L221.7 328.7 L220 328.7 L218.3 328.8 L216.7 328.8 L215 328.9 L213.3 328.9 L211.7 329 L210 329 L208.3 329 L206.7 329 L205 329 L203.3 329 L201.7 329 L200 329 L198.3 329 L196.7 328.9 L195 328.8 L193.3 328.7 L191.7 328.6 L190 328.5 L188.3 327.8 L186.7 327.2 L185 326.5Z" fill="#f08816"/>
<path d="M220.9 309.3h0M230 330.4h0M243 315.6h0M244.1 327.6h0M222.9 327.7h0M232.9 328.7h0M218.5 308.5h0M250.3 319.1h0M185.7 328h0M243.8 325.6h0M187.9 313.6h0M249.5 321.1h0M239.1 327.4h0M250.6 317.7h0M187.9 311.1h0M250.2 321.6h0M246.9 325.5h0M203.8 329.5h0M180.4 320.2h0M213.2 308.2h0M243.7 314.6h0M242.2 326.7h0M236.4 326.6h0M197.9 307.9h0M249.7 316.8h0M225.4 308h0M224.6 309.1h0M249.7 323.5h0M210.8 331.7h0M222.3 327.9h0M242.8 314.5h0M230.8 309.6h0M241.6 311.4h0M191.3 331.6h0M247 314.7h0M210 331h0M207.6 307.4h0M190.4 328.3h0M249.5 323.8h0M216.1 328.6h0M192.8 328.1h0M251.9 320h0M236.7 311.6h0M235.1 311.9h0M248.2 314.8h0M193.5 309.6h0M188 328h0M239.4 313.6h0M215.8 331h0M237.1 313h0M250 320.4h0M246.6 325.5h0M249.6 326.1h0M231.6 327.9h0M243 326.4h0M200.6 328.3h0M249.1 321.4h0M210.1 306h0M246.3 315.6h0M185.4 325.9h0M249.5 319.5h0M235.3 311.3h0M249.9 321.3h0M250 318.5h0M249.8 320.2h0M186.9 315.2h0M249.1 318.3h0M215.8 308.2h0M251.8 321.3h0M188.1 327.2h0M189.5 328.5h0M239.3 311.7h0M249.3 321.3h0M200.3 307.4h0M205.7 328.3h0M236.5 313.2h0M225.1 328.1h0M251.3 319.8h0M207.1 329.6h0M242.2 315h0M214 330.7h0M202.1 330.4h0M198.6 308.9h0M186.5 326.9h0M185.2 322.9h0M215.4 328h0M237.1 329h0M237.1 313.5h0M222.5 307.8h0M240.8 326.6h0M189.3 309.8h0M184.5 323.6h0M219.6 307.8h0M213.4 307.5h0M250.4 323.2h0M186.5 326.8h0M217.3 308.2h0M202 329.4h0M239.3 326.7h0M196.5 330.1h0M210.9 328.2h0M249.7 324.6h0M191.4 311h0M243.2 327.6h0M184.3 323.1h0M185.3 324.9h0M205.7 306.6h0M239.1 314h0M204.8 307.7h0M222.1 328.7h0M254.7 320.5h0M199 330.1h0M238.1 326.3h0M230.1 328.3h0M249.9 319.9h0M190.5 312.7h0M183.8 322.8h0M184.1 320.9h0M249 316.7h0M215.8 329.4h0M217.6 308.8h0M185.6 320h0M249.7 317.2h0M245.8 316.5h0M223.1 309.4h0M190.4 328.1h0M189.3 327.7h0M215.2 307.1h0M243.7 314.7h0M237.6 328.3h0M203.9 328.6h0M228 328.6h0M201.3 306h0M243.6 316h0M245.9 315h0M196.1 328h0M184.7 317.1h0M250.3 321.9h0M245.2 324.5h0M251.7 322.1h0M217.2 329.5h0M188.5 313.5h0M247.8 323.8h0M227.5 330.3h0M201.7 328.3h0M224.9 329.1h0M208.2 306.7h0M219.9 307.9h0M229.6 329.3h0M249 314.8h0M245.9 325.9h0M207.1 305.8h0M221.1 328h0M228.7 327.6h0M185.5 320.7h0M237.6 327.8h0M248.1 325.5h0M251.5 318h0M184.5 322.1h0M227 309.7h0M233.3 327.4h0M247.4 315.9h0M187.1 326.5h0M191.5 327.9h0M200.9 306.5h0M233.2 311.9h0M246.3 315.5h0M188.7 328.8h0M203.8 330.9h0M236.2 327.1h0M183.2 315h0M223.8 330.4h0M200 329h0M223.5 328.1h0M205.6 328h0M250.5 321.9h0M237.5 312.6h0M185.4 321.3h0M244.1 325.5h0M244.9 327h0M229.8 328.2h0M205.7 329.1h0M185.4 314.6h0M218.8 327.9h0M248.1 318h0M196.3 307.7h0M193.8 310.1h0M195.9 308.9h0M195.8 328.8h0M232.1 310.6h0M211.5 330.3h0M242.2 314h0M227.4 309.5h0M242.7 315.4h0M231.5 310.2h0M184 316.5h0M190.7 327.9h0M245.4 315.4h0M206 329.1h0M233.7 328h0M185.2 324.1h0M237.2 326.4h0M216.4 328h0M211.6 307.4h0M227.5 307.9h0M235.4 311.6h0M240.5 327.2h0M225.6 309.5h0M234.8 326.8h0M194.6 310.2h0M223.9 327.7h0M185 316.9h0M185.4 320.7h0M208.9 307.3h0M203.5 308.4h0M226.9 309.9h0M235.5 329.1h0M203.6 307.8h0M234.8 330.3h0M190.6 328.1h0M243.8 328.5h0M196.2 309.2h0M193.5 311.2h0M232.2 327.9h0M203.3 329.2h0M241.4 311.9h0M213.5 305.5h0M251.3 321.2h0M251.8 323.1h0M233.6 327.9h0M247.5 324.6h0M241.7 313.4h0M201.1 329.1h0M217 328.9h0M192.5 327.7h0M251.2 325.2h0M193.5 328.8h0M239.7 327.5h0M228.3 310.4h0M228.1 328.1h0M244.2 325.2h0M231.8 311.6h0M185.5 320.1h0M251.7 320.2h0M188.8 312.5h0M185.9 322.3h0M191.6 311.9h0M217.2 328.4h0M225.7 330.2h0M235.4 326.8h0M249.2 321.7h0M195.2 310h0M226.6 309.5h0M184.2 320.6h0M251.4 320.5h0M223.6 308.1h0M248.9 316.3h0M247.6 317.3h0M239 327.5h0M232.5 310.9h0M237.4 326.5h0M220.7 308.9h0M234.1 310.4h0M233 327.5h0M213.4 308.4h0M251.2 326.9h0M223.9 328.2h0M232.6 329h0M249.2 322.5h0M229.2 329.2h0M182.1 326.2h0M245.3 324.5h0M238.1 311.9h0M249.3 317.5h0M185.9 314.7h0M195.2 307.8h0M210.1 328.9h0M226.7 328.1h0M248.2 325.5h0M192.8 310.6h0M190.3 311.3h0M184.3 324.6h0M252.7 316.5h0M192.5 310.3h0M227.3 307.1h0M182.9 322.2h0M210.3 306.2h0M229.5 330.6h0M204 306.9h0M190 312.6h0M200.3 328.1h0M183.5 318.7h0M208.1 328.4h0M236.3 309.7h0M232.2 308.6h0M241 325.9h0M218.1 308.8h0M198.2 308.8h0M202.3 307.9h0M191.6 328.5h0M195.9 308.9h0M203.3 328.2h0M245.1 316.2h0M242.4 314.6h0M224.8 308.6h0M180.9 322h0M221.1 308.9h0M249.4 321.5h0M196.8 309.2h0M230.3 310.2h0M244.2 325.4h0M208.8 328.6h0M206.2 307.8h0M213.3 306h0M249.9 323.2h0M240.1 328.9h0M183.3 320.3h0M215 328.7h0M190.9 327.6h0M205.8 328.3h0M198.2 328.7h0M252.4 319.2h0M238 312.6h0M236.5 326.6h0M251.5 319h0M200.9 330.7h0M223.3 308.1h0M229.8 306.6h0M201.1 307.5h0M185.2 324.1h0M186.6 315.4h0M209 305h0M223.8 328.2h0M206.2 328.5h0M202.2 307.7h0M224.4 309.9h0M184.7 318.3h0M192.4 310.6h0M204.2 330.2h0M247.6 317.7h0M212.8 329.1h0M241.1 327.7h0M248.4 325.7h0M184.3 326.3h0M197.3 331.1h0M209.6 330.5h0M245.7 325.7h0M235.5 312.2h0M205.1 307.3h0M249.9 322.6h0M188.4 314.4h0M184.3 318.5h0M201.7 329.2h0M249 321.3h0M191.6 310.9h0M249.2 324.3h0M221.6 328.7h0M246.9 316.8h0M202.8 306.6h0M209.2 328.5h0M198.9 307.7h0M229.4 310.4h0M185.8 316.3h0M250.1 316.4h0M208.7 328.5h0M252.5 325.8h0M218.2 330.9h0M217.7 308.7h0M185.5 326.1h0M243.8 314.8h0M254.2 324.9h0M207.5 330.9h0M229.3 310.9h0M252.5 324.4h0M185.7 317h0M225.5 306.3h0M244.7 325h0M250.7 319.4h0M223.4 309.1h0M211.3 328.7h0M249.9 326.4h0M242.1 313.8h0M248.4 317.6h0M249.3 322.8h0M241.4 312.8h0M219.9 306.9h0M190.4 309.7h0M187.5 314.7h0M249.1 322.7h0M189.3 330.2h0M193.6 308.9h0M185.2 320.4h0M186.3 316.5h0M220.3 328.5h0M186.8 312.8h0M183 319.2h0M246.8 324.7h0M185.8 322.8h0M185.4 319h0M232.3 311.1h0M204.7 331.6h0M249.5 318.3h0M220.8 309.3h0M193.8 309.6h0M250 322.3h0M214.4 308.5h0M241.7 312.5h0M254.2 321.3h0M188.5 328.7h0M250.4 324h0M211.2 328.5h0M223.6 331.6h0M243.4 325.1h0M240.6 314.2h0M250.4 321.3h0M223.7 308h0M240.9 314h0M232.6 327h0M210.9 307.5h0M190.9 328.7h0M251.9 320.4h0M249.8 325.4h0M210.9 329.1h0M188.2 326.9h0M248.1 325h0M214.5 328.6h0M186.8 327.1h0M240.1 326.7h0M202.2 328.9h0M189.3 312.8h0M192.8 308.2h0M217.8 328.9h0M186.5 326.4h0M183.9 326.6h0M202.5 329.4h0M219.6 308.1h0M213.9 305.8h0M249.9 324.2h0M249.4 322h0M214.2 307.7h0M232.7 327.1h0M245.1 314.6h0M237.7 327.5h0M185.1 318.7h0M185.4 323.4h0M250.3 317.6h0M239.4 314.1h0M185.8 319h0M198.7 328.9h0M244 325.5h0M249.5 316.7h0M245.9 324.8h0M182.6 319.2h0M250.2 322.7h0M189.6 328.2h0M202.4 306.6h0M181.7 325h0M221.2 308.4h0M220.5 329.5h0M247.1 325.7h0M243 327.1h0M237 312.3h0M243.7 312.5h0M214.9 328h0M182.4 320.9h0M239 313.8h0M189.7 311.3h0M220.5 308.7h0M243.4 327.6h0M236.3 312.2h0M234.5 311.9h0M185.5 317.8h0M232.6 310.6h0M236.9 311.1h0M248.6 325.2h0M203.1 308.2h0M245.7 325.5h0M184.9 324.2h0M246.9 324.5h0M185.2 319.8h0M205.9 328.5h0M247.8 324.1h0M213.5 306.3h0M196.5 309.8h0M232.7 327.2h0M230.6 328.4h0M232.7 311.2h0M232.5 327.1h0M213.9 304.7h0M249.5 316.3h0M213.5 307.6h0M224.6 308.7h0M188.8 311.5h0M245.4 314.8h0M240.3 313.4h0M240.2 326.8h0M226.6 327.8h0M185.9 312h0M204.7 306.3h0M241.4 314.2h0M240.6 314.8h0M222.2 329.1h0M251.7 321h0M236.7 311.9h0M249.8 319.1h0M186 323.6h0M179 316.7h0M191.5 329.2h0M185.6 325.3h0M193.8 328h0M183.3 324.8h0M186.1 313.4h0M247 316.8h0M250.6 316.5h0M239 326.5h0M194.7 328.3h0M243.6 315.7h0M250.8 320.3h0M191.8 328h0M231 309.6h0M245.1 325.3h0M249.9 321.1h0M234.1 328.7h0M249.2 319.5h0M183.9 323.2h0M228.8 327.9h0M183.5 328.6h0M195 330.1h0M233.8 327.6h0M227.9 328.6h0M212.2 307.4h0M222.7 308.7h0M248.2 323.7h0M252.6 319.3h0M185.9 321.3h0M217.8 307.3h0M199 329h0M184.9 314.5h0M251 320.6h0M212.4 308.1h0M197.2 308.6h0M238 312.5h0M197.7 306.7h0M251.7 323h0M192 310.9h0M185.5 327.4h0M246.6 324.1h0M184.9 327.1h0M249.2 320.8h0M185.5 323.1h0M204.3 328.7h0M250.4 317h0M222.1 309.6h0M210.5 330.3h0M252.2 318.9h0M223.5 308.6h0M217.2 329.9h0M246.5 324.2h0M251.3 321.3h0M185.1 317.2h0M203 328.4h0M204 328.9h0M244.5 325.4h0M252.2 319.7h0M247.8 324.7h0M224.3 308.1h0M245 316h0M185.7 321.8h0M241.5 312.2h0M207.1 331.5h0M251.2 324h0M240 313.8h0M226.7 327.9h0M213.3 306.7h0M183.9 322.8h0M195 328.1h0M220 327.8h0M192.5 328.7h0M215.9 330.3h0M227.3 328.6h0M242.9 315.7h0M243.9 325.3h0M217.3 308.5h0M210.4 328.7h0M243.7 315.7h0M189 313.2h0M202.5 308.2h0M232.4 328.4h0M242.5 315.2h0M217.5 308.7h0M216.7 307.9h0M236.2 312.6h0M183.9 321.4h0M241.3 327.3h0M239.5 312.8h0M189.2 313.7h0M225 328.8h0M247.1 317.6h0M250 317.4h0M249.5 315.9h0M231.2 328.6h0M250.4 322.9h0M182.3 319.9h0M197.4 328h0M252.3 322.2h0M202.3 329h0M231.5 310.6h0M190.7 312.5h0M241.3 314.8h0M231.5 331h0M248.6 326.5h0M211.1 304.9h0M220.4 307.7h0M237.2 313.4h0M219.5 307.7h0M186.9 327.1h0M220.4 308.3h0M211.1 328.2h0M213.8 330.3h0M213.4 328h0M235.6 328.2h0M251.5 319h0M190.8 327.6h0M231.8 311.2h0M232.6 311.5h0M249.7 318.5h0M184.5 323h0M229.7 310.8h0M211.2 329h0M239.8 313.2h0M235.3 312.5h0M213.4 308h0M233.3 327.1h0M250 320.9h0M249.7 321.7h0M189 313.6h0M207.7 307.2h0M225.2 307.6h0M217.1 327.8h0M187 312.1h0M238.2 312.3h0M185.7 321.6h0M210.4 329h0M187 315.5h0M204.6 308.4h0M206.6 307h0M248.8 317.1h0M251.1 322.7h0M190 309.9h0M185.6 316.3h0M201.6 305.2h0M250.4 312.9h0M249.5 318.9h0M184.9 320.8h0M235.1 309.3h0M215.1 306.5h0M202.5 329.1h0M215.2 307.9h0M243.9 314.5h0M235.7 327.4h0M218 328.2h0M241 314.2h0M218.5 308.7h0M190.3 311.4h0M233.1 311.2h0M184.2 323.2h0M197.7 307.8h0M247.6 323.7h0M249.8 319.8h0M250.9 317.4h0M183.6 324.2h0M250.2 317.1h0M230.2 328.5h0M250.9 321.8h0M190.2 327.9h0M244.2 315.8h0M221.7 306.6h0M212 308h0M184.4 321.7h0M224 328.7h0M197.8 306.5h0M185.8 324.4h0M250.7 319.7h0M238.8 328h0M237.2 326.5h0M211.6 307.8h0M212.6 328.7h0M234 326.8h0M185 319.6h0M251 325.6h0M199.5 332.9h0M242.7 328.4h0M226 329.4h0M248.2 323.6h0M215.2 307.7h0M234.8 327.7h0M251.4 319.9h0M195.4 328.2h0M194.5 309h0M247.8 324.6h0M250.6 317.5h0M204.7 328.8h0M246.8 317.4h0M238.5 313.8h0M243.8 326.3h0M219.2 308.6h0M187.3 326.7h0M185.5 317h0M236.7 326.7h0M192.4 331.1h0M243 311.6h0M192.9 329.3h0M216 308.5h0M250 323.8h0M239.1 313.9h0M184.2 329.7h0M211.9 330h0M190.9 311h0M243.4 316h0M196.5 328h0M242.4 326.7h0M244.8 315.9h0M185.9 319.6h0M238.4 327.3h0M223.4 330.6h0M244.7 316.6h0M210 307.5h0M237 312.4h0M236.9 328h0M197.1 332.3h0M184.5 324.8h0M210.8 330.1h0M226.2 308.5h0M188.9 327.8h0M221.7 329.6h0M228.1 328.6h0M227 310.3h0M193 309.5h0M200.6 308.7h0M205.5 304.8h0M250.2 318.3h0M206 329.5h0M203.4 330.5h0M191.7 309.8h0M194.3 310.5h0M227.4 307.2h0M250.5 319.4h0M183.4 320h0M246.1 316.1h0M230.7 329h0M202.2 329.4h0M247.6 317h0M235.3 327.6h0M250 324.2h0M190.2 310.8h0M196.6 309.2h0M242.2 326.4h0M250.6 318.5h0M208.9 333.1h0M248.1 324.3h0M183.9 315h0M226.1 328h0M186.3 328.5h0M249.6 321.2h0M200.8 308h0M192.1 327.9h0M228.3 309.3h0M239.3 312.2h0M212.7 306.4h0M251.9 322.2h0M250.9 318.5h0M192 328.7h0M240 313.2h0M197.8 309h0M199.3 328.1h0M231.6 327.4h0M243.4 315.4h0M206.2 330.4h0M219.8 327.8h0M245.1 314.5h0M184.6 320.7h0M184 318.9h0M247.3 317.2h0M237.2 327.9h0M227.7 309.2h0M209.7 307.8h0M249.5 320h0M238.1 327.2h0M187.9 313.6h0M200.9 307.1h0M192.1 328.3h0M215.9 307.8h0M190.8 328.3h0M248.5 323.6h0M197.4 328.7h0M250 319.2h0M214.1 328.5h0M221.7 307.2h0M231.4 308h0M187.5 314.1h0M246.4 326.3h0M189.4 330.2h0M226.6 310.3h0M184.1 326.4h0M213.8 307.8h0M217.8 308h0M219.7 308.2h0M239.7 328.5h0M193.5 328.6h0M201.1 329.6h0M236.8 313h0M189.7 312.9h0M241.5 325.9h0M205.5 308h0M184.5 317.8h0M191.1 311.3h0M249.2 315h0M247.4 324h0M185.6 313.2h0M213.5 329h0M239.2 312.1h0M235 326.9h0M249.7 324.9h0M227.5 327.6h0M202.5 329.3h0M201.7 328.1h0M240.1 313.9h0M191.4 311h0M227.6 328.3h0M198.1 328.3h0M208 305.6h0M202.1 307.9h0M192 310.7h0M234.1 312.2h0M185.5 321.8h0M192.6 330.7h0M191.8 328.3h0M191.3 310.5h0M214.1 328.4h0M224.6 309.8h0M186.8 327.6h0M185.2 325.6h0M240.2 326.2h0M203 307.8h0M245.4 316.3h0M182.1 322.7h0M220.7 307.1h0M234.9 312.8h0M182.8 318.4h0M242.6 315.2h0M236.6 326.7h0M202.1 307.4h0M242.6 327.7h0M195.4 309.2h0M225.7 308.8h0M208.4 304.9h0M229.6 308.5h0M197.1 328h0M250.4 321.7h0M207.2 307.4h0M244.7 316.2h0M182.6 322.2h0M185.2 327.7h0M237.3 328.2h0M217.2 330.5h0M244.9 316h0M237.7 313.7h0M248.8 313.7h0M243.7 314.9h0M249.6 326.4h0M251.9 320.4h0M235.2 327.3h0M237.6 313.4h0M253 318.9h0M248.1 325.2h0M194.2 327.9h0M218.4 327.8h0M204.5 307.2h0M239.7 313.2h0M196.3 309h0M252.5 322.7h0M223.4 328.5h0M188.7 311.5h0M242.5 327.3h0M201 328.4h0M184.7 325.6h0M241.8 325.5h0M248.9 315.9h0M197.8 328.9h0M236.2 326.7h0M250.4 318.2h0M246.8 325.7h0M216.2 307.3h0M244.5 314.9h0M240.4 327.3h0M213.2 308.3h0M186.9 310.9h0M211.7 305.4h0M184.4 322.9h0M201.4 328.2h0M249.4 322.7h0M252.6 324.5h0M218.9 328.4h0M244.9 325.4h0M251 324.8h0M187.9 315h0M243.5 315h0M251.7 318h0M238.2 327.8h0M217.8 328.8h0M185.6 318.2h0M192.4 311h0M242 313.4h0M196.2 329.4h0M184 319.8h0M211 329.5h0M189 312.7h0M247.1 317.6h0M249.5 318.9h0M237.3 327.3h0M244.6 325.8h0M237 311.6h0M239.9 326.8h0M215 308.5h0M181.9 325.3h0M184.2 323.4h0M184.3 320.9h0M252.6 323.1h0M246.4 326.7h0M189.2 328.6h0M216.4 329h0M206.8 305.1h0M187.3 315.1h0M251.1 320.6h0M230.2 328.7h0M195.5 308.4h0M237.2 330.6h0M250 318.7h0M185.8 324.4h0M224.8 329.8h0M239.7 327.7h0M203.3 308.3h0M199.8 330.5h0M182.4 322.1h0M194.4 331.8h0M246.7 317h0M237.2 326.4h0M237.1 313.4h0M244.5 314.6h0M202.6 308.4h0M244.4 325.5h0M252.2 325.1h0M250.3 320.5h0M245.9 327.5h0M231.1 327.5h0M243.4 326.5h0M204 329.5h0M249.1 320.7h0M221.6 328.2h0M242 325.9h0M195.5 328h0M197.9 309h0M183.6 318.7h0M220.2 308.4h0M251.3 317.5h0M248.9 318.1h0M217.7 308.3h0M186 321.5h0M217.2 305.3h0M205.1 329.3h0M197.2 329.1h0M212.9 307.9h0M232.1 327.4h0M185.4 324.7h0M246 325.6h0M223 330.4h0M191.5 309.8h0M209.3 328.5h0M202.1 307.8h0M197.6 328.4h0M188.4 327h0M243 326.1h0M190.3 327.7h0M215.4 330.1h0M237.4 312.6h0M248.7 324.4h0M243.7 325.2h0M224.3 330.4h0M249 316.6h0M223.6 307.9h0M196.7 330.6h0M217 328.1h0M182.8 328.9h0M246.3 316.5h0M236.6 312.5h0M250.1 320.7h0M223.3 329.7h0M203.7 307h0M248.2 317.2h0M224.6 309.7h0M203.9 329.3h0M185.5 319.3h0M184.9 325.9h0M236.7 328.5h0M185 316.8h0M226.5 328.7h0M185.5 316.7h0M233 310.3h0M193 327.8h0M233 326.9h0M212.5 330.1h0M188.6 326.9h0M244.7 325.6h0M244.8 315h0M198.6 308.8h0M234.7 327.5h0M249.4 317.7h0M245.1 316.6h0M224 308.6h0M252.9 320.8h0M185.3 313.6h0M234.3 327.6h0M238.4 312.7h0M188.7 327.3h0M228.7 310.3h0M252 320.6h0M228 329.6h0M234.8 327.6h0M249.4 319.1h0M241.4 326.5h0M185.1 321.7h0M219.3 331.1h0M187.8 314.4h0M237.9 327.6h0M227.3 308.2h0M241 314.4h0M234.7 312.2h0M195.8 328h0M222.6 308.8h0M224.7 328.5h0M184 324.8h0M236.9 310.4h0M199.8 308.4h0M194.7 329.7h0M248 327h0M188.2 328.9h0M230.7 311.1h0M209.2 307.6h0M245.8 316.5h0M187.6 311.3h0M244.4 324.9h0M249 323h0M249.8 317.6h0M232.9 309.8h0M186.4 314.4h0M185.5 322.6h0M186.5 315.6h0M196.5 331.2h0M234.1 330.5h0M237.5 313.3h0M191.6 328.9h0M215.1 329.8h0M208.6 307.3h0M188 314.4h0M211.5 307.8h0M210.2 305.5h0M238.8 329.4h0M207.7 305.6h0M212.6 307.9h0M245.3 327.1h0M185.6 316.9h0M248.4 324.2h0M187.6 326.7h0M219.4 329.5h0M211.3 307.4h0M183 319.2h0M208 329h0M185 320.6h0M214.3 307.4h0M186.2 315h0M252.1 317.7h0M231.7 311.6h0M185.9 317.7h0M249.4 318.5h0M212.2 329.3h0M253.5 320h0M241 327.2h0M209.8 306.5h0M216.9 308.9h0M233.1 309.3h0M222.6 308.2h0M247.6 325.6h0M241.7 313.4h0M249.3 320.2h0M206.7 304.7h0M253.9 321.7h0M250.3 325h0M236.9 327h0M232.6 310.1h0M225.7 328h0M214.7 330.4h0M192.2 311.6h0M184.9 313.4h0M216.7 308.5h0M253.7 320h0M251 322.2h0M246.9 324h0M253.8 319.7h0M181 320.8h0M250.3 324.6h0M247.5 316.9h0M190.3 310.4h0M240.5 328.2h0M184.9 321.6h0M250.3 317.1h0M247.1 316.6h0M241.7 326.5h0M226.3 309.5h0M224.5 308.5h0M185.6 321.6h0M227.8 307.6h0M246 324.6h0M195.7 309.2h0M185.6 316.9h0M212.5 330h0M219.8 308.4h0M234.4 310h0M225.3 329.8h0M249.1 319.5h0M202.8 329.7h0M193.9 307.9h0M229.6 309.4h0M185 325h0M218 306.6h0M247.8 315.6h0M197.9 308.3h0M245.7 316.2h0M238.4 326.3h0M252.7 324.5h0M200.8 328h0M184.5 324.7h0M215 328.3h0M243.3 314.8h0M222.4 328.6h0M250.3 317.6h0M220.8 309.3h0M251.3 319h0M244 315.7h0M216 328.2h0M222.5 328.5h0M195.7 327.9h0M241.9 326.1h0M200.9 329.5h0M235.5 327.2h0M201.3 328.6h0M220.8 309.1h0M233.3 327.6h0M184.9 325.2h0M190.5 312h0M233.5 327.7h0M202.3 306.4h0M223 329.6h0M185.5 319.7h0M250.5 323.6h0M238.6 311.5h0M220 309.3h0M193.8 311h0M237.4 327h0M244.3 316h0M185.6 318.7h0M186.5 328.1h0M247.7 315.8h0M243.1 313.8h0M195.2 329h0M252.8 322.5h0M238.5 313.5h0M191.3 311.8h0M252.1 319.7h0M249.1 318.2h0M249.3 322.6h0M242.7 314.3h0M203.5 307.3h0M242.1 314.5h0M217 330.4h0M250.5 320.9h0M223 328.2h0M203.2 328h0M239.6 313.8h0M250.4 325h0M243.4 325.2h0M207 308.2h0M243 325.2h0M212.5 308.1h0M250.3 321.5h0M191.5 330h0M249.1 315.9h0M241.7 325.7h0M250.6 325.8h0M246.5 325.3h0M188.2 326.9h0M185.3 319.9h0M249.2 324.7h0M223.8 328.6h0M201 329.1h0M245.5 316.5h0M249.3 319.9h0M200.9 328.6h0M250.3 320.3h0M190.8 330.1h0M225.5 327.9h0M185.5 320.3h0M234.7 328.1h0M222.5 329.5h0M235.6 312.5h0M213.1 329.6h0M205.6 330.3h0M198.2 328.3h0M243.1 313.6h0M185.5 316.2h0M184.4 322h0M251.5 320h0M242 313.6h0M247.4 317.5h0M214.7 307.8h0M251.2 324.8h0M246.2 325.8h0M186.5 314.8h0M192 328.7h0M216.1 330h0M203.2 328.9h0M206.3 307.7h0M216.3 308.3h0M229.3 328.8h0M183.5 316.1h0M250.1 320.7h0M217.5 307.1h0M247.8 316.7h0M223.5 329.3h0M244.3 324.8h0M250.5 320.7h0M189.6 313.2h0M232.2 327h0M249.2 316.2h0M184.1 318h0M229.7 329.3h0M245.2 314.3h0M190.8 328h0M242 312.3h0M184.2 313.5h0M250 321.3h0M206.4 307.9h0M234.5 327.9h0M211.4 307.8h0M243.5 316h0M190.6 329.7h0M191.7 311.8h0M232.2 310.3h0M220.8 329.3h0M191.4 312.2h0M252.2 323.3h0M241.7 313.6h0M248 315.2h0M202.8 332.2h0M246.3 315.1h0M225.7 308.5h0M185.8 322.9h0M230.4 327.6h0M233.3 328.1h0M201.5 306.9h0M231.7 328.9h0M229.4 331.2h0M250.5 324.9h0M226.9 328.4h0M197.6 308.6h0M183.2 327.7h0M192.2 328.3h0M206.1 307.8h0M237.5 312.5h0M209.3 328.6h0M239.9 313.5h0M184.4 320.4h0M249.2 322.8h0M182.9 317.5h0M198.7 306.4h0M187.7 314.3h0M239.4 326.3h0M249.4 322.4h0M182.6 322.4h0M250.2 321.6h0M203.5 307.9h0M185.4 325.3h0M185.8 325.1h0M223.9 308.6h0M250.7 319.5h0M225.4 309.9h0M247.3 315.1h0M203.2 328h0M231.8 327.7h0M223.2 308.5h0M252.9 322.1h0M236.7 328.1h0M208 306.7h0M219.4 306.7h0M249.2 321.5h0M216.8 330.7h0M214.7 307.6h0M221.7 330.3h0M246.3 315.5h0M202 329.6h0M208.9 328.8h0M241.4 314.4h0M199.5 328.3h0M216.1 329h0M195.1 310.1h0M245.2 325h0M205.1 305.9h0M227.2 327.8h0M220 308.8h0M249.1 321.6h0M223.1 330.3h0M248.3 317.9h0M248.2 324.3h0M247.4 317.3h0M207.8 330.4h0M185.3 316.4h0M183.8 317.9h0M195.3 329.1h0M185.7 324.2h0M243.1 315.3h0M219.7 329.4h0M250.4 321.7h0M183.2 317.8h0M208.8 306h0M250.3 323.1h0M184.5 319.3h0M251.8 323.4h0M185.9 324.3h0M193.4 308.8h0M189.9 330.4h0M229.6 309.1h0M192.5 311h0M244.4 316h0M241.8 313.7h0M192.2 329.2h0M224.6 309.3h0M251.1 320.1h0M249.3 323.2h0M187.6 314.7h0M208.9 330.8h0M206.6 307.6h0M238.6 327.4h0M189.7 328.9h0M184.1 322.4h0M244.1 326.1h0M249.4 326.7h0M185.9 318h0M244.1 314.3h0M248.9 325.5h0M231.6 327.8h0M190 311.3h0M216.9 308.5h0M212.3 307.3h0M200.5 306h0M250.8 316.8h0M188.7 313.1h0M200.7 329.2h0M248.8 323.9h0M186.5 313.9h0M213.7 330.7h0M229.9 311.1h0M187.9 313.5h0M249.2 320.4h0M238.4 326.3h0M233.8 312.2h0M229.7 308.2h0M190.2 311.1h0M252 322.2h0M194.9 328.7h0M244.7 325h0M253.5 322.7h0M249.4 321.3h0M203 306.8h0M249.5 321h0M245.7 315.5h0M246.6 326.2h0M247.7 323.9h0M249.7 321.4h0M250 325.3h0M184.2 315h0M208.7 331.5h0M245.9 313.1h0M200.1 306.8h0M250.2 320.6h0M249.5 318.6h0M187.9 327.5h0M245.5 325.5h0M196.7 308.6h0M232.8 311.8h0M217.8 309h0M251.7 317.1h0M232.5 328.1h0M230.2 310.8h0M205 328.3h0M234.7 312.6h0M221.1 329.2h0M249.9 320.9h0M248 325.9h0M250.2 318.1h0M201.9 307h0M250.5 319.4h0M220.1 309.1h0M249.8 315h0M235.3 312.5h0M234 328.3h0M250.1 320.3h0M225.8 327.7h0M241.3 313.9h0M232.6 328.2h0M249.1 320.1h0M203.5 329.4h0M236.9 329.4h0M185.3 323.6h0M239.3 312.6h0M199.4 330.8h0M244.2 316.2h0M248 325.4h0M189.6 327.4h0M188.2 309h0M185 318.8h0M198 329.1h0M183.6 312.7h0M203.5 328.3h0M242.3 327.2h0M249.3 321.2h0M198 306.2h0M217.8 308.9h0M222.8 309.3h0M250.2 325.6h0M185 322.5h0M185.1 318.4h0M204.1 307h0M207.1 330.2h0M217.1 329.7h0M191.1 311.3h0M238.2 312.3h0M249 322.6h0M229.3 309.5h0M249.3 320.3h0M249.4 321.3h0M250.1 316.9h0M184.6 319.1h0M188.2 314.5h0M200.1 328.4h0M196.8 309.3h0M226 327.8h0M250.6 318.1h0M243.9 326.5h0M249.2 322.2h0M250 322.4h0M242.5 326.4h0M248.2 316.5h0M243.8 325.5h0M251.2 322.3h0M228.8 328.8h0M230.6 329.4h0M236 311.8h0M239.2 314.2h0M214.7 307.4h0M183.1 321.8h0M204.4 306.9h0M239.1 314.1h0M245.3 316.8h0M240.8 314.5h0M251.5 320.1h0M192.3 328.1h0M250.2 321.2h0M228.6 310.4h0M250.4 324.2h0M183.7 326.4h0M237.5 311h0M208 328.8h0M249.3 322h0M247 316.4h0M222.4 328.3h0M198.6 328.2h0M209.7 328.7h0M243.8 324.9h0M212.7 307.5h0M236.8 312.9h0M185.1 321.8h0M213.3 328.9h0M213 328h0M188.1 314.3h0M224.2 308.6h0M247.2 316.7h0M247.1 325.3h0M194.7 308.2h0M210.6 328.5h0M204.8 307.5h0M197.7 328.1h0M184.8 325.8h0M236.7 327.4h0M220 328.6h0M199.6 328.5h0M241.4 313.8h0M203.9 308.4h0M183.1 323h0M185.6 324.3h0M184.6 321.7h0M227.4 308.8h0M197.2 308.3h0M252.4 318.7h0M251.5 321.4h0M182.1 316.7h0M224.5 308.1h0M195.7 309.9h0M227.7 309.2h0M222.3 306.1h0M233.3 306.7h0M243.5 315.8h0M233.9 327.4h0M250.1 319.1h0M241 314.9h0M190.2 310.6h0M191.9 311.6h0M213.1 328.9h0M212.8 329.1h0M249.6 320.3h0M218.5 329h0M199.9 307.4h0M248.2 315.6h0M242.1 327.7h0M251.6 321.5h0M186.5 328.7h0M230.2 328.3h0M241.5 327.3h0M235.3 311.8h0M250.9 319.7h0M205.1 331.1h0M186.7 315.2h0M198.4 308.6h0M246.9 317.6h0M192.8 327.9h0M225.7 310.2h0M235.4 309.7h0M249.8 318.9h0M193 328.1h0M192.2 328.4h0M244.5 326.6h0M235.2 312.5h0M246.7 324.9h0M249.9 323.4h0M249.1 322.1h0M184.5 314.8h0M215.1 328.9h0M241.2 314.9h0M239.3 327.3h0M224 327.9h0M250.5 323.8h0M232.2 328.5h0M206.1 329.7h0M251.7 317.4h0M214.4 332.4h0M185.1 319.9h0M227.2 328.3h0M245.1 326.1h0M211.3 333.3h0M248.1 325.3h0M246.4 317.2h0M239.4 327.2h0M192.1 310.7h0M184.7 317.6h0M246.2 316.5h0M247.6 313.9h0M193.7 307.1h0M223.3 308.3h0M200.9 328.2h0M184.1 326.3h0M202.4 329.5h0M250.6 324.2h0M246.9 310.9h0M247.1 315.7h0M186.4 315h0M190.1 328.3h0M240.3 304.6h0M214.4 332.1h0M256 322.1h0M242.4 311.1h0M184.9 317h0M182 318.6h0M223.9 329.1h0M251.5 326.8h0M251.5 313.2h0M184.1 310.4h0M235.4 310.6h0M214.1 306.1h0M235 330.8h0M252.6 318.9h0M180.8 327.8h0M240.8 312.3h0M247.7 325.4h0M248.2 313h0M241.5 329.7h0M215 306.9h0M252.3 315.6h0M199.4 333.6h0M184.7 325.1h0M249.7 332.7h0M185.4 331.6h0M240.3 331.8h0M252 320h0M250.5 318.8h0M254.3 322.7h0M223.8 307.8h0M227.9 328.4h0M226.5 331.4h0M190.7 328.9h0M215.3 331.1h0M189.6 306h0M227 329.2h0M250.5 316.2h0M247.4 316.1h0M213 332.4h0M188.5 332h0M250.7 317.4h0M182.1 321.8h0M197.1 335h0M251.9 317.5h0M236.1 328.9h0M225.8 305.8h0M234.9 327.8h0M225.9 303.6h0M233.9 311h0M184.8 312h0M190.9 307.1h0M202 303.9h0M234.6 311.5h0M250.7 317.5h0M253.1 314.6h0M235.7 330.8h0M236.9 330.4h0M241.5 314.3h0M224.6 336h0M246.8 304.3h0M228.2 328.8h0M212 307.5h0M247.2 313.5h0M214.2 329.5h0M251.6 315h0M228.3 330.2h0M191.5 329.5h0M240.2 312.4h0M224.5 334.8h0M187.8 312h0M208.3 329.5h0M230 331.9h0M241.1 310.4h0M224.4 307h0M229.6 307.3h0M250.7 314h0M232.8 333.6h0M183.8 308h0M246.2 316.3h0M231 304.9h0M219.1 333.6h0M193.3 308.1h0M241.4 309.7h0M254 320.3h0M246.9 328.4h0M193.9 331.4h0M182.2 329.5h0M228.1 330.7h0M245.7 310.9h0M222.5 302.9h0M239.2 313h0M238.5 326.9h0M178.9 322.6h0M216.1 329.3h0M187.9 307.1h0M215.5 306.2h0M227.4 328.4h0M214.2 305.1h0M189.1 329.8h0M217.1 306h0M183 321.4h0M251.1 313.2h0M184.9 321.9h0M218.5 304.7h0M238.2 312.3h0M239 311.6h0M181.7 330.1h0M208 304.4h0M234.4 311.3h0M218.8 306.7h0M181.3 320.6h0M208.5 305.2h0M239.2 312.2h0M183.8 327.5h0M252 318.6h0M251 318.2h0M199.9 331.2h0M229.9 329.5h0M213.1 306.8h0M226.5 305.1h0M191.6 309.6h0M198.4 307h0M185.6 310.8h0M197.6 306.8h0M252.5 317.6h0M243.6 315h0M250.2 321.4h0M208.1 331.9h0M208.1 305.1h0M208.8 330.1h0M237.7 329.3h0M253.1 315.5h0M255.6 318.6h0M247.7 330.5h0M222.8 330h0M241.5 311.3h0M241.1 311.5h0M189.2 312.1h0M225.4 331.2h0M218.6 333.7h0M223.1 328.4h0M232.7 309.7h0M242.7 314.2h0M251 312h0M206.3 330.8h0M181.3 312.9h0M201.2 332.1h0M249.6 314.9h0M254.6 322.8h0M201.8 305.2h0M223.7 306.1h0M243.1 327.1h0M256.8 323.7h0M228.9 307.1h0M209.2 303.6h0M250.9 323.8h0M246.9 328.1h0M196.6 328.9h0M252 324.3h0M245.1 315.1h0M184.5 322.4h0M212.1 328.7h0M225.8 329h0M254.2 312h0M234 329.3h0M186 302.4h0M213.3 331.3h0M213.6 331h0M240.8 329.3h0M236.7 331h0M183.4 320h0M180.8 324h0M249.7 315.9h0M236.1 310.5h0M235.7 329.7h0M191.2 307.4h0M224.2 309.3h0M216.2 328.8h0M249.4 318h0M211.5 335.4h0M227.3 306.3h0M223.6 331.4h0M246.5 325.3h0M249.7 311.7h0M250.7 322.5h0M195 307.7h0M202.5 306.9h0M234.9 311.1h0M180.3 320h0M244.9 328.9h0M237.5 312.7h0M203.1 307.3h0M183.6 332.2h0M247.9 316.1h0M187.5 311.1h0M181 334.1h0M231.7 307.7h0M254.4 323h0M240.1 311.2h0M185.1 326h0M244 326.8h0M215.6 307.5h0M218.4 330.8h0M182.2 332.4h0M220 329h0M247.6 316.8h0M246.4 330.3h0M195.3 328.8h0M205.3 331.3h0M226 307.7h0M251.2 319.5h0M245.7 330.6h0M207.4 305.8h0M225.5 331.7h0M251.4 320.8h0M196.1 300.5h0M213 306.7h0M199.7 331.8h0M251.1 324h0M235.5 332.4h0M212.4 329.8h0M251.6 321.3h0M199.2 333.6h0M184.1 320.8h0M232.3 329.9h0M181.4 328.9h0M185.6 329.8h0M251.9 325.7h0M233.6 307h0M245 331.3h0M258.5 320.6h0M236.4 329.9h0M224.4 330.6h0M254 328.3h0M192 328.4h0M232.2 309.4h0M194.6 337.7h0M254.7 328h0M203.1 331.2h0M246.7 311.1h0M238.6 311.9h0M230.6 335.9h0M203.6 329.7h0M238.7 328.5h0M193.7 302.3h0M239.7 311.3h0M239.7 327.6h0M222 306h0M203.3 307.4h0M227.6 304.1h0M187.6 313.7h0M244.8 314h0M250.6 328.6h0M206.5 307h0M213 329.5h0M207.8 330.6h0M216.7 306h0M245.5 310.8h0M261 319.6h0M190.9 301.7h0M202.7 335.1h0M204.9 329.3h0M193.4 330.1h0M194.8 301.7h0M228.8 331.4h0M248.7 316.4h0M219.8 305.9h0M245.6 326.9h0M252.6 317.4h0M181.7 328.5h0M191.8 329.4h0M213.8 333.1h0M183 313.9h0M209.6 300.1h0M216.9 334.3h0M242.7 334.3h0M182.7 327.6h0M250.3 322.6h0M208.3 305.7h0M238.4 310.3h0M251.6 325.5h0M194.3 309.2h0M214.8 299.1h0M250 318.1h0M244.3 319.3h0M246.7 322.3h0M248.7 323.3h0M247.1 309.8h0M249.7 319.5h0M247.8 321h0M242.6 328.3h0M246.1 321.8h0M252.6 325.2h0M275 317.5h0M252.9 326.9h0M254.8 323.7h0M253.6 319.3h0M248.1 328.7h0M259.6 319.5h0M264.1 319.6h0M252.3 318.3h0M245.1 322.8h0M247 318.9h0M255.6 327.9h0M247.2 319.1h0M246.8 315.6h0M249 325h0M252 321h0M250 315.5h0M245 322.5h0M248.6 325.3h0M269.2 320.2h0M261.6 334.1h0M247.3 317.3h0M249 318.8h0M272.5 317.8h0M242.5 323.5h0M252.3 312.8h0M246.7 318.1h0M244 328.8h0M250.3 316.2h0M252.9 328.2h0M247.7 317.2h0M266.3 320.9h0M248.1 321.7h0M256.1 321.4h0M249.9 322.9h0M243.5 319.5h0M260.4 326.4h0M276.5 318.6h0M246 324.9h0M257.1 326.2h0M267.3 312h0M254.3 326h0M244.9 317.8h0M248.2 320.3h0M247.1 316.6h0M249.7 323h0M257 324.8h0M255.2 314.7h0M245.8 321.9h0M245.7 309.8h0M248.1 325h0M243 325.1h0M260.2 323h0M250.2 318.7h0M244.5 311.6h0M245.3 323.6h0M244 325.1h0M242.2 319h0M252.7 318.5h0M249.8 314.6h0M252.6 319.6h0M245.3 315.5h0M247.5 319.3h0M247.6 322.7h0M243.4 329.4h0M246.7 321.7h0M253.5 320.5h0M260 323.1h0M248.8 318.8h0M257.2 328.4h0M254.9 316.9h0M261.4 323.7h0M244.1 321.6h0M248.6 319.8h0M246.9 314.1h0M250.2 321.6h0M254.9 315.8h0M271.4 320h0M249.3 315.1h0M255.3 318.7h0M252.7 323.2h0M260.3 317.6h0M276.6 321.7h0M251 313.2h0M266.4 316.2h0M242.6 317.1h0M257.5 324.7h0M245.7 319.3h0M242.9 317.1h0M243 329.6h0M252.7 321.3h0M251.3 321.6h0M266.2 321.4h0M249.6 321.7h0M263.6 326h0M251.5 324.9h0M249.1 318.4h0M248.3 315.7h0M258.5 321.7h0M245.9 316.2h0M259.3 327.1h0M249.4 318h0M243.2 324.7h0M246.4 321.5h0M259.6 320.7h0M251.1 315.6h0M249.5 321.9h0M254.4 324.2h0M248.4 320h0M250.8 322.9h0M243.7 319.7h0M245 315.2h0M246.5 317.4h0M245.8 320.4h0M245.6 327.6h0M243.5 318h0M258.4 326.6h0M245.9 326.5h0M258.4 313.6h0M243.9 319.7h0M256.7 319.9h0M251.3 314h0M254.1 319.4h0M242.4 317.8h0M245.9 322.8h0M250.3 324.7h0M250.8 325h0M245.8 317.3h0M243.8 320.7h0M244.4 319.3h0M255.2 326.8h0M256 320.8h0M249.9 323.6h0M258.5 309.8h0M256 323.6h0M244 323.2h0M301.2 318.3h0M244.9 315.5h0M242.6 321.2h0M254 317.4h0M255.9 324.1h0M272.6 328.2h0M258.8 318.4h0M249 319h0M257 319.4h0M243.1 324.6h0M255.9 320.7h0M242.6 319h0M260.8 325.2h0M254.4 320.6h0M251.7 324.8h0M244.2 315.5h0M247.4 331.5h0M245.7 314.1h0M248.2 327.1h0M260.9 327.2h0M250 322.2h0M246.9 324.8h0M258.9 324.8h0M247.5 327.6h0M249.1 320.8h0M243.8 323.4h0M252.6 320.3h0M277.4 320.4h0M242.3 323.9h0M247 323.5h0M269.1 321.8h0M246.3 318.6h0M244.1 318.5h0M244.9 324h0M260.2 327.4h0M246 323.7h0M245.4 315.7h0M272 327.7h0M244.7 312.4h0M244.7 325.6h0M250.3 311.6h0M280.9 319.7h0M250.1 317.1h0M244.7 332.6h0M249.3 319.4h0M245.8 327.1h0M247.4 329h0M249.3 324.6h0M244.6 319.7h0M258.2 322.3h0M246 316.8h0M250 320.4h0M244.7 319.6h0M251.4 316.5h0M253.9 318.2h0M263.9 320.9h0M262.5 323.9h0M250.8 317.7h0M280.6 317.5h0M247.7 324.6h0M244.8 329.1h0M265.7 320.9h0M253.4 315.3h0M244.6 327.5h0M251.7 317.5h0M247.3 322.6h0M246.2 321.7h0M243 322.1h0M244.7 322h0M251.5 325.6h0M253.2 328.9h0M252.7 319.8h0M245.7 313.2h0M245.9 315.4h0M256.8 327.8h0M246.3 328.2h0M282.5 323.7h0M247.4 322.9h0M247.3 322.4h0M251.6 318.7h0M263.7 327.5h0M248.1 317.4h0M245.1 320h0M254.7 319.7h0M289.8 318.4h0M283.6 324.3h0M247 321.5h0M307.2 324.2h0M286.4 320.6h0M250.4 326.5h0M243.7 328.3h0M250.6 316.1h0M242.4 322.5h0M262.5 319.4h0M243.4 314.2h0M242.9 322h0M248.4 323h0M247.3 319.5h0M249.2 319.1h0M252.4 318.5h0M259.9 325.2h0M243 324.4h0M265.8 324.3h0M245.9 326.3h0M242.9 310.4h0M249.1 326.1h0M246.6 319.9h0M244 324.1h0M242 323.8h0M244.9 314.5h0M267.8 314.9h0M253.8 322.8h0M254.9 323.8h0M275.4 322.2h0M255.8 320.4h0" stroke="#f08816" stroke-width="1.4" stroke-linecap="square"/>
<path d="M238.6 330h0M251.6 314.6h0M184.2 321.7h0M186.4 333.7h0M251.3 316.4h0M226.1 329.1h0M253.4 317.6h0M236.9 312.7h0M203.9 307.2h0M245.1 330.4h0M243.6 331.3h0M209.8 335.9h0M209.8 304.8h0M237.3 312.5h0M240.4 329.1h0M226.2 302.9h0M212.8 329.1h0M245.5 326.1h0M218.9 306.8h0M253.3 316.9h0M230 335.2h0M250 311.6h0M250.1 325.3h0M235.2 304.2h0M199.1 334.4h0M191.4 311.2h0M212.7 306.5h0M200.6 307.4h0M185.2 310.7h0M249.9 324.2h0M225.7 302.6h0M245.2 326.4h0M243.3 315.1h0M228.8 309h0M177.8 320.1h0M247.1 326.2h0M179.7 304h0M187.5 328.3h0M243.3 313.7h0M237.1 312.2h0M182.3 316.5h0M246.6 326.5h0M236.7 306.4h0M184.2 311.2h0M226.4 308.4h0M175.7 319.3h0M233.7 307.7h0M180.9 315.6h0M195.8 329.5h0M181.7 322.2h0M204.9 307.2h0M185.2 319.6h0M250.1 325.5h0M238.8 312h0M242.7 314.7h0M187.5 310.3h0M238.6 309.5h0M194.1 305.4h0M245.1 315.1h0M201.9 334.9h0M219.6 329.9h0M190.8 330.7h0M229.3 328.5h0M218.8 328.9h0M207.1 335.6h0M210.9 331h0M190.3 311.6h0M182.1 324h0M220.5 328.6h0M220.3 308.7h0M239.4 327.7h0M219 330.8h0M205.4 329.3h0M219.7 329.8h0M224.3 333.5h0M208.1 331.1h0M211.2 299.2h0M250.6 326.1h0M216.3 295.6h0M239.5 332.1h0M248.2 328.1h0M217.7 328.9h0M226.7 307.9h0M234.1 327.5h0M214.5 332.1h0M249.1 310.8h0M243 310h0M243.5 314.8h0M216.1 302h0M248.5 328.8h0M186.6 327.5h0M243.5 329.2h0M248.4 332.2h0M183 332.5h0M201.3 306.9h0M250.5 319.1h0M184.9 308.6h0M226.3 305.9h0M182.9 321h0M248.2 310.5h0M185.1 319.4h0M202.1 304.8h0M247.8 330.9h0M188.3 310.2h0M231.8 308.2h0M207.5 328.7h0M209.8 303.6h0M238.4 333.5h0M209.9 330h0M245.4 330.1h0M237.4 310.7h0M222.2 329h0M200.3 329h0M231.5 307.3h0M245.2 314.3h0M223.3 330h0M252.6 325.8h0M184.8 325h0M185 313.9h0M224.9 332.7h0M208.8 301.9h0M235.9 309.4h0M246.9 329h0M242.1 305.7h0M248.6 327.7h0M250.8 311.1h0M223.6 308.9h0M248 312.8h0M211.7 332.4h0M220.6 306.7h0M214.7 333.6h0M195.2 307h0M248 314.3h0M216.2 306.5h0M174.2 314.2h0M185.2 328.1h0M203.8 330.7h0M186.4 328.6h0M206.3 332.9h0M188 327.9h0M249.6 317.2h0M190.5 311.6h0M247.1 329.2h0M244.1 341.9h0M182.7 332.2h0M195.3 330.5h0M210.4 307.3h0M182 308.4h0M229.5 307.8h0M247.5 325.7h0M229.5 310.3h0M248.7 314.4h0M239.8 313.1h0M194.5 305.6h0M250.9 324.2h0M190.4 329.4h0M223.1 303.8h0M235.2 331.2h0M223.3 331h0M181.5 323.5h0M241.1 311.8h0M217.9 330.9h0M184.2 315.6h0M207.1 329.5h0M194.8 309.8h0M239.9 304.2h0M235.7 328.2h0M245.7 325.8h0M184.4 316.2h0M197.8 329.3h0M241.2 326.9h0M215.1 331.6h0M201 329.9h0M195.4 332.9h0M182.3 308h0M219.3 307.7h0M213.9 331.1h0M234.9 311.4h0M243.4 309.2h0M211.6 306.1h0M239.2 329.3h0M237.3 310.5h0M222.6 308.8h0M183.2 321.7h0M190.2 311h0M195.6 333.4h0M211.4 328.9h0M214.6 305.4h0M184.3 313.1h0M236.1 328.9h0M239.6 311.3h0M207.7 303.8h0M183.7 320.9h0M177.9 324.3h0M226.2 328.5h0M237 308.3h0M241.7 313.5h0M225.3 303h0M224.6 329.3h0M206.3 328.8h0M191.6 307.2h0M190 331.9h0M243.8 310h0M247.1 313.8h0M182 305.5h0M232.6 311h0M254 319.6h0M229.4 328.7h0M258.1 325.7h0M217.5 304.8h0M229.3 301.6h0M237.1 308.4h0M249.9 318.1h0M208.7 302.6h0M239.6 327.1h0M253.1 320.8h0M251.9 320.5h0M250.2 324.3h0M242 323.9h0M257.6 325.6h0M241.1 328h0M246.6 325.7h0M246.6 321.7h0M246.4 329.1h0M243.9 324.1h0M250.6 323.9h0M248.3 321.9h0M268.3 320.4h0M243.2 324.4h0M254 325h0M260.8 321.7h0M254.9 311.3h0M260.8 313.4h0M295.8 318.7h0M245.9 324.8h0M246.6 320.3h0M242.8 323.1h0M253.8 314.7h0M248.3 311.5h0M240.4 327.9h0M250.5 315.5h0M254.2 325h0M240.2 318.8h0M242.3 322h0M242.2 317.8h0M243.8 315.4h0M249.6 321.1h0M252.4 318.3h0M250.5 320.3h0M242.3 316.9h0M275.2 320.7h0M257.5 320.4h0M266.8 324.9h0M242.3 324.9h0M254.1 314h0M257.4 328.2h0M249.6 326.3h0M260.9 325.8h0M241.8 325.5h0M253.2 320.7h0M259 319.7h0M240.3 316.9h0M246 327.2h0M243.8 326h0M243 314.6h0M245.6 317.8h0M241.7 315.4h0M247.2 324.1h0M244.3 314.3h0M256.1 324.2h0M253.6 322.9h0M241.6 324h0M252 325.3h0M242.3 317.4h0M259.4 322.4h0M260.2 321.4h0M244.4 331.1h0M248.5 318.2h0M251.8 311h0M240.9 329.9h0M241.9 318.8h0M259.3 318.2h0M243.6 322h0M269.5 308.5h0M241.5 317.8h0M243.2 319.7h0M280.2 318h0M249.2 312.6h0M244.2 320.8h0M251.5 321.2h0M273.3 318.4h0M242.7 322.2h0M241.5 331.9h0M254.1 321.4h0M258.7 315.8h0M248 313.9h0M247.2 323h0M287.2 321h0M256 321.1h0M241.1 323h0M251.3 320.5h0M255.9 325h0M241.1 319.7h0M246.5 322.9h0M250.5 314.9h0M256.5 316.4h0M245.2 322h0M242.7 319.1h0M244.5 322.6h0M242.6 321.4h0M252.1 325.4h0M266.4 326.6h0M242.2 326.1h0M248.8 324.4h0M241.2 323.3h0M274 322.4h0M259.6 314.3h0M250.4 322.9h0M240.6 318.5h0M243.2 318.1h0M248.8 324.2h0M240.1 314.3h0M253.7 316.4h0M258.6 326.9h0M240.7 309.2h0M247.6 315.6h0" stroke="#e94e30" stroke-width="1.3" stroke-linecap="square"/>
<path d="M237.2 283.5h0M248.4 309.4h0M258.6 327.1h0M262.4 302.1h0M264.9 323.6h0M257.5 298.3h0M254.1 300.8h0M257.8 308.3h0M260.8 316.3h0M255.5 317.3h0M265.7 329.5h0M261.7 310.8h0M259.8 305h0M245.5 289.5h0M274 310.7h0M251.8 295.2h0M257.9 302.1h0M247.4 307.4h0M268.9 311.7h0M252.8 308.9h0M253.8 323h0M269.3 304.9h0M239.7 329.1h0M256.3 305.6h0M242.6 314.1h0M253.6 303.2h0M264.6 298.6h0M264.4 309.5h0M261.8 306.8h0M253.1 295.8h0M252.2 317.6h0M243.2 292.6h0M266.8 309.5h0M271.5 303.2h0M247.4 301.2h0M250.8 302.4h0M269 315.2h0M252 310h0M271.9 316.1h0M260 300.2h0M263 314.3h0M246.6 303.2h0M264.8 326.5h0M283.7 337.1h0M260.4 317.8h0M288.1 327.5h0M263.5 320.7h0M275.6 331.4h0M291.7 323.7h0M258.6 322.2h0M261.8 324.7h0M270.4 314.2h0M271.2 324.9h0M288.9 330.1h0M272.6 325.4h0M277.2 326.3h0M258.8 322.5h0M266.3 311.9h0M286 328.5h0M284.5 321.4h0M264.6 327.7h0M274.8 327h0M289.3 317.4h0M281.1 330.6h0M284.6 318.4h0M281.8 316.2h0M306.8 308.6h0M374.1 306.3h0M346.6 301.5h0M343.8 300.2h0M289.2 330.1h0M342.6 303.3h0M343.1 304.6h0M366.9 310.4h0M347.9 292.6h0M282 328.8h0M334.1 313.6h0M340.7 314.1h0M339.5 304.8h0M309.3 323.1h0M320.2 301h0M286.7 322.2h0M320.9 301.2h0M365.9 292.4h0M313.9 338.8h0M353.2 305.2h0M281.3 337.8h0M339.1 317.3h0M285.8 315.9h0M282.8 320.4h0M288.2 314.9h0M278.1 318.1h0M380.9 316.9h0M315.9 312.7h0M330.5 292.2h0M292 314.8h0M280.9 316.8h0M286.3 300.6h0M276.9 307.9h0M291.7 332h0M326.4 297h0M280.1 321.6h0M325 305.3h0M304.5 332.8h0M279.2 318.9h0M286.6 311.4h0M301.8 317.3h0M278.1 334.9h0M320.1 309.3h0M324 300h0M280 326.6h0M293.9 326h0M281.6 320.1h0M371.7 313.4h0M304.9 308.2h0M332.5 323.1h0M288.1 307.3h0M283.6 331.2h0M331.1 302.8h0M296.6 313.4h0M308.8 301.1h0M344.8 319.6h0M289.4 307.9h0M315.7 334.5h0M298.6 300.6h0M288.4 304.4h0M285.7 322.7h0M302.2 311.4h0M322.1 338h0M293.1 316.1h0M321 325.5h0M313.2 327h0M283.2 316.3h0M354.9 295.4h0M293.9 310.4h0M293.2 319.9h0M281.7 321.1h0M324.2 318.5h0M352.2 299.6h0M361.5 311.1h0M293 314.3h0M322.9 323.6h0M346.6 327.2h0M381.8 308.3h0M378.6 322.8h0M340.9 273.1h0M360.4 278.6h0M306.9 303.7h0M310.5 304.1h0M300.4 280.8h0M382.7 319.8h0M331.9 311.4h0M314.5 323.1h0M300.4 324.2h0M289.2 292.9h0M282.8 272h0M373.2 309.4h0M345.5 266.4h0M344.9 289.8h0M361.5 270h0M379.7 288.4h0M380.6 306h0M358.6 292.6h0M342.6 323.7h0M311.3 268.1h0M366.9 336.3h0M337.5 281.7h0M387.7 280h0M365.8 293.3h0M328.7 302.6h0M323.7 301.3h0M378.2 286.1h0M381.5 286.9h0M384.3 282.6h0M327.4 285h0M247.8 294.6h0M275.3 305.1h0M270.3 290.2h0M275.2 287.7h0M272 305.8h0" stroke="#2aa6c9" stroke-width="1.4" stroke-linecap="square"/></g>
<g stroke="#000" fill="none">
<rect x="123.3" y="39.9" width="266.09999999999997" height="304.8" stroke-width="1.7"/>
<line x1="123.5" y1="140.2" x2="389.5" y2="140.2" stroke-width="1.6"/>
<line x1="123.5" y1="242.2" x2="389.5" y2="242.2" stroke-width="1.6"/>
<line x1="275.5" y1="40" x2="275.5" y2="344" stroke-width="1.1"/>
</g>
<path d="M118 62.3H123M118 117.4H123M120.5 134H123M120.5 129.6H123M120.5 125.9H123M120.5 122.7H123M120.5 119.9H123M120.5 100.8H123M120.5 91.1H123M120.5 84.2H123M120.5 78.9H123M120.5 74.5H123M120.5 70.8H123M120.5 67.6H123M120.5 64.8H123M120.5 45.7H123M118 163.7H123M118 217H123M120.5 238.2H123M120.5 233H123M120.5 228.8H123M120.5 225.3H123M120.5 222.2H123M120.5 219.4H123M120.5 201H123M120.5 191.6H123M120.5 184.9H123M120.5 179.7H123M120.5 175.5H123M120.5 172H123M120.5 168.9H123M120.5 166.1H123M120.5 147.7H123M118 265.5H123M118 318.7H123M120.5 339.9H123M120.5 334.7H123M120.5 330.5H123M120.5 326.9H123M120.5 323.9H123M120.5 321.1H123M120.5 302.7H123M120.5 293.3H123M120.5 286.7H123M120.5 281.5H123M120.5 277.3H123M120.5 273.7H123M120.5 270.7H123M120.5 267.9H123M120.5 249.5H123" stroke="#000" stroke-width="1.1" fill="none"/>
<path d="M139.2 140.2v5.5M226.2 140.2v5.5M299.2 140.2v5.5M362.8 140.2v5.5M143.8 140.2v3M148.4 140.2v3M153 140.2v3M157.6 140.2v3M162.2 140.2v3M166.8 140.2v3M171.4 140.2v3M176 140.2v3M191.5 140.2v3M195.5 140.2v3M199.5 140.2v3M203.5 140.2v3M207.5 140.2v3M211.5 140.2v3M215.5 140.2v3M219.5 140.2v3M248.2 140.2v3M261 140.2v3M270.2 140.2v3M277.2 140.2v3M283 140.2v3M287.9 140.2v3M292.1 140.2v3M295.9 140.2v3M318.3 140.2v3M329.5 140.2v3M337.5 140.2v3M343.7 140.2v3M348.7 140.2v3M352.9 140.2v3M356.6 140.2v3M359.9 140.2v3M381.9 140.2v3M178.2 140.2v3.6M180.2 140.2v3.6M182 140.2v3.6M183.8 140.2v3.6M185.6 140.2v3.6M139.2 242.2v5.5M226.2 242.2v5.5M299.2 242.2v5.5M362.8 242.2v5.5M143.8 242.2v3M148.4 242.2v3M153 242.2v3M157.6 242.2v3M162.2 242.2v3M166.8 242.2v3M171.4 242.2v3M176 242.2v3M191.5 242.2v3M195.5 242.2v3M199.5 242.2v3M203.5 242.2v3M207.5 242.2v3M211.5 242.2v3M215.5 242.2v3M219.5 242.2v3M248.2 242.2v3M261 242.2v3M270.2 242.2v3M277.2 242.2v3M283 242.2v3M287.9 242.2v3M292.1 242.2v3M295.9 242.2v3M318.3 242.2v3M329.5 242.2v3M337.5 242.2v3M343.7 242.2v3M348.7 242.2v3M352.9 242.2v3M356.6 242.2v3M359.9 242.2v3M381.9 242.2v3M178.2 242.2v3.6M180.2 242.2v3.6M182 242.2v3.6M183.8 242.2v3.6M185.6 242.2v3.6M139.2 344.7v5.5M226.2 344.7v5.5M299.2 344.7v5.5M362.8 344.7v5.5M143.8 344.7v3M148.4 344.7v3M153 344.7v3M157.6 344.7v3M162.2 344.7v3M166.8 344.7v3M171.4 344.7v3M176 344.7v3M191.5 344.7v3M195.5 344.7v3M199.5 344.7v3M203.5 344.7v3M207.5 344.7v3M211.5 344.7v3M215.5 344.7v3M219.5 344.7v3M248.2 344.7v3M261 344.7v3M270.2 344.7v3M277.2 344.7v3M283 344.7v3M287.9 344.7v3M292.1 344.7v3M295.9 344.7v3M318.3 344.7v3M329.5 344.7v3M337.5 344.7v3M343.7 344.7v3M348.7 344.7v3M352.9 344.7v3M356.6 344.7v3M359.9 344.7v3M381.9 344.7v3M178.2 344.7v3.6M180.2 344.7v3.6M182 344.7v3.6M183.8 344.7v3.6M185.6 344.7v3.6" stroke="#000" stroke-width="1.1" fill="none"/>
<g font-family="Liberation Sans, sans-serif" fill="#111"><text x="91.3" y="70.5" font-size="13.2">10<tspan dx="0.6" dy="-7.2" font-size="9.3">5</tspan></text><text x="91.3" y="125.6" font-size="13.2">10<tspan dx="0.6" dy="-7.2" font-size="9.3">4</tspan></text><text x="91.3" y="171.9" font-size="13.2">10<tspan dx="0.6" dy="-7.2" font-size="9.3">5</tspan></text><text x="91.3" y="225.2" font-size="13.2">10<tspan dx="0.6" dy="-7.2" font-size="9.3">4</tspan></text><text x="91.3" y="273.7" font-size="13.2">10<tspan dx="0.6" dy="-7.2" font-size="9.3">5</tspan></text><text x="91.3" y="326.9" font-size="13.2">10<tspan dx="0.6" dy="-7.2" font-size="9.3">4</tspan></text></g>
<g font-family="Liberation Sans, sans-serif" fill="#111"><text x="125.5" y="376" font-size="13.2">−10<tspan dx="0.6" dy="-7.2" font-size="9.3">3</tspan></text><text x="184.3" y="376" font-size="13.2">0</text><text x="218.7" y="376" font-size="13.2">10<tspan dx="0.6" dy="-7.2" font-size="9.3">3</tspan></text><text x="296" y="376" font-size="13.2">10<tspan dx="0.6" dy="-7.2" font-size="9.3">4</tspan></text><text x="355" y="376" font-size="13.2">10<tspan dx="0.6" dy="-7.2" font-size="9.3">5</tspan></text></g>
<text font-family="Liberation Sans, sans-serif" font-size="16" fill="#111" stroke="#111" stroke-width="0.35" transform="translate(234 398.2) scale(0.715 1)">Sulfatide</text>
<text font-family="Liberation Sans, sans-serif" font-size="16" fill="#111" stroke="#111" stroke-width="0.35" transform="translate(80.6 207.5) rotate(-90) scale(0.66 1)">FSC-A</text>
<text font-family="Liberation Sans, sans-serif" font-size="22.4" font-weight="bold" x="44.2" y="23" fill="#000" stroke="#000" stroke-width="0.35">A</text>
<rect x="212.8" y="2.2" width="10.8" height="10.2" fill="#e94e30"/>
<text font-family="Liberation Sans, sans-serif" font-size="12.7" x="229" y="11.8" fill="#111">Unstained control</text>
<rect x="123.7" y="22" width="10" height="10" fill="#f29025"/>
<text font-family="Liberation Sans, sans-serif" font-size="13.1" x="139.5" y="31.7" fill="#111">without NBS (Normoxic)</text>
<rect x="288.3" y="22.4" width="9.4" height="9.4" fill="#18a0c8"/>
<text font-family="Liberation Sans, sans-serif" font-size="12.85" x="300.9" y="31.7" fill="#111">with NBS (Hypoxic)</text>
<g font-family="Liberation Sans, sans-serif" font-size="12.8" fill="#111" transform="translate(0 0)">
<text x="437.3" y="56.9" text-anchor="middle">Patient A</text>
<text x="437.3" y="71.4" text-anchor="middle" font-size="13.3">HbS (%) - 63</text>
<text x="444" y="91.4" text-anchor="end" font-size="13.3">0.03%</text>
<text x="444" y="106" text-anchor="end" font-size="13.3">0.08%</text>
<text x="444" y="120.6" text-anchor="end" font-size="13.3">22.5%</text>
</g>
<rect x="450" y="82.2" width="10.5" height="10.5" fill="#e94e30"/>
<rect x="450" y="96.8" width="10.5" height="10.5" fill="#f29025"/>
<rect x="450" y="111.4" width="10.5" height="10.5" fill="#18a0c8"/>
<g font-family="Liberation Sans, sans-serif" font-size="12.8" fill="#111" transform="translate(0.8 0)">
<text x="437.3" y="161.5" text-anchor="middle">Patient B</text>
<text x="437.3" y="176" text-anchor="middle" font-size="13.3">HbS (%) - 76</text>
<text x="444" y="196" text-anchor="end" font-size="13.3">0.22%</text>
<text x="444" y="210.6" text-anchor="end" font-size="13.3">0.41%</text>
<text x="444" y="225.2" text-anchor="end" font-size="13.3">18.9%</text>
</g>
<rect x="450.4" y="186.8" width="10.5" height="10.5" fill="#e94e30"/>
<rect x="450.4" y="201.4" width="10.5" height="10.5" fill="#f29025"/>
<rect x="450.4" y="216" width="10.5" height="10.5" fill="#18a0c8"/>
<g font-family="Liberation Sans, sans-serif" font-size="12.8" fill="#111" transform="translate(0.8 0)">
<text x="437.3" y="269.9" text-anchor="middle">Patient C</text>
<text x="437.3" y="284.4" text-anchor="middle" font-size="13.3">HbS (%) - 79</text>
<text x="444" y="304.4" text-anchor="end" font-size="13.3">0.35%</text>
<text x="444" y="319" text-anchor="end" font-size="13.3">0.23%</text>
<text x="444" y="333.6" text-anchor="end" font-size="13.3">18.6%</text>
</g>
<rect x="450.4" y="295.2" width="10.5" height="10.5" fill="#e94e30"/>
<rect x="450.4" y="309.8" width="10.5" height="10.5" fill="#f29025"/>
<rect x="450.4" y="324.4" width="10.5" height="10.5" fill="#18a0c8"/>
<text font-family="Liberation Sans, sans-serif" font-size="22.4" font-weight="bold" x="0.5" y="450.8" fill="#000" stroke="#000" stroke-width="0.35">B</text>
<path d="M94 759.5H100M96.5 737.6H100M94 715.7H100M96.5 693.8H100M94 671.9H100M96.5 650H100M94 628.1H100M96.5 606.2H100M94 584.4H100M96.5 562.5H100M94 540.6H100M96.5 518.7H100M94 496.8H100M96.5 474.9H100M94 453H100" stroke="#000" stroke-width="1.3" fill="none"/>
<g font-family="Liberation Sans, sans-serif" font-size="14" fill="#111"><text x="87.6" y="764.1" text-anchor="end">0</text><text x="87.6" y="720.3" text-anchor="end">2000</text><text x="87.6" y="676.5" text-anchor="end">4000</text><text x="87.6" y="632.7" text-anchor="end">6000</text><text x="87.6" y="589" text-anchor="end">8000</text><text x="87.6" y="545.2" text-anchor="end">10000</text><text x="87.6" y="501.4" text-anchor="end">12000</text><text x="87.6" y="457.6" text-anchor="end">14000</text></g>
<text font-family="Liberation Sans, sans-serif" font-size="16" fill="#111" stroke="#111" stroke-width="0.45" text-anchor="middle" transform="translate(19.2 599.5) rotate(-90) scale(0.738 1)">Total number of adherent red blood cells</text>
<text font-family="Liberation Sans, sans-serif" font-size="16" fill="#111" stroke="#111" stroke-width="0.45" text-anchor="middle" transform="translate(37.2 599.8) rotate(-90) scale(0.743 1)">(reticulocytes+mature erythrocytes)</text>
<defs><clipPath id="bandclip"><path d="M142.5 733.5 L226.4 666.8 L310.5 632.5 L393.9 646 L477.4 680.8 L477.4 712.3 L393.9 692.5 L310.5 676.5 L226.4 696.5 L142.5 742.5Z"/></clipPath></defs>
<path d="M142.5 733.5 L226.4 666.8 L310.5 632.5 L393.9 646 L477.4 680.8 L477.4 712.3 L393.9 692.5 L310.5 676.5 L226.4 696.5 L142.5 742.5Z" fill="#0f6b4b"/>
<polyline points="142.5,739.5 226.4,682.5 310.5,655.3 393.9,668.6 477.4,698.2" fill="none" stroke="#061f16" stroke-width="1.4" stroke-linejoin="round"/>
<g fill="none" stroke="#c8c3ca" stroke-width="1.5" stroke-linejoin="round"><polyline points="142.5,712.5 226.4,581.3 310.5,557.4 393.9,525.1 477.4,624"/><polyline points="142.5,728.8 226.4,629.1 310.5,548.8 393.9,568.6 477.4,633.3"/><polyline points="142.5,733 226.4,695.3 310.5,578.6 393.9,643 477.4,724.4"/><polyline points="142.5,730.5 226.4,648.3 310.5,638 393.9,685.2 477.4,675.8"/><polyline points="142.5,752.5 226.4,650.6 310.5,653.5 393.9,636.9 477.4,680.8"/><polyline points="142.5,736.5 226.4,701.3 310.5,679.6 393.9,692 477.4,684.4"/><polyline points="142.5,740 226.4,703.6 310.5,681.4 393.9,707.5 477.4,728"/><polyline points="142.5,744 226.4,725.4 310.5,697.2 393.9,710.6 477.4,731.8"/><polyline points="142.5,754.5 226.4,749.6 310.5,749.6 393.9,751 477.4,749.4"/><polyline points="142.5,758 226.4,752.2 310.5,750.3 393.9,753.4 477.4,752.2"/></g>
<g fill="none" stroke="#b4e3cc" stroke-width="1.5" stroke-linejoin="round" clip-path="url(#bandclip)"><polyline points="142.5,712.5 226.4,581.3 310.5,557.4 393.9,525.1 477.4,624"/><polyline points="142.5,728.8 226.4,629.1 310.5,548.8 393.9,568.6 477.4,633.3"/><polyline points="142.5,733 226.4,695.3 310.5,578.6 393.9,643 477.4,724.4"/><polyline points="142.5,730.5 226.4,648.3 310.5,638 393.9,685.2 477.4,675.8"/><polyline points="142.5,752.5 226.4,650.6 310.5,653.5 393.9,636.9 477.4,680.8"/><polyline points="142.5,736.5 226.4,701.3 310.5,679.6 393.9,692 477.4,684.4"/><polyline points="142.5,740 226.4,703.6 310.5,681.4 393.9,707.5 477.4,728"/><polyline points="142.5,744 226.4,725.4 310.5,697.2 393.9,710.6 477.4,731.8"/><polyline points="142.5,754.5 226.4,749.6 310.5,749.6 393.9,751 477.4,749.4"/><polyline points="142.5,758 226.4,752.2 310.5,750.3 393.9,753.4 477.4,752.2"/></g>
<g fill="#a6d494" fill-opacity="0.85" stroke="#8cc27a" stroke-width="1"><circle cx="142.5" cy="712.5" r="3.2"/><circle cx="226.4" cy="581.3" r="3.2"/><circle cx="310.5" cy="557.4" r="3.2"/><circle cx="393.9" cy="525.1" r="3.2"/><circle cx="477.4" cy="624" r="3.2"/><circle cx="142.5" cy="728.8" r="3.2"/><circle cx="226.4" cy="629.1" r="3.2"/><circle cx="310.5" cy="548.8" r="3.2"/><circle cx="393.9" cy="568.6" r="3.2"/><circle cx="477.4" cy="633.3" r="3.2"/><circle cx="142.5" cy="733" r="3.2"/><circle cx="226.4" cy="695.3" r="3.2"/><circle cx="310.5" cy="578.6" r="3.2"/><circle cx="393.9" cy="643" r="3.2"/><circle cx="477.4" cy="724.4" r="3.2"/><circle cx="142.5" cy="730.5" r="3.2"/><circle cx="226.4" cy="648.3" r="3.2"/><circle cx="310.5" cy="638" r="3.2"/><circle cx="393.9" cy="685.2" r="3.2"/><circle cx="477.4" cy="675.8" r="3.2"/><circle cx="142.5" cy="752.5" r="3.2"/><circle cx="226.4" cy="650.6" r="3.2"/><circle cx="310.5" cy="653.5" r="3.2"/><circle cx="393.9" cy="636.9" r="3.2"/><circle cx="477.4" cy="680.8" r="3.2"/><circle cx="142.5" cy="736.5" r="3.2"/><circle cx="226.4" cy="701.3" r="3.2"/><circle cx="310.5" cy="679.6" r="3.2"/><circle cx="393.9" cy="692" r="3.2"/><circle cx="477.4" cy="684.4" r="3.2"/><circle cx="142.5" cy="740" r="3.2"/><circle cx="226.4" cy="703.6" r="3.2"/><circle cx="310.5" cy="681.4" r="3.2"/><circle cx="393.9" cy="707.5" r="3.2"/><circle cx="477.4" cy="728" r="3.2"/><circle cx="142.5" cy="744" r="3.2"/><circle cx="226.4" cy="725.4" r="3.2"/><circle cx="310.5" cy="697.2" r="3.2"/><circle cx="393.9" cy="710.6" r="3.2"/><circle cx="477.4" cy="731.8" r="3.2"/><circle cx="142.5" cy="754.5" r="3.2"/><circle cx="226.4" cy="749.6" r="3.2"/><circle cx="310.5" cy="749.6" r="3.2"/><circle cx="393.9" cy="751" r="3.2"/><circle cx="477.4" cy="749.4" r="3.2"/><circle cx="142.5" cy="758" r="3.2"/><circle cx="226.4" cy="752.2" r="3.2"/><circle cx="310.5" cy="750.3" r="3.2"/><circle cx="393.9" cy="753.4" r="3.2"/><circle cx="477.4" cy="752.2" r="3.2"/></g>
<line x1="99.8" y1="430.5" x2="99.8" y2="769.5" stroke="#000" stroke-width="1.6"/>
<line x1="99" y1="768.8" x2="520" y2="768.8" stroke="#000" stroke-width="2"/>
<path d="M142.5 769V773.5M226.4 769V773.5M310.5 769V773.5M393.9 769V773.5M477.4 769V773.5" stroke="#000" stroke-width="1.4"/>
<g font-family="Liberation Sans, sans-serif" font-size="13.4" fill="#111"><text x="142.5" y="792.2" text-anchor="middle">Normoxia</text><text x="142.5" y="809.3" text-anchor="middle">Control</text><text x="226.4" y="792.2" text-anchor="middle">Hypoxia</text><text x="226.4" y="809.3" text-anchor="middle">Control</text><text x="310.5" y="792.2" text-anchor="middle">Hypoxia</text><text x="310.5" y="809.3" text-anchor="middle">SMase</text><text x="393.9" y="792.2" text-anchor="middle">Hypoxia</text><text x="393.9" y="809.3" text-anchor="middle">SMase</text><text x="393.9" y="826.4" text-anchor="middle">Control Ab</text><text x="477.4" y="792.2" text-anchor="middle">Hypoxia</text><text x="477.4" y="809.3" text-anchor="middle">SMase</text><text x="477.4" y="826.4" text-anchor="middle">Sulfatide Ab</text></g>
<rect x="104" y="433.2" width="35" height="17.2" fill="#0f6b4b"/>
<line x1="104" y1="441.7" x2="139" y2="441.7" stroke="#061f16" stroke-width="1.3"/>
<text font-family="Liberation Sans, sans-serif" font-size="14" x="141" y="448" fill="#111">95% CI</text>
<path d="M227 454V446.7H478V454M310.5 475V468.3H478V475M310.7 497V490H394V497M227 518.5V511.5H310.7V518.5M394.3 517.7V510.8H478V517.7M142.7 539V532.2H226.7V539" stroke="#000" stroke-width="1.5" fill="none"/>
<g font-family="Liberation Sans, sans-serif" font-size="14" fill="#111"><text x="325.8" y="442.8" font-style="italic">P</text><path d="M338.2 437.7H347.7M338.2 440.5H347.7" stroke="#111" stroke-width="1.1"/><text x="350.1" y="442.8" letter-spacing="0.7">.036</text><text x="367.5" y="462.3" font-style="italic">P</text><path d="M380 457.2H389.4M380 460H389.4" stroke="#111" stroke-width="1.1"/><text x="391.8" y="462.3" letter-spacing="0.7">.011</text><text x="325.6" y="484.5" font-style="italic">P</text><path d="M338.1 479.4H347.5M338.1 482.2H347.5" stroke="#111" stroke-width="1.1"/><text x="349.9" y="484.5" letter-spacing="0.7">.155</text><text x="242.1" y="506.3" font-style="italic">P</text><path d="M254.6 501.2H264M254.6 504H264" stroke="#111" stroke-width="1.1"/><text x="266.4" y="506.3" letter-spacing="0.7">.035</text><text x="409.4" y="508.5" font-style="italic">P</text><path d="M421.9 503.4H431.3M421.9 506.2H431.3" stroke="#111" stroke-width="1.1"/><text x="433.7" y="508.5" letter-spacing="0.7">.032</text><text x="157.9" y="522.8" font-style="italic">P</text><path d="M170.4 517.7H179.8M170.4 520.5H179.8" stroke="#111" stroke-width="1.1"/><text x="182.2" y="522.8" letter-spacing="0.7">.003</text></g>
</svg>
</body></html>
